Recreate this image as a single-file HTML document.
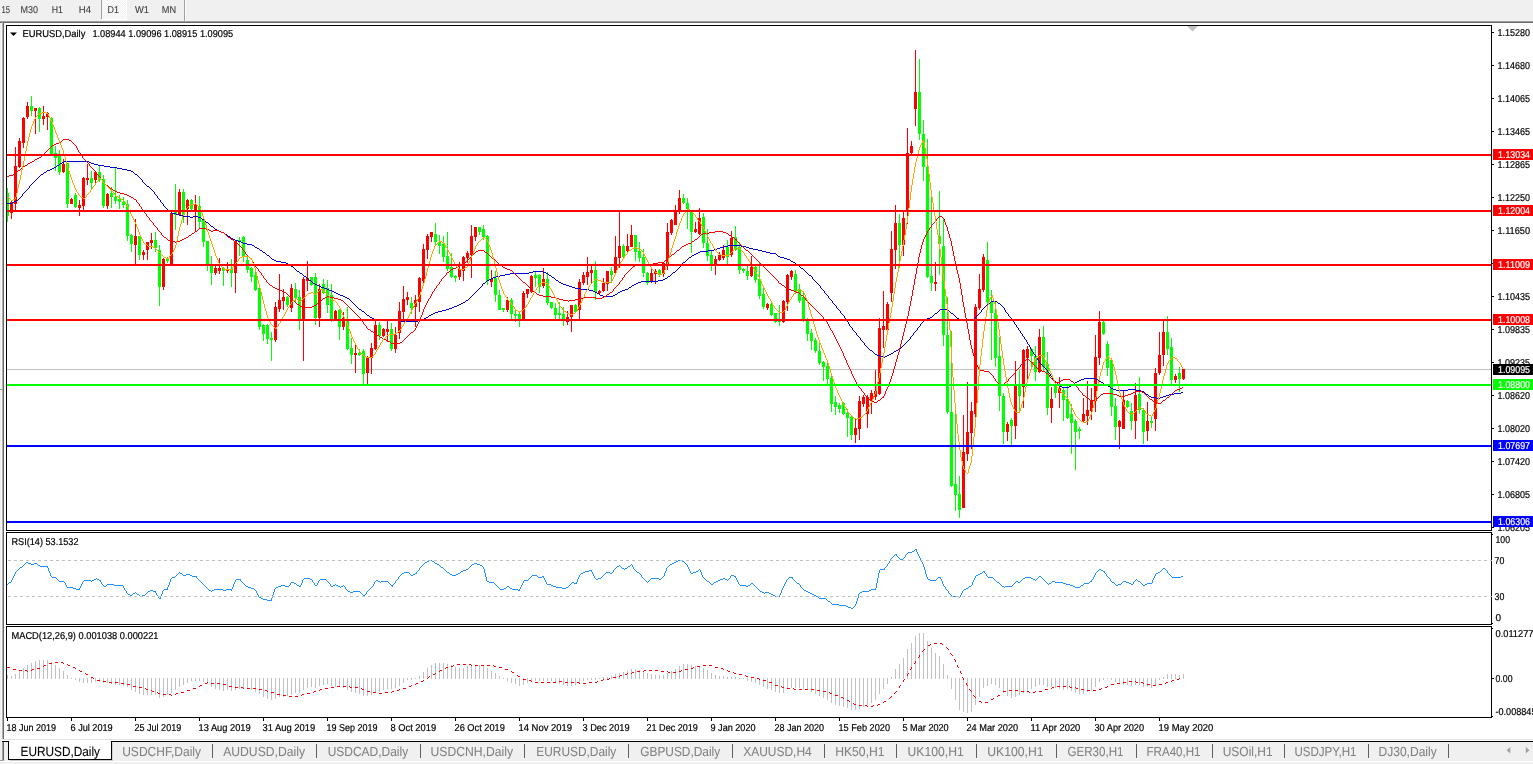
<!DOCTYPE html>
<html><head><meta charset="utf-8"><title>EURUSD,Daily</title>
<style>html,body{margin:0;padding:0;background:#fff;overflow:hidden}svg text{white-space:pre}</style></head>
<body>
<svg width="1533" height="764" viewBox="0 0 1533 764" font-family="Liberation Sans, sans-serif" text-rendering="geometricPrecision" style="display:block">
<defs><pattern id="chk" width="2" height="2" patternUnits="userSpaceOnUse"><rect width="2" height="2" fill="#f0f0f0"/><rect width="1" height="1" fill="#fff"/><rect x="1" y="1" width="1" height="1" fill="#fff"/></pattern></defs>
<g shape-rendering="crispEdges">
<rect x="0" y="0" width="1533" height="764" fill="#fff"/>
<rect x="0" y="0" width="1533" height="21" fill="#f0f0f0"/>
<rect x="0" y="21" width="1533" height="1" fill="#a0a0a0"/>
<rect x="0" y="22" width="1533" height="1" fill="#696969"/>
<rect x="0" y="23" width="1" height="716" fill="#f0f0f0"/>
<rect x="1" y="23" width="1" height="716" fill="#f8f8f8"/>
<rect x="2" y="22" width="1" height="717" fill="#b0b0b0"/>
<rect x="3" y="22" width="1" height="717" fill="#696969"/>
<rect x="0" y="389" width="2" height="1" fill="#a0a0a0"/>
<rect x="0" y="390" width="2" height="1" fill="#fff"/>
<rect x="101" y="0" width="1" height="19" fill="#a0a0a0"/>
<rect x="102" y="0" width="24" height="19" fill="url(#chk)"/>
<rect x="126" y="0" width="1" height="20" fill="#fff"/>
<rect x="102" y="19" width="25" height="1" fill="#fff"/>
<rect x="184" y="0" width="1" height="21" fill="#a0a0a0"/>
<rect x="185" y="0" width="1" height="21" fill="#fff"/>
<rect x="0" y="739" width="1533" height="25" fill="#f0f0f0"/>
<rect x="2" y="739" width="1533" height="1" fill="#e3e3e3"/>
<rect x="2" y="740" width="1533" height="1" fill="#fff"/>
<rect x="0" y="761" width="1533" height="1" fill="#fff"/>
<rect x="2" y="741" width="1533" height="1" fill="#000"/>
<rect x="9" y="740" width="102" height="19" fill="#fff"/>
<rect x="8" y="741" width="1" height="19" fill="#000"/>
<rect x="111" y="741" width="1" height="19" fill="#000"/>
<rect x="8" y="759" width="104" height="1" fill="#000"/>
<rect x="112" y="743" width="1" height="18" fill="#d0d0d0"/>
<rect x="10" y="760" width="103" height="1" fill="#c8c8c8"/>
<rect x="2" y="742" width="1" height="19" fill="#a0a0a0"/>
<rect x="3" y="742" width="1" height="19" fill="#696969"/>
<rect x="0" y="760" width="4" height="1" fill="#a0a0a0"/>
<rect x="7" y="369" width="1484" height="1" fill="#c0c0c0"/>
<rect x="7" y="188" width="1" height="34" fill="#00ff00"/>
<rect x="6" y="193" width="3" height="23" fill="#00ff00"/>
<rect x="11" y="200" width="1" height="19" fill="#ff0000"/>
<rect x="10" y="202" width="3" height="11" fill="#ff0000"/>
<rect x="15" y="147" width="1" height="64" fill="#ff0000"/>
<rect x="14" y="166" width="3" height="38" fill="#ff0000"/>
<rect x="19" y="138" width="1" height="30" fill="#ff0000"/>
<rect x="18" y="141" width="3" height="26" fill="#ff0000"/>
<rect x="23" y="117" width="1" height="31" fill="#ff0000"/>
<rect x="22" y="118" width="3" height="25" fill="#ff0000"/>
<rect x="27" y="102" width="1" height="17" fill="#ff0000"/>
<rect x="26" y="106" width="3" height="11" fill="#ff0000"/>
<rect x="31" y="96" width="1" height="20" fill="#00ff00"/>
<rect x="30" y="106" width="3" height="5" fill="#00ff00"/>
<rect x="35" y="108" width="1" height="26" fill="#ff0000"/>
<rect x="34" y="108" width="3" height="3" fill="#ff0000"/>
<rect x="39" y="107" width="1" height="25" fill="#00ff00"/>
<rect x="38" y="108" width="3" height="11" fill="#00ff00"/>
<rect x="43" y="106" width="1" height="19" fill="#ff0000"/>
<rect x="42" y="116" width="3" height="3" fill="#ff0000"/>
<rect x="47" y="112" width="1" height="18" fill="#ff0000"/>
<rect x="46" y="113" width="3" height="4" fill="#ff0000"/>
<rect x="51" y="117" width="1" height="38" fill="#00ff00"/>
<rect x="50" y="118" width="3" height="36" fill="#00ff00"/>
<rect x="55" y="146" width="1" height="25" fill="#00ff00"/>
<rect x="54" y="153" width="3" height="5" fill="#00ff00"/>
<rect x="59" y="150" width="1" height="25" fill="#00ff00"/>
<rect x="58" y="155" width="3" height="17" fill="#00ff00"/>
<rect x="63" y="159" width="1" height="14" fill="#ff0000"/>
<rect x="62" y="164" width="3" height="8" fill="#ff0000"/>
<rect x="67" y="163" width="1" height="45" fill="#00ff00"/>
<rect x="66" y="163" width="3" height="41" fill="#00ff00"/>
<rect x="71" y="198" width="1" height="6" fill="#ff0000"/>
<rect x="70" y="199" width="3" height="5" fill="#ff0000"/>
<rect x="75" y="193" width="1" height="15" fill="#00ff00"/>
<rect x="74" y="195" width="3" height="12" fill="#00ff00"/>
<rect x="79" y="200" width="1" height="16" fill="#ff0000"/>
<rect x="78" y="205" width="3" height="3" fill="#ff0000"/>
<rect x="83" y="177" width="1" height="33" fill="#ff0000"/>
<rect x="82" y="178" width="3" height="28" fill="#ff0000"/>
<rect x="87" y="164" width="1" height="21" fill="#ff0000"/>
<rect x="86" y="178" width="3" height="2" fill="#ff0000"/>
<rect x="91" y="171" width="1" height="19" fill="#00ff00"/>
<rect x="90" y="178" width="3" height="5" fill="#00ff00"/>
<rect x="95" y="171" width="1" height="12" fill="#ff0000"/>
<rect x="94" y="172" width="3" height="8" fill="#ff0000"/>
<rect x="99" y="166" width="1" height="16" fill="#00ff00"/>
<rect x="98" y="172" width="3" height="8" fill="#00ff00"/>
<rect x="103" y="175" width="1" height="33" fill="#00ff00"/>
<rect x="102" y="179" width="3" height="27" fill="#00ff00"/>
<rect x="107" y="193" width="1" height="16" fill="#ff0000"/>
<rect x="106" y="194" width="3" height="12" fill="#ff0000"/>
<rect x="111" y="187" width="1" height="21" fill="#00ff00"/>
<rect x="110" y="193" width="3" height="4" fill="#00ff00"/>
<rect x="115" y="167" width="1" height="37" fill="#00ff00"/>
<rect x="114" y="197" width="3" height="4" fill="#00ff00"/>
<rect x="119" y="195" width="1" height="14" fill="#00ff00"/>
<rect x="118" y="199" width="3" height="3" fill="#00ff00"/>
<rect x="123" y="197" width="1" height="11" fill="#00ff00"/>
<rect x="122" y="202" width="3" height="3" fill="#00ff00"/>
<rect x="127" y="200" width="1" height="41" fill="#00ff00"/>
<rect x="126" y="204" width="3" height="32" fill="#00ff00"/>
<rect x="131" y="234" width="1" height="18" fill="#00ff00"/>
<rect x="130" y="235" width="3" height="9" fill="#00ff00"/>
<rect x="135" y="219" width="1" height="45" fill="#ff0000"/>
<rect x="134" y="236" width="3" height="9" fill="#ff0000"/>
<rect x="139" y="236" width="1" height="24" fill="#00ff00"/>
<rect x="138" y="236" width="3" height="19" fill="#00ff00"/>
<rect x="143" y="250" width="1" height="10" fill="#ff0000"/>
<rect x="142" y="252" width="3" height="3" fill="#ff0000"/>
<rect x="147" y="242" width="1" height="18" fill="#ff0000"/>
<rect x="146" y="242" width="3" height="8" fill="#ff0000"/>
<rect x="151" y="233" width="1" height="16" fill="#ff0000"/>
<rect x="150" y="240" width="3" height="3" fill="#ff0000"/>
<rect x="155" y="232" width="1" height="20" fill="#00ff00"/>
<rect x="154" y="240" width="3" height="8" fill="#00ff00"/>
<rect x="159" y="245" width="1" height="61" fill="#00ff00"/>
<rect x="158" y="250" width="3" height="37" fill="#00ff00"/>
<rect x="163" y="258" width="1" height="32" fill="#ff0000"/>
<rect x="162" y="259" width="3" height="28" fill="#ff0000"/>
<rect x="167" y="257" width="1" height="6" fill="#00ff00"/>
<rect x="166" y="258" width="3" height="3" fill="#00ff00"/>
<rect x="171" y="212" width="1" height="53" fill="#ff0000"/>
<rect x="170" y="213" width="3" height="51" fill="#ff0000"/>
<rect x="175" y="184" width="1" height="46" fill="#00ff00"/>
<rect x="174" y="212" width="3" height="3" fill="#00ff00"/>
<rect x="179" y="189" width="1" height="27" fill="#ff0000"/>
<rect x="178" y="192" width="3" height="23" fill="#ff0000"/>
<rect x="183" y="189" width="1" height="34" fill="#00ff00"/>
<rect x="182" y="192" width="3" height="23" fill="#00ff00"/>
<rect x="187" y="199" width="1" height="26" fill="#ff0000"/>
<rect x="186" y="200" width="3" height="9" fill="#ff0000"/>
<rect x="191" y="199" width="1" height="11" fill="#00ff00"/>
<rect x="190" y="200" width="3" height="9" fill="#00ff00"/>
<rect x="195" y="195" width="1" height="37" fill="#ff0000"/>
<rect x="194" y="205" width="3" height="6" fill="#ff0000"/>
<rect x="199" y="196" width="1" height="32" fill="#00ff00"/>
<rect x="198" y="206" width="3" height="16" fill="#00ff00"/>
<rect x="203" y="219" width="1" height="28" fill="#00ff00"/>
<rect x="202" y="220" width="3" height="22" fill="#00ff00"/>
<rect x="207" y="241" width="1" height="30" fill="#00ff00"/>
<rect x="206" y="241" width="3" height="23" fill="#00ff00"/>
<rect x="211" y="256" width="1" height="29" fill="#00ff00"/>
<rect x="210" y="265" width="3" height="8" fill="#00ff00"/>
<rect x="215" y="264" width="1" height="11" fill="#ff0000"/>
<rect x="214" y="268" width="3" height="5" fill="#ff0000"/>
<rect x="219" y="258" width="1" height="16" fill="#ff0000"/>
<rect x="218" y="268" width="3" height="3" fill="#ff0000"/>
<rect x="223" y="267" width="1" height="19" fill="#00ff00"/>
<rect x="222" y="268" width="3" height="3" fill="#00ff00"/>
<rect x="227" y="262" width="1" height="11" fill="#ff0000"/>
<rect x="226" y="269" width="3" height="2" fill="#ff0000"/>
<rect x="231" y="259" width="1" height="28" fill="#00ff00"/>
<rect x="230" y="269" width="3" height="4" fill="#00ff00"/>
<rect x="235" y="240" width="1" height="53" fill="#ff0000"/>
<rect x="234" y="241" width="3" height="32" fill="#ff0000"/>
<rect x="239" y="237" width="1" height="19" fill="#00ff00"/>
<rect x="238" y="240" width="3" height="2" fill="#00ff00"/>
<rect x="243" y="236" width="1" height="26" fill="#00ff00"/>
<rect x="242" y="237" width="3" height="20" fill="#00ff00"/>
<rect x="247" y="256" width="1" height="17" fill="#00ff00"/>
<rect x="246" y="260" width="3" height="10" fill="#00ff00"/>
<rect x="251" y="267" width="1" height="15" fill="#00ff00"/>
<rect x="250" y="268" width="3" height="9" fill="#00ff00"/>
<rect x="255" y="269" width="1" height="22" fill="#00ff00"/>
<rect x="254" y="275" width="3" height="15" fill="#00ff00"/>
<rect x="259" y="288" width="1" height="42" fill="#00ff00"/>
<rect x="258" y="288" width="3" height="39" fill="#00ff00"/>
<rect x="263" y="324" width="1" height="17" fill="#00ff00"/>
<rect x="262" y="325" width="3" height="9" fill="#00ff00"/>
<rect x="267" y="324" width="1" height="20" fill="#00ff00"/>
<rect x="266" y="325" width="3" height="14" fill="#00ff00"/>
<rect x="271" y="332" width="1" height="29" fill="#00ff00"/>
<rect x="270" y="338" width="3" height="2" fill="#00ff00"/>
<rect x="275" y="302" width="1" height="40" fill="#ff0000"/>
<rect x="274" y="307" width="3" height="33" fill="#ff0000"/>
<rect x="279" y="274" width="1" height="38" fill="#ff0000"/>
<rect x="278" y="300" width="3" height="9" fill="#ff0000"/>
<rect x="283" y="289" width="1" height="21" fill="#ff0000"/>
<rect x="282" y="297" width="3" height="4" fill="#ff0000"/>
<rect x="287" y="296" width="1" height="11" fill="#00ff00"/>
<rect x="286" y="297" width="3" height="8" fill="#00ff00"/>
<rect x="291" y="284" width="1" height="28" fill="#ff0000"/>
<rect x="290" y="288" width="3" height="20" fill="#ff0000"/>
<rect x="295" y="283" width="1" height="19" fill="#00ff00"/>
<rect x="294" y="289" width="3" height="9" fill="#00ff00"/>
<rect x="299" y="290" width="1" height="40" fill="#00ff00"/>
<rect x="298" y="297" width="3" height="22" fill="#00ff00"/>
<rect x="303" y="277" width="1" height="84" fill="#ff0000"/>
<rect x="302" y="279" width="3" height="40" fill="#ff0000"/>
<rect x="307" y="261" width="1" height="30" fill="#ff0000"/>
<rect x="306" y="278" width="3" height="3" fill="#ff0000"/>
<rect x="311" y="277" width="1" height="9" fill="#00ff00"/>
<rect x="310" y="277" width="3" height="8" fill="#00ff00"/>
<rect x="315" y="273" width="1" height="52" fill="#00ff00"/>
<rect x="314" y="277" width="3" height="41" fill="#00ff00"/>
<rect x="319" y="284" width="1" height="43" fill="#ff0000"/>
<rect x="318" y="289" width="3" height="29" fill="#ff0000"/>
<rect x="323" y="279" width="1" height="15" fill="#00ff00"/>
<rect x="322" y="284" width="3" height="9" fill="#00ff00"/>
<rect x="327" y="280" width="1" height="33" fill="#00ff00"/>
<rect x="326" y="288" width="3" height="17" fill="#00ff00"/>
<rect x="331" y="284" width="1" height="38" fill="#00ff00"/>
<rect x="330" y="295" width="3" height="24" fill="#00ff00"/>
<rect x="335" y="310" width="1" height="10" fill="#ff0000"/>
<rect x="334" y="311" width="3" height="8" fill="#ff0000"/>
<rect x="339" y="309" width="1" height="31" fill="#00ff00"/>
<rect x="338" y="310" width="3" height="17" fill="#00ff00"/>
<rect x="343" y="312" width="1" height="18" fill="#ff0000"/>
<rect x="342" y="318" width="3" height="9" fill="#ff0000"/>
<rect x="347" y="307" width="1" height="43" fill="#00ff00"/>
<rect x="346" y="321" width="3" height="28" fill="#00ff00"/>
<rect x="351" y="338" width="1" height="26" fill="#00ff00"/>
<rect x="350" y="348" width="3" height="7" fill="#00ff00"/>
<rect x="355" y="343" width="1" height="30" fill="#ff0000"/>
<rect x="354" y="353" width="3" height="2" fill="#ff0000"/>
<rect x="359" y="349" width="1" height="7" fill="#00ff00"/>
<rect x="358" y="353" width="3" height="2" fill="#00ff00"/>
<rect x="363" y="349" width="1" height="36" fill="#00ff00"/>
<rect x="362" y="351" width="3" height="23" fill="#00ff00"/>
<rect x="367" y="356" width="1" height="30" fill="#ff0000"/>
<rect x="366" y="357" width="3" height="16" fill="#ff0000"/>
<rect x="371" y="343" width="1" height="31" fill="#ff0000"/>
<rect x="370" y="348" width="3" height="10" fill="#ff0000"/>
<rect x="375" y="321" width="1" height="29" fill="#ff0000"/>
<rect x="374" y="325" width="3" height="24" fill="#ff0000"/>
<rect x="379" y="322" width="1" height="18" fill="#00ff00"/>
<rect x="378" y="325" width="3" height="11" fill="#00ff00"/>
<rect x="383" y="328" width="1" height="9" fill="#ff0000"/>
<rect x="382" y="329" width="3" height="7" fill="#ff0000"/>
<rect x="387" y="321" width="1" height="21" fill="#ff0000"/>
<rect x="386" y="329" width="3" height="3" fill="#ff0000"/>
<rect x="391" y="323" width="1" height="28" fill="#00ff00"/>
<rect x="390" y="329" width="3" height="20" fill="#00ff00"/>
<rect x="395" y="327" width="1" height="26" fill="#ff0000"/>
<rect x="394" y="335" width="3" height="14" fill="#ff0000"/>
<rect x="399" y="302" width="1" height="37" fill="#ff0000"/>
<rect x="398" y="311" width="3" height="22" fill="#ff0000"/>
<rect x="403" y="286" width="1" height="33" fill="#ff0000"/>
<rect x="402" y="299" width="3" height="13" fill="#ff0000"/>
<rect x="407" y="292" width="1" height="13" fill="#ff0000"/>
<rect x="406" y="297" width="3" height="3" fill="#ff0000"/>
<rect x="411" y="297" width="1" height="17" fill="#00ff00"/>
<rect x="410" y="303" width="3" height="5" fill="#00ff00"/>
<rect x="415" y="295" width="1" height="32" fill="#ff0000"/>
<rect x="414" y="300" width="3" height="7" fill="#ff0000"/>
<rect x="419" y="277" width="1" height="35" fill="#ff0000"/>
<rect x="418" y="278" width="3" height="24" fill="#ff0000"/>
<rect x="423" y="244" width="1" height="42" fill="#ff0000"/>
<rect x="422" y="249" width="3" height="32" fill="#ff0000"/>
<rect x="427" y="234" width="1" height="25" fill="#ff0000"/>
<rect x="426" y="236" width="3" height="14" fill="#ff0000"/>
<rect x="431" y="232" width="1" height="10" fill="#ff0000"/>
<rect x="430" y="232" width="3" height="5" fill="#ff0000"/>
<rect x="435" y="223" width="1" height="23" fill="#00ff00"/>
<rect x="434" y="234" width="3" height="8" fill="#00ff00"/>
<rect x="439" y="235" width="1" height="19" fill="#00ff00"/>
<rect x="438" y="242" width="3" height="4" fill="#00ff00"/>
<rect x="443" y="236" width="1" height="26" fill="#00ff00"/>
<rect x="442" y="244" width="3" height="13" fill="#00ff00"/>
<rect x="447" y="232" width="1" height="39" fill="#00ff00"/>
<rect x="446" y="256" width="3" height="13" fill="#00ff00"/>
<rect x="451" y="253" width="1" height="25" fill="#00ff00"/>
<rect x="450" y="267" width="3" height="10" fill="#00ff00"/>
<rect x="455" y="275" width="1" height="7" fill="#00ff00"/>
<rect x="454" y="276" width="3" height="2" fill="#00ff00"/>
<rect x="459" y="262" width="1" height="18" fill="#ff0000"/>
<rect x="458" y="269" width="3" height="8" fill="#ff0000"/>
<rect x="463" y="256" width="1" height="25" fill="#ff0000"/>
<rect x="462" y="257" width="3" height="14" fill="#ff0000"/>
<rect x="467" y="251" width="1" height="12" fill="#ff0000"/>
<rect x="466" y="253" width="3" height="5" fill="#ff0000"/>
<rect x="471" y="225" width="1" height="53" fill="#ff0000"/>
<rect x="470" y="236" width="3" height="19" fill="#ff0000"/>
<rect x="475" y="227" width="1" height="14" fill="#ff0000"/>
<rect x="474" y="227" width="3" height="10" fill="#ff0000"/>
<rect x="479" y="227" width="1" height="8" fill="#00ff00"/>
<rect x="478" y="227" width="3" height="5" fill="#00ff00"/>
<rect x="483" y="225" width="1" height="15" fill="#00ff00"/>
<rect x="482" y="229" width="3" height="8" fill="#00ff00"/>
<rect x="487" y="235" width="1" height="50" fill="#00ff00"/>
<rect x="486" y="236" width="3" height="45" fill="#00ff00"/>
<rect x="491" y="270" width="1" height="17" fill="#ff0000"/>
<rect x="490" y="279" width="3" height="3" fill="#ff0000"/>
<rect x="495" y="271" width="1" height="31" fill="#00ff00"/>
<rect x="494" y="278" width="3" height="17" fill="#00ff00"/>
<rect x="499" y="290" width="1" height="20" fill="#00ff00"/>
<rect x="498" y="295" width="3" height="15" fill="#00ff00"/>
<rect x="503" y="308" width="1" height="4" fill="#00ff00"/>
<rect x="502" y="308" width="3" height="2" fill="#00ff00"/>
<rect x="507" y="297" width="1" height="15" fill="#ff0000"/>
<rect x="506" y="300" width="3" height="10" fill="#ff0000"/>
<rect x="511" y="298" width="1" height="21" fill="#00ff00"/>
<rect x="510" y="300" width="3" height="14" fill="#00ff00"/>
<rect x="515" y="310" width="1" height="12" fill="#00ff00"/>
<rect x="514" y="314" width="3" height="2" fill="#00ff00"/>
<rect x="519" y="312" width="1" height="15" fill="#00ff00"/>
<rect x="518" y="314" width="3" height="5" fill="#00ff00"/>
<rect x="523" y="291" width="1" height="28" fill="#ff0000"/>
<rect x="522" y="293" width="3" height="26" fill="#ff0000"/>
<rect x="527" y="289" width="1" height="9" fill="#ff0000"/>
<rect x="526" y="289" width="3" height="5" fill="#ff0000"/>
<rect x="531" y="275" width="1" height="18" fill="#ff0000"/>
<rect x="530" y="276" width="3" height="16" fill="#ff0000"/>
<rect x="535" y="272" width="1" height="15" fill="#00ff00"/>
<rect x="534" y="275" width="3" height="3" fill="#00ff00"/>
<rect x="539" y="274" width="1" height="19" fill="#00ff00"/>
<rect x="538" y="275" width="3" height="12" fill="#00ff00"/>
<rect x="543" y="268" width="1" height="20" fill="#ff0000"/>
<rect x="542" y="279" width="3" height="7" fill="#ff0000"/>
<rect x="547" y="272" width="1" height="33" fill="#00ff00"/>
<rect x="546" y="279" width="3" height="24" fill="#00ff00"/>
<rect x="551" y="302" width="1" height="7" fill="#00ff00"/>
<rect x="550" y="302" width="3" height="6" fill="#00ff00"/>
<rect x="555" y="303" width="1" height="16" fill="#00ff00"/>
<rect x="554" y="308" width="3" height="7" fill="#00ff00"/>
<rect x="559" y="302" width="1" height="17" fill="#00ff00"/>
<rect x="558" y="313" width="3" height="2" fill="#00ff00"/>
<rect x="563" y="307" width="1" height="19" fill="#00ff00"/>
<rect x="562" y="314" width="3" height="7" fill="#00ff00"/>
<rect x="567" y="311" width="1" height="14" fill="#ff0000"/>
<rect x="566" y="317" width="3" height="5" fill="#ff0000"/>
<rect x="571" y="305" width="1" height="27" fill="#ff0000"/>
<rect x="570" y="305" width="3" height="12" fill="#ff0000"/>
<rect x="575" y="304" width="1" height="9" fill="#00ff00"/>
<rect x="574" y="305" width="3" height="7" fill="#00ff00"/>
<rect x="579" y="279" width="1" height="41" fill="#ff0000"/>
<rect x="578" y="282" width="3" height="28" fill="#ff0000"/>
<rect x="583" y="272" width="1" height="13" fill="#ff0000"/>
<rect x="582" y="275" width="3" height="8" fill="#ff0000"/>
<rect x="587" y="257" width="1" height="28" fill="#ff0000"/>
<rect x="586" y="272" width="3" height="5" fill="#ff0000"/>
<rect x="591" y="264" width="1" height="20" fill="#ff0000"/>
<rect x="590" y="270" width="3" height="3" fill="#ff0000"/>
<rect x="595" y="261" width="1" height="39" fill="#00ff00"/>
<rect x="594" y="270" width="3" height="22" fill="#00ff00"/>
<rect x="599" y="290" width="1" height="5" fill="#ff0000"/>
<rect x="598" y="291" width="3" height="2" fill="#ff0000"/>
<rect x="603" y="278" width="1" height="14" fill="#ff0000"/>
<rect x="602" y="283" width="3" height="8" fill="#ff0000"/>
<rect x="607" y="271" width="1" height="20" fill="#ff0000"/>
<rect x="606" y="271" width="3" height="13" fill="#ff0000"/>
<rect x="611" y="267" width="1" height="16" fill="#00ff00"/>
<rect x="610" y="271" width="3" height="4" fill="#00ff00"/>
<rect x="615" y="236" width="1" height="38" fill="#ff0000"/>
<rect x="614" y="257" width="3" height="16" fill="#ff0000"/>
<rect x="619" y="212" width="1" height="56" fill="#ff0000"/>
<rect x="618" y="246" width="3" height="12" fill="#ff0000"/>
<rect x="623" y="244" width="1" height="15" fill="#00ff00"/>
<rect x="622" y="246" width="3" height="11" fill="#00ff00"/>
<rect x="627" y="234" width="1" height="18" fill="#ff0000"/>
<rect x="626" y="246" width="3" height="5" fill="#ff0000"/>
<rect x="631" y="225" width="1" height="22" fill="#ff0000"/>
<rect x="630" y="235" width="3" height="12" fill="#ff0000"/>
<rect x="635" y="235" width="1" height="26" fill="#00ff00"/>
<rect x="634" y="235" width="3" height="17" fill="#00ff00"/>
<rect x="639" y="242" width="1" height="20" fill="#00ff00"/>
<rect x="638" y="251" width="3" height="7" fill="#00ff00"/>
<rect x="643" y="249" width="1" height="28" fill="#00ff00"/>
<rect x="642" y="257" width="3" height="16" fill="#00ff00"/>
<rect x="647" y="272" width="1" height="13" fill="#00ff00"/>
<rect x="646" y="273" width="3" height="10" fill="#00ff00"/>
<rect x="651" y="268" width="1" height="15" fill="#ff0000"/>
<rect x="650" y="273" width="3" height="9" fill="#ff0000"/>
<rect x="655" y="269" width="1" height="15" fill="#ff0000"/>
<rect x="654" y="271" width="3" height="3" fill="#ff0000"/>
<rect x="659" y="269" width="1" height="8" fill="#00ff00"/>
<rect x="658" y="270" width="3" height="5" fill="#00ff00"/>
<rect x="663" y="262" width="1" height="15" fill="#ff0000"/>
<rect x="662" y="263" width="3" height="11" fill="#ff0000"/>
<rect x="667" y="223" width="1" height="47" fill="#ff0000"/>
<rect x="666" y="232" width="3" height="34" fill="#ff0000"/>
<rect x="671" y="219" width="1" height="16" fill="#ff0000"/>
<rect x="670" y="220" width="3" height="13" fill="#ff0000"/>
<rect x="675" y="205" width="1" height="20" fill="#ff0000"/>
<rect x="674" y="211" width="3" height="14" fill="#ff0000"/>
<rect x="679" y="190" width="1" height="24" fill="#ff0000"/>
<rect x="678" y="198" width="3" height="14" fill="#ff0000"/>
<rect x="683" y="194" width="1" height="10" fill="#00ff00"/>
<rect x="682" y="198" width="3" height="5" fill="#00ff00"/>
<rect x="687" y="198" width="1" height="31" fill="#00ff00"/>
<rect x="686" y="203" width="3" height="6" fill="#00ff00"/>
<rect x="691" y="211" width="1" height="42" fill="#00ff00"/>
<rect x="690" y="212" width="3" height="20" fill="#00ff00"/>
<rect x="695" y="222" width="1" height="11" fill="#ff0000"/>
<rect x="694" y="229" width="3" height="3" fill="#ff0000"/>
<rect x="699" y="208" width="1" height="27" fill="#ff0000"/>
<rect x="698" y="218" width="3" height="16" fill="#ff0000"/>
<rect x="703" y="213" width="1" height="35" fill="#00ff00"/>
<rect x="702" y="217" width="3" height="26" fill="#00ff00"/>
<rect x="707" y="229" width="1" height="32" fill="#00ff00"/>
<rect x="706" y="243" width="3" height="13" fill="#00ff00"/>
<rect x="711" y="251" width="1" height="20" fill="#00ff00"/>
<rect x="710" y="255" width="3" height="9" fill="#00ff00"/>
<rect x="715" y="256" width="1" height="19" fill="#ff0000"/>
<rect x="714" y="259" width="3" height="5" fill="#ff0000"/>
<rect x="719" y="252" width="1" height="9" fill="#ff0000"/>
<rect x="718" y="255" width="3" height="5" fill="#ff0000"/>
<rect x="723" y="245" width="1" height="15" fill="#ff0000"/>
<rect x="722" y="250" width="3" height="8" fill="#ff0000"/>
<rect x="727" y="240" width="1" height="24" fill="#00ff00"/>
<rect x="726" y="247" width="3" height="10" fill="#00ff00"/>
<rect x="731" y="231" width="1" height="26" fill="#ff0000"/>
<rect x="730" y="238" width="3" height="17" fill="#ff0000"/>
<rect x="735" y="226" width="1" height="25" fill="#00ff00"/>
<rect x="734" y="237" width="3" height="13" fill="#00ff00"/>
<rect x="739" y="242" width="1" height="32" fill="#00ff00"/>
<rect x="738" y="247" width="3" height="23" fill="#00ff00"/>
<rect x="743" y="268" width="1" height="5" fill="#00ff00"/>
<rect x="742" y="269" width="3" height="2" fill="#00ff00"/>
<rect x="747" y="266" width="1" height="14" fill="#00ff00"/>
<rect x="746" y="271" width="3" height="5" fill="#00ff00"/>
<rect x="751" y="256" width="1" height="21" fill="#ff0000"/>
<rect x="750" y="267" width="3" height="9" fill="#ff0000"/>
<rect x="755" y="266" width="1" height="17" fill="#00ff00"/>
<rect x="754" y="267" width="3" height="13" fill="#00ff00"/>
<rect x="759" y="262" width="1" height="37" fill="#00ff00"/>
<rect x="758" y="279" width="3" height="17" fill="#00ff00"/>
<rect x="763" y="287" width="1" height="22" fill="#00ff00"/>
<rect x="762" y="294" width="3" height="13" fill="#00ff00"/>
<rect x="767" y="303" width="1" height="7" fill="#ff0000"/>
<rect x="766" y="304" width="3" height="4" fill="#ff0000"/>
<rect x="771" y="302" width="1" height="14" fill="#00ff00"/>
<rect x="770" y="304" width="3" height="11" fill="#00ff00"/>
<rect x="775" y="313" width="1" height="10" fill="#00ff00"/>
<rect x="774" y="313" width="3" height="9" fill="#00ff00"/>
<rect x="779" y="305" width="1" height="21" fill="#00ff00"/>
<rect x="778" y="320" width="3" height="2" fill="#00ff00"/>
<rect x="783" y="300" width="1" height="23" fill="#ff0000"/>
<rect x="782" y="301" width="3" height="21" fill="#ff0000"/>
<rect x="787" y="274" width="1" height="37" fill="#ff0000"/>
<rect x="786" y="275" width="3" height="27" fill="#ff0000"/>
<rect x="791" y="270" width="1" height="10" fill="#ff0000"/>
<rect x="790" y="271" width="3" height="6" fill="#ff0000"/>
<rect x="795" y="270" width="1" height="24" fill="#00ff00"/>
<rect x="794" y="274" width="3" height="18" fill="#00ff00"/>
<rect x="799" y="284" width="1" height="19" fill="#00ff00"/>
<rect x="798" y="289" width="3" height="12" fill="#00ff00"/>
<rect x="803" y="292" width="1" height="30" fill="#00ff00"/>
<rect x="802" y="297" width="3" height="23" fill="#00ff00"/>
<rect x="807" y="318" width="1" height="23" fill="#00ff00"/>
<rect x="806" y="320" width="3" height="14" fill="#00ff00"/>
<rect x="811" y="329" width="1" height="21" fill="#00ff00"/>
<rect x="810" y="333" width="3" height="8" fill="#00ff00"/>
<rect x="815" y="338" width="1" height="15" fill="#00ff00"/>
<rect x="814" y="340" width="3" height="11" fill="#00ff00"/>
<rect x="819" y="343" width="1" height="22" fill="#00ff00"/>
<rect x="818" y="351" width="3" height="12" fill="#00ff00"/>
<rect x="823" y="361" width="1" height="20" fill="#00ff00"/>
<rect x="822" y="362" width="3" height="5" fill="#00ff00"/>
<rect x="827" y="361" width="1" height="23" fill="#00ff00"/>
<rect x="826" y="366" width="3" height="13" fill="#00ff00"/>
<rect x="831" y="376" width="1" height="36" fill="#00ff00"/>
<rect x="830" y="378" width="3" height="26" fill="#00ff00"/>
<rect x="835" y="396" width="1" height="19" fill="#00ff00"/>
<rect x="834" y="402" width="3" height="5" fill="#00ff00"/>
<rect x="839" y="403" width="1" height="10" fill="#00ff00"/>
<rect x="838" y="405" width="3" height="4" fill="#00ff00"/>
<rect x="843" y="402" width="1" height="13" fill="#00ff00"/>
<rect x="842" y="403" width="3" height="11" fill="#00ff00"/>
<rect x="847" y="409" width="1" height="28" fill="#00ff00"/>
<rect x="846" y="413" width="3" height="5" fill="#00ff00"/>
<rect x="851" y="416" width="1" height="24" fill="#00ff00"/>
<rect x="850" y="417" width="3" height="18" fill="#00ff00"/>
<rect x="855" y="419" width="1" height="24" fill="#ff0000"/>
<rect x="854" y="428" width="3" height="7" fill="#ff0000"/>
<rect x="859" y="396" width="1" height="44" fill="#ff0000"/>
<rect x="858" y="401" width="3" height="28" fill="#ff0000"/>
<rect x="863" y="395" width="1" height="12" fill="#ff0000"/>
<rect x="862" y="397" width="3" height="7" fill="#ff0000"/>
<rect x="867" y="395" width="1" height="33" fill="#ff0000"/>
<rect x="866" y="397" width="3" height="17" fill="#ff0000"/>
<rect x="871" y="390" width="1" height="24" fill="#ff0000"/>
<rect x="870" y="393" width="3" height="7" fill="#ff0000"/>
<rect x="875" y="370" width="1" height="30" fill="#ff0000"/>
<rect x="874" y="391" width="3" height="6" fill="#ff0000"/>
<rect x="879" y="318" width="1" height="77" fill="#ff0000"/>
<rect x="878" y="328" width="3" height="66" fill="#ff0000"/>
<rect x="883" y="291" width="1" height="57" fill="#ff0000"/>
<rect x="882" y="326" width="3" height="4" fill="#ff0000"/>
<rect x="887" y="302" width="1" height="30" fill="#ff0000"/>
<rect x="886" y="304" width="3" height="26" fill="#ff0000"/>
<rect x="891" y="231" width="1" height="71" fill="#ff0000"/>
<rect x="890" y="249" width="3" height="44" fill="#ff0000"/>
<rect x="895" y="205" width="1" height="64" fill="#ff0000"/>
<rect x="894" y="223" width="3" height="27" fill="#ff0000"/>
<rect x="899" y="214" width="1" height="54" fill="#00ff00"/>
<rect x="898" y="223" width="3" height="22" fill="#00ff00"/>
<rect x="903" y="211" width="1" height="45" fill="#ff0000"/>
<rect x="902" y="218" width="3" height="27" fill="#ff0000"/>
<rect x="907" y="128" width="1" height="96" fill="#ff0000"/>
<rect x="906" y="153" width="3" height="57" fill="#ff0000"/>
<rect x="911" y="141" width="1" height="15" fill="#ff0000"/>
<rect x="910" y="146" width="3" height="7" fill="#ff0000"/>
<rect x="915" y="50" width="1" height="76" fill="#ff0000"/>
<rect x="914" y="92" width="3" height="17" fill="#ff0000"/>
<rect x="919" y="59" width="1" height="81" fill="#00ff00"/>
<rect x="918" y="92" width="3" height="42" fill="#00ff00"/>
<rect x="923" y="120" width="1" height="61" fill="#00ff00"/>
<rect x="922" y="134" width="3" height="33" fill="#00ff00"/>
<rect x="927" y="139" width="1" height="139" fill="#00ff00"/>
<rect x="926" y="167" width="3" height="110" fill="#00ff00"/>
<rect x="931" y="197" width="1" height="94" fill="#00ff00"/>
<rect x="930" y="276" width="3" height="7" fill="#00ff00"/>
<rect x="935" y="262" width="1" height="29" fill="#ff0000"/>
<rect x="934" y="282" width="3" height="2" fill="#ff0000"/>
<rect x="939" y="191" width="1" height="84" fill="#00ff00"/>
<rect x="938" y="236" width="3" height="8" fill="#00ff00"/>
<rect x="943" y="218" width="1" height="128" fill="#00ff00"/>
<rect x="942" y="246" width="3" height="89" fill="#00ff00"/>
<rect x="947" y="297" width="1" height="117" fill="#00ff00"/>
<rect x="946" y="335" width="3" height="77" fill="#00ff00"/>
<rect x="951" y="331" width="1" height="156" fill="#00ff00"/>
<rect x="950" y="412" width="3" height="74" fill="#00ff00"/>
<rect x="955" y="414" width="1" height="97" fill="#00ff00"/>
<rect x="954" y="484" width="3" height="11" fill="#00ff00"/>
<rect x="959" y="476" width="1" height="42" fill="#00ff00"/>
<rect x="958" y="494" width="3" height="16" fill="#00ff00"/>
<rect x="963" y="415" width="1" height="93" fill="#ff0000"/>
<rect x="962" y="452" width="3" height="56" fill="#ff0000"/>
<rect x="967" y="382" width="1" height="79" fill="#ff0000"/>
<rect x="966" y="432" width="3" height="22" fill="#ff0000"/>
<rect x="971" y="402" width="1" height="47" fill="#ff0000"/>
<rect x="970" y="411" width="3" height="22" fill="#ff0000"/>
<rect x="975" y="304" width="1" height="119" fill="#ff0000"/>
<rect x="974" y="307" width="3" height="107" fill="#ff0000"/>
<rect x="979" y="274" width="1" height="36" fill="#ff0000"/>
<rect x="978" y="289" width="3" height="19" fill="#ff0000"/>
<rect x="983" y="254" width="1" height="38" fill="#ff0000"/>
<rect x="982" y="257" width="3" height="33" fill="#ff0000"/>
<rect x="987" y="242" width="1" height="63" fill="#00ff00"/>
<rect x="986" y="260" width="3" height="42" fill="#00ff00"/>
<rect x="991" y="290" width="1" height="70" fill="#00ff00"/>
<rect x="990" y="302" width="3" height="11" fill="#00ff00"/>
<rect x="995" y="301" width="1" height="66" fill="#00ff00"/>
<rect x="994" y="313" width="3" height="45" fill="#00ff00"/>
<rect x="999" y="337" width="1" height="74" fill="#00ff00"/>
<rect x="998" y="356" width="3" height="40" fill="#00ff00"/>
<rect x="1003" y="393" width="1" height="51" fill="#00ff00"/>
<rect x="1002" y="396" width="3" height="36" fill="#00ff00"/>
<rect x="1007" y="422" width="1" height="19" fill="#ff0000"/>
<rect x="1006" y="424" width="3" height="8" fill="#ff0000"/>
<rect x="1011" y="418" width="1" height="29" fill="#00ff00"/>
<rect x="1010" y="420" width="3" height="6" fill="#00ff00"/>
<rect x="1015" y="361" width="1" height="78" fill="#ff0000"/>
<rect x="1014" y="384" width="3" height="42" fill="#ff0000"/>
<rect x="1019" y="370" width="1" height="41" fill="#00ff00"/>
<rect x="1018" y="384" width="3" height="12" fill="#00ff00"/>
<rect x="1023" y="349" width="1" height="59" fill="#ff0000"/>
<rect x="1022" y="350" width="3" height="37" fill="#ff0000"/>
<rect x="1027" y="346" width="1" height="33" fill="#ff0000"/>
<rect x="1026" y="349" width="3" height="9" fill="#ff0000"/>
<rect x="1031" y="348" width="1" height="19" fill="#00ff00"/>
<rect x="1030" y="349" width="3" height="7" fill="#00ff00"/>
<rect x="1035" y="346" width="1" height="35" fill="#00ff00"/>
<rect x="1034" y="356" width="3" height="16" fill="#00ff00"/>
<rect x="1039" y="329" width="1" height="44" fill="#ff0000"/>
<rect x="1038" y="337" width="3" height="35" fill="#ff0000"/>
<rect x="1043" y="326" width="1" height="46" fill="#00ff00"/>
<rect x="1042" y="337" width="3" height="30" fill="#00ff00"/>
<rect x="1047" y="352" width="1" height="63" fill="#00ff00"/>
<rect x="1046" y="364" width="3" height="44" fill="#00ff00"/>
<rect x="1051" y="387" width="1" height="36" fill="#ff0000"/>
<rect x="1050" y="399" width="3" height="9" fill="#ff0000"/>
<rect x="1055" y="383" width="1" height="15" fill="#00ff00"/>
<rect x="1054" y="384" width="3" height="9" fill="#00ff00"/>
<rect x="1059" y="377" width="1" height="31" fill="#ff0000"/>
<rect x="1058" y="388" width="3" height="5" fill="#ff0000"/>
<rect x="1063" y="388" width="1" height="33" fill="#00ff00"/>
<rect x="1062" y="390" width="3" height="10" fill="#00ff00"/>
<rect x="1067" y="384" width="1" height="35" fill="#00ff00"/>
<rect x="1066" y="399" width="3" height="19" fill="#00ff00"/>
<rect x="1071" y="404" width="1" height="50" fill="#00ff00"/>
<rect x="1070" y="414" width="3" height="9" fill="#00ff00"/>
<rect x="1075" y="419" width="1" height="51" fill="#00ff00"/>
<rect x="1074" y="421" width="3" height="11" fill="#00ff00"/>
<rect x="1079" y="427" width="1" height="12" fill="#00ff00"/>
<rect x="1078" y="429" width="3" height="2" fill="#00ff00"/>
<rect x="1083" y="398" width="1" height="25" fill="#ff0000"/>
<rect x="1082" y="414" width="3" height="7" fill="#ff0000"/>
<rect x="1087" y="381" width="1" height="44" fill="#ff0000"/>
<rect x="1086" y="410" width="3" height="6" fill="#ff0000"/>
<rect x="1091" y="388" width="1" height="32" fill="#ff0000"/>
<rect x="1090" y="400" width="3" height="11" fill="#ff0000"/>
<rect x="1095" y="335" width="1" height="77" fill="#ff0000"/>
<rect x="1094" y="357" width="3" height="44" fill="#ff0000"/>
<rect x="1099" y="311" width="1" height="54" fill="#ff0000"/>
<rect x="1098" y="322" width="3" height="36" fill="#ff0000"/>
<rect x="1103" y="321" width="1" height="14" fill="#00ff00"/>
<rect x="1102" y="322" width="3" height="12" fill="#00ff00"/>
<rect x="1107" y="341" width="1" height="35" fill="#00ff00"/>
<rect x="1106" y="344" width="3" height="24" fill="#00ff00"/>
<rect x="1111" y="359" width="1" height="57" fill="#00ff00"/>
<rect x="1110" y="360" width="3" height="47" fill="#00ff00"/>
<rect x="1115" y="398" width="1" height="42" fill="#00ff00"/>
<rect x="1114" y="406" width="3" height="21" fill="#00ff00"/>
<rect x="1119" y="420" width="1" height="29" fill="#ff0000"/>
<rect x="1118" y="421" width="3" height="6" fill="#ff0000"/>
<rect x="1123" y="390" width="1" height="39" fill="#ff0000"/>
<rect x="1122" y="400" width="3" height="29" fill="#ff0000"/>
<rect x="1127" y="400" width="1" height="8" fill="#00ff00"/>
<rect x="1126" y="401" width="3" height="6" fill="#00ff00"/>
<rect x="1131" y="403" width="1" height="27" fill="#00ff00"/>
<rect x="1130" y="411" width="3" height="10" fill="#00ff00"/>
<rect x="1135" y="383" width="1" height="56" fill="#ff0000"/>
<rect x="1134" y="395" width="3" height="26" fill="#ff0000"/>
<rect x="1139" y="377" width="1" height="37" fill="#00ff00"/>
<rect x="1138" y="394" width="3" height="16" fill="#00ff00"/>
<rect x="1143" y="408" width="1" height="36" fill="#00ff00"/>
<rect x="1142" y="410" width="3" height="22" fill="#00ff00"/>
<rect x="1147" y="402" width="1" height="39" fill="#ff0000"/>
<rect x="1146" y="421" width="3" height="10" fill="#ff0000"/>
<rect x="1151" y="417" width="1" height="11" fill="#00ff00"/>
<rect x="1150" y="421" width="3" height="2" fill="#00ff00"/>
<rect x="1155" y="368" width="1" height="63" fill="#ff0000"/>
<rect x="1154" y="373" width="3" height="46" fill="#ff0000"/>
<rect x="1159" y="332" width="1" height="43" fill="#ff0000"/>
<rect x="1158" y="355" width="3" height="18" fill="#ff0000"/>
<rect x="1163" y="320" width="1" height="46" fill="#ff0000"/>
<rect x="1162" y="332" width="3" height="23" fill="#ff0000"/>
<rect x="1167" y="316" width="1" height="39" fill="#00ff00"/>
<rect x="1166" y="332" width="3" height="17" fill="#00ff00"/>
<rect x="1171" y="338" width="1" height="46" fill="#00ff00"/>
<rect x="1170" y="347" width="3" height="33" fill="#00ff00"/>
<rect x="1175" y="374" width="1" height="9" fill="#ff0000"/>
<rect x="1174" y="376" width="3" height="4" fill="#ff0000"/>
<rect x="1179" y="367" width="1" height="25" fill="#00ff00"/>
<rect x="1178" y="373" width="3" height="6" fill="#00ff00"/>
<rect x="1183" y="369" width="1" height="11" fill="#ff0000"/>
<rect x="1182" y="369" width="3" height="10" fill="#ff0000"/>
<path d="M7 203h5v1h-5zM12 202h2v1h-2zM14 201h2v1h-2zM16 200h2v1h-2zM18 199h1v1h-1zM19 198h1v1h-1zM20 197h1v1h-1zM21 196h1v1h-1zM22 194h1v2h-1zM23 193h1v1h-1zM24 192h1v1h-1zM25 191h1v1h-1zM26 190h1v1h-1zM27 189h1v1h-1zM28 188h1v1h-1zM29 186h1v2h-1zM30 185h1v1h-1zM31 184h1v1h-1zM32 183h1v1h-1zM33 182h1v1h-1zM34 181h1v1h-1zM35 180h1v1h-1zM36 179h1v1h-1zM37 178h1v1h-1zM38 177h1v1h-1zM39 176h1v1h-1zM40 175h1v1h-1zM41 174h2v1h-2zM43 173h1v1h-1zM44 172h2v1h-2zM46 171h1v1h-1zM47 170h3v1h-3zM50 169h2v1h-2zM52 168h2v1h-2zM54 167h2v1h-2zM56 166h1v1h-1zM57 165h2v1h-2zM59 164h1v1h-1zM60 163h2v1h-2zM62 162h2v1h-2zM64 161h25v1h-25zM89 162h2v1h-2zM91 163h3v1h-3zM94 164h4v1h-4zM98 165h6v1h-6zM104 166h6v1h-6zM110 167h7v1h-7zM117 168h5v1h-5zM122 169h5v1h-5zM127 170h4v1h-4zM131 171h2v1h-2zM133 172h1v1h-1zM134 173h1v1h-1zM135 174h2v1h-2zM137 175h1v1h-1zM138 176h1v1h-1zM139 177h1v1h-1zM140 178h1v1h-1zM141 179h1v1h-1zM142 180h1v2h-1zM143 182h1v1h-1zM144 183h1v1h-1zM145 184h1v1h-1zM146 185h1v1h-1zM147 186h2v1h-2zM149 187h1v1h-1zM150 188h1v1h-1zM151 189h1v1h-1zM152 190h1v1h-1zM153 191h1v1h-1zM154 192h1v2h-1zM155 194h1v1h-1zM156 195h1v1h-1zM157 196h1v2h-1zM158 198h1v1h-1zM159 199h1v1h-1zM160 200h1v2h-1zM161 202h1v1h-1zM162 203h1v1h-1zM163 204h1v2h-1zM164 206h1v1h-1zM165 207h1v1h-1zM166 208h1v1h-1zM167 209h1v1h-1zM168 210h1v1h-1zM169 211h2v1h-2zM171 212h1v1h-1zM172 213h4v1h-4zM176 214h3v1h-3zM179 215h4v1h-4zM183 216h7v1h-7zM190 217h3v1h-3zM193 216h5v1h-5zM198 217h3v1h-3zM201 218h1v1h-1zM202 219h2v1h-2zM204 220h1v1h-1zM205 221h1v1h-1zM206 222h2v1h-2zM208 223h1v1h-1zM209 224h1v1h-1zM210 225h1v1h-1zM211 226h2v1h-2zM213 227h1v1h-1zM214 228h1v1h-1zM215 229h2v1h-2zM217 230h2v1h-2zM219 231h2v1h-2zM221 232h3v1h-3zM224 233h1v1h-1zM225 234h2v1h-2zM227 235h1v1h-1zM228 236h2v1h-2zM230 237h1v1h-1zM231 238h2v1h-2zM233 239h2v1h-2zM235 240h3v1h-3zM238 241h3v1h-3zM241 242h2v1h-2zM243 243h4v1h-4zM247 244h5v1h-5zM252 245h2v1h-2zM254 246h1v1h-1zM255 247h2v1h-2zM257 248h2v1h-2zM259 249h1v1h-1zM260 250h2v1h-2zM262 251h1v1h-1zM263 252h2v1h-2zM265 253h1v1h-1zM266 254h1v1h-1zM267 255h2v1h-2zM269 256h1v1h-1zM270 257h1v1h-1zM271 258h1v1h-1zM272 259h2v1h-2zM274 260h2v1h-2zM276 261h5v1h-5zM281 262h5v1h-5zM286 263h2v1h-2zM288 264h2v1h-2zM290 265h1v1h-1zM291 266h2v1h-2zM293 267h1v1h-1zM294 268h1v1h-1zM295 269h1v1h-1zM296 270h1v1h-1zM297 271h2v1h-2zM299 272h1v1h-1zM300 273h2v1h-2zM302 274h1v1h-1zM303 275h1v1h-1zM304 276h2v1h-2zM306 277h1v1h-1zM307 278h1v1h-1zM308 279h1v1h-1zM309 280h2v1h-2zM311 281h1v1h-1zM312 282h1v1h-1zM313 283h2v1h-2zM315 284h2v1h-2zM317 285h2v1h-2zM319 286h2v1h-2zM321 287h3v1h-3zM324 288h3v1h-3zM327 289h2v1h-2zM329 290h3v1h-3zM332 291h2v1h-2zM334 292h2v1h-2zM336 293h2v1h-2zM338 294h2v1h-2zM340 295h3v1h-3zM343 296h2v1h-2zM345 297h2v1h-2zM347 298h2v1h-2zM349 299h1v1h-1zM350 300h1v1h-1zM351 301h1v1h-1zM352 302h1v1h-1zM353 303h1v1h-1zM354 304h1v1h-1zM355 305h1v1h-1zM356 306h1v1h-1zM357 307h1v1h-1zM358 308h1v1h-1zM359 309h2v1h-2zM361 310h1v1h-1zM362 311h2v1h-2zM364 312h1v1h-1zM365 313h1v1h-1zM366 314h1v1h-1zM367 315h2v1h-2zM369 316h1v1h-1zM370 317h2v1h-2zM372 318h2v1h-2zM374 319h7v1h-7zM381 320h20v1h-20zM401 321h17v1h-17zM418 320h3v1h-3zM421 319h3v1h-3zM424 318h2v1h-2zM426 317h2v1h-2zM428 316h1v1h-1zM429 315h2v1h-2zM431 314h2v1h-2zM433 313h2v1h-2zM435 312h3v1h-3zM438 311h4v1h-4zM442 310h4v1h-4zM446 309h3v1h-3zM449 308h3v1h-3zM452 307h2v1h-2zM454 306h3v1h-3zM457 305h2v1h-2zM459 304h2v1h-2zM461 303h2v1h-2zM463 302h2v1h-2zM465 301h1v1h-1zM466 300h2v1h-2zM468 299h1v1h-1zM469 298h1v1h-1zM470 297h1v1h-1zM471 296h1v1h-1zM472 295h1v1h-1zM473 294h1v1h-1zM474 293h1v1h-1zM475 292h1v1h-1zM476 291h1v1h-1zM477 290h1v1h-1zM478 289h1v1h-1zM479 288h1v1h-1zM480 287h1v1h-1zM481 286h1v1h-1zM482 284h1v2h-1zM483 283h2v1h-2zM485 282h1v1h-1zM486 281h1v1h-1zM487 280h2v1h-2zM489 279h2v1h-2zM491 278h2v1h-2zM493 277h3v1h-3zM496 276h4v1h-4zM500 275h5v1h-5zM505 274h5v1h-5zM510 273h19v1h-19zM529 272h4v1h-4zM533 271h10v1h-10zM543 272h3v1h-3zM546 273h2v1h-2zM548 274h1v1h-1zM549 275h2v1h-2zM551 276h1v1h-1zM552 277h2v1h-2zM554 278h1v1h-1zM555 279h1v1h-1zM556 280h2v1h-2zM558 281h1v1h-1zM559 282h2v1h-2zM561 283h2v1h-2zM563 284h3v1h-3zM566 285h3v1h-3zM569 286h3v1h-3zM572 287h3v1h-3zM575 288h6v1h-6zM581 289h8v1h-8zM589 290h4v1h-4zM593 291h2v1h-2zM595 292h2v1h-2zM597 293h2v1h-2zM599 294h1v1h-1zM600 295h3v1h-3zM603 296h10v1h-10zM613 295h2v1h-2zM615 294h2v1h-2zM617 293h1v1h-1zM618 292h2v1h-2zM620 291h2v1h-2zM622 290h3v1h-3zM625 289h3v1h-3zM628 288h1v1h-1zM629 287h2v1h-2zM631 286h1v1h-1zM632 285h2v1h-2zM634 284h2v1h-2zM636 283h2v1h-2zM638 282h3v1h-3zM641 281h17v1h-17zM658 280h5v1h-5zM663 279h2v1h-2zM665 278h2v1h-2zM667 277h1v1h-1zM668 276h2v1h-2zM670 275h1v1h-1zM671 274h1v1h-1zM672 273h1v1h-1zM673 272h2v1h-2zM675 271h1v1h-1zM676 270h1v1h-1zM677 269h1v1h-1zM678 268h1v1h-1zM679 267h1v1h-1zM680 266h1v1h-1zM681 265h1v1h-1zM682 263h1v2h-1zM683 262h2v1h-2zM685 261h1v1h-1zM686 260h1v1h-1zM687 259h1v1h-1zM688 258h1v1h-1zM689 257h2v1h-2zM691 256h1v1h-1zM692 255h2v1h-2zM694 254h2v1h-2zM696 253h2v1h-2zM698 252h2v1h-2zM700 251h8v1h-8zM708 250h6v1h-6zM714 249h3v1h-3zM717 248h3v1h-3zM720 247h4v1h-4zM724 246h4v1h-4zM728 245h13v1h-13zM741 246h5v1h-5zM746 247h3v1h-3zM749 248h4v1h-4zM753 249h5v1h-5zM758 250h4v1h-4zM762 251h4v1h-4zM766 252h4v1h-4zM770 253h6v1h-6zM776 254h1v1h-1zM777 255h1v1h-1zM778 256h2v1h-2zM780 257h4v1h-4zM784 258h3v1h-3zM787 259h3v1h-3zM790 260h1v1h-1zM791 261h2v1h-2zM793 262h2v1h-2zM795 263h1v1h-1zM796 264h2v1h-2zM798 265h1v1h-1zM799 266h1v1h-1zM800 267h1v1h-1zM801 268h2v1h-2zM803 269h1v1h-1zM804 270h1v1h-1zM805 271h1v1h-1zM806 272h1v1h-1zM807 273h1v1h-1zM808 274h1v1h-1zM809 275h2v1h-2zM811 276h1v1h-1zM812 277h1v2h-1zM813 279h1v1h-1zM814 280h1v1h-1zM815 281h1v1h-1zM816 282h1v1h-1zM817 283h1v1h-1zM818 284h1v1h-1zM819 285h1v1h-1zM820 286h1v2h-1zM821 288h1v1h-1zM822 289h1v1h-1zM823 290h1v1h-1zM824 291h1v2h-1zM825 293h1v1h-1zM826 294h1v1h-1zM827 295h1v1h-1zM828 296h1v2h-1zM829 298h1v1h-1zM830 299h1v1h-1zM831 300h1v1h-1zM832 301h1v2h-1zM833 303h1v1h-1zM834 304h1v1h-1zM835 305h1v1h-1zM836 306h1v2h-1zM837 308h1v1h-1zM838 309h1v1h-1zM839 310h1v1h-1zM840 311h1v2h-1zM841 313h1v1h-1zM842 314h1v1h-1zM843 315h1v1h-1zM844 316h1v2h-1zM845 318h1v1h-1zM846 319h1v2h-1zM847 321h1v1h-1zM848 322h1v2h-1zM849 324h1v2h-1zM850 326h1v1h-1zM851 327h1v1h-1zM852 328h1v2h-1zM853 330h1v1h-1zM854 331h1v1h-1zM855 332h1v1h-1zM856 333h1v2h-1zM857 335h1v1h-1zM858 336h1v1h-1zM859 337h1v1h-1zM860 338h1v2h-1zM861 340h1v1h-1zM862 341h1v1h-1zM863 342h1v1h-1zM864 343h1v2h-1zM865 345h1v1h-1zM866 346h1v1h-1zM867 347h1v1h-1zM868 348h1v1h-1zM869 349h1v1h-1zM870 350h2v1h-2zM872 351h1v1h-1zM873 352h1v1h-1zM874 353h1v1h-1zM875 354h2v1h-2zM877 355h3v1h-3zM880 356h3v1h-3zM883 357h2v1h-2zM885 356h2v1h-2zM887 355h2v1h-2zM889 354h2v1h-2zM891 353h2v1h-2zM893 352h1v1h-1zM894 351h2v1h-2zM896 350h2v1h-2zM898 349h2v1h-2zM900 348h1v1h-1zM901 347h1v1h-1zM902 346h1v1h-1zM903 345h1v1h-1zM904 344h1v1h-1zM905 343h1v1h-1zM906 342h1v1h-1zM907 341h1v1h-1zM908 340h1v1h-1zM909 339h1v1h-1zM910 337h1v2h-1zM911 336h1v1h-1zM912 335h1v1h-1zM913 333h1v2h-1zM914 332h1v1h-1zM915 331h1v1h-1zM916 330h1v1h-1zM917 328h1v2h-1zM918 327h1v1h-1zM919 326h1v1h-1zM920 324h1v2h-1zM921 323h1v1h-1zM922 322h1v1h-1zM923 321h1v1h-1zM924 320h1v1h-1zM925 319h2v1h-2zM927 318h3v1h-3zM930 317h2v1h-2zM932 316h1v1h-1zM933 315h1v1h-1zM934 314h1v1h-1zM935 313h2v1h-2zM937 312h1v1h-1zM938 311h1v1h-1zM939 310h1v1h-1zM940 309h8v1h-8zM948 310h1v1h-1zM949 311h1v1h-1zM950 312h1v1h-1zM951 313h2v1h-2zM953 314h1v1h-1zM954 315h1v1h-1zM955 316h1v1h-1zM956 317h1v1h-1zM957 318h2v1h-2zM959 319h1v1h-1zM960 320h12v1h-12zM972 319h2v1h-2zM974 318h1v1h-1zM975 317h1v1h-1zM976 316h1v1h-1zM977 315h1v1h-1zM978 314h1v1h-1zM979 313h1v1h-1zM980 312h1v1h-1zM981 310h1v2h-1zM982 309h1v1h-1zM983 308h1v1h-1zM984 307h1v1h-1zM985 306h1v1h-1zM986 305h1v1h-1zM987 304h1v1h-1zM988 303h2v1h-2zM990 302h1v1h-1zM991 301h6v1h-6zM997 302h1v1h-1zM998 303h2v1h-2zM1000 304h1v1h-1zM1001 305h1v1h-1zM1002 306h1v1h-1zM1003 307h1v1h-1zM1004 308h1v2h-1zM1005 310h1v2h-1zM1006 312h1v1h-1zM1007 313h1v1h-1zM1008 314h1v2h-1zM1009 316h1v1h-1zM1010 317h1v1h-1zM1011 318h1v1h-1zM1012 319h1v2h-1zM1013 321h1v1h-1zM1014 322h1v2h-1zM1015 324h1v1h-1zM1016 325h1v2h-1zM1017 327h1v1h-1zM1018 328h1v2h-1zM1019 330h1v1h-1zM1020 331h1v2h-1zM1021 333h1v1h-1zM1022 334h1v2h-1zM1023 336h1v1h-1zM1024 337h1v2h-1zM1025 339h1v1h-1zM1026 340h1v2h-1zM1027 342h1v2h-1zM1028 344h1v1h-1zM1029 345h1v2h-1zM1030 347h1v2h-1zM1031 349h1v2h-1zM1032 351h1v1h-1zM1033 352h1v2h-1zM1034 354h1v1h-1zM1035 355h1v2h-1zM1036 357h1v1h-1zM1037 358h1v2h-1zM1038 360h1v1h-1zM1039 361h1v2h-1zM1040 363h1v1h-1zM1041 364h1v1h-1zM1042 365h1v1h-1zM1043 366h1v1h-1zM1044 367h1v1h-1zM1045 368h1v1h-1zM1046 369h1v1h-1zM1047 370h1v2h-1zM1048 372h1v1h-1zM1049 373h1v1h-1zM1050 374h1v2h-1zM1051 376h1v1h-1zM1052 377h1v2h-1zM1053 379h1v1h-1zM1054 380h1v1h-1zM1055 381h1v1h-1zM1056 382h1v1h-1zM1057 383h1v1h-1zM1058 384h1v1h-1zM1059 385h1v1h-1zM1060 386h2v1h-2zM1062 387h7v1h-7zM1069 386h2v1h-2zM1071 385h1v1h-1zM1072 384h2v1h-2zM1074 383h1v1h-1zM1075 382h2v1h-2zM1077 381h2v1h-2zM1079 380h2v1h-2zM1081 379h3v1h-3zM1084 378h12v1h-12zM1096 379h2v1h-2zM1098 380h1v1h-1zM1099 381h2v1h-2zM1101 382h2v1h-2zM1103 383h1v1h-1zM1104 384h2v1h-2zM1106 385h2v1h-2zM1108 386h2v1h-2zM1110 387h1v1h-1zM1111 388h2v1h-2zM1113 389h3v1h-3zM1116 390h12v1h-12zM1128 389h8v1h-8zM1136 390h5v1h-5zM1141 391h3v1h-3zM1144 392h1v1h-1zM1145 393h1v1h-1zM1146 394h2v1h-2zM1148 395h1v1h-1zM1149 396h2v1h-2zM1151 397h5v1h-5zM1156 398h4v1h-4zM1160 397h3v1h-3zM1163 396h3v1h-3zM1166 395h3v1h-3zM1169 394h5v1h-5zM1174 393h7v1h-7zM1181 392h2v1h-2z" fill="#0000cd"/>
<path d="M7 176h2v1h-2zM9 175h4v1h-4zM13 174h1v1h-1zM14 173h1v1h-1zM15 172h2v1h-2zM17 171h1v1h-1zM18 170h2v1h-2zM20 169h1v1h-1zM21 168h1v1h-1zM22 167h1v1h-1zM23 166h2v1h-2zM25 165h2v1h-2zM27 164h1v1h-1zM28 163h2v1h-2zM30 162h2v1h-2zM32 161h2v1h-2zM34 160h1v1h-1zM35 159h2v1h-2zM37 158h2v1h-2zM39 157h2v1h-2zM41 156h1v1h-1zM42 155h1v1h-1zM43 154h1v1h-1zM44 153h1v1h-1zM45 152h1v1h-1zM46 151h1v1h-1zM47 150h1v1h-1zM48 149h1v1h-1zM49 148h1v1h-1zM50 147h1v1h-1zM51 146h1v1h-1zM52 145h2v1h-2zM54 144h2v1h-2zM56 143h3v1h-3zM59 142h2v1h-2zM61 141h1v1h-1zM62 140h1v1h-1zM63 139h6v1h-6zM69 140h2v1h-2zM71 141h1v1h-1zM72 142h1v1h-1zM73 143h1v1h-1zM74 144h1v1h-1zM75 145h1v1h-1zM76 146h1v2h-1zM77 148h1v2h-1zM78 150h1v2h-1zM79 152h1v1h-1zM80 153h1v2h-1zM81 155h1v1h-1zM82 156h1v2h-1zM83 158h1v1h-1zM84 159h1v1h-1zM85 160h1v1h-1zM86 161h1v1h-1zM87 162h1v1h-1zM88 163h1v1h-1zM89 164h1v2h-1zM90 166h1v1h-1zM91 167h1v1h-1zM92 168h1v1h-1zM93 169h1v1h-1zM94 170h1v1h-1zM95 171h1v1h-1zM96 172h1v2h-1zM97 174h1v1h-1zM98 175h1v1h-1zM99 176h1v1h-1zM100 177h1v2h-1zM101 179h1v1h-1zM102 180h1v2h-1zM103 182h1v1h-1zM104 183h1v1h-1zM105 184h1v1h-1zM106 185h2v1h-2zM108 186h1v1h-1zM109 187h1v1h-1zM110 188h2v1h-2zM112 189h1v1h-1zM113 190h2v1h-2zM115 191h2v1h-2zM117 192h3v1h-3zM120 193h4v1h-4zM124 194h3v1h-3zM127 195h2v1h-2zM129 196h2v1h-2zM131 197h2v1h-2zM133 198h1v1h-1zM134 199h2v1h-2zM136 200h1v2h-1zM137 202h1v1h-1zM138 203h1v1h-1zM139 204h1v2h-1zM140 206h1v1h-1zM141 207h1v2h-1zM142 209h1v1h-1zM143 210h1v1h-1zM144 211h1v2h-1zM145 213h1v1h-1zM146 214h1v2h-1zM147 216h1v1h-1zM148 217h1v1h-1zM149 218h1v2h-1zM150 220h1v1h-1zM151 221h1v1h-1zM152 222h1v1h-1zM153 223h1v2h-1zM154 225h1v1h-1zM155 226h1v1h-1zM156 227h1v1h-1zM157 228h1v2h-1zM158 230h1v1h-1zM159 231h1v1h-1zM160 232h1v1h-1zM161 233h1v2h-1zM162 235h1v1h-1zM163 236h1v1h-1zM164 237h2v1h-2zM166 238h1v1h-1zM167 239h1v1h-1zM168 240h5v1h-5zM173 241h2v1h-2zM175 242h2v1h-2zM177 241h3v1h-3zM180 240h2v1h-2zM182 239h2v1h-2zM184 238h2v1h-2zM186 237h2v1h-2zM188 236h1v1h-1zM189 235h2v1h-2zM191 234h1v1h-1zM192 233h2v1h-2zM194 232h1v1h-1zM195 231h2v1h-2zM197 230h1v1h-1zM198 229h1v1h-1zM199 228h7v1h-7zM206 229h3v1h-3zM209 230h2v1h-2zM211 231h2v1h-2zM213 230h6v1h-6zM219 231h2v1h-2zM221 232h3v1h-3zM224 233h1v1h-1zM225 234h1v1h-1zM226 235h1v1h-1zM227 236h1v1h-1zM228 237h2v1h-2zM230 238h1v1h-1zM231 239h2v1h-2zM233 240h1v1h-1zM234 241h2v1h-2zM236 242h1v1h-1zM237 243h1v1h-1zM238 244h1v1h-1zM239 245h1v1h-1zM240 246h1v1h-1zM241 247h1v1h-1zM242 248h1v2h-1zM243 250h1v1h-1zM244 251h1v1h-1zM245 252h1v2h-1zM246 254h1v1h-1zM247 255h1v1h-1zM248 256h1v1h-1zM249 257h1v1h-1zM250 258h1v1h-1zM251 259h1v1h-1zM252 260h1v2h-1zM253 262h1v2h-1zM254 264h1v1h-1zM255 265h1v2h-1zM256 267h1v1h-1zM257 268h1v1h-1zM258 269h1v2h-1zM259 271h1v1h-1zM260 272h1v1h-1zM261 273h1v2h-1zM262 275h1v1h-1zM263 276h1v2h-1zM264 278h1v1h-1zM265 279h1v1h-1zM266 280h1v2h-1zM267 282h1v1h-1zM268 283h1v1h-1zM269 284h1v1h-1zM270 285h2v1h-2zM272 286h1v1h-1zM273 287h2v1h-2zM275 288h2v1h-2zM277 289h3v1h-3zM280 290h2v1h-2zM282 291h2v1h-2zM284 292h2v1h-2zM286 293h1v1h-1zM287 294h1v1h-1zM288 295h1v1h-1zM289 296h1v1h-1zM290 297h1v1h-1zM291 298h1v1h-1zM292 299h1v1h-1zM293 300h1v1h-1zM294 301h1v1h-1zM295 302h1v1h-1zM296 303h1v1h-1zM297 304h2v1h-2zM299 305h1v1h-1zM300 306h4v1h-4zM304 307h8v1h-8zM312 306h2v1h-2zM314 305h2v1h-2zM316 304h1v1h-1zM317 303h2v1h-2zM319 302h1v1h-1zM320 301h1v1h-1zM321 300h1v1h-1zM322 299h1v1h-1zM323 298h2v1h-2zM325 297h2v1h-2zM327 296h2v1h-2zM329 297h5v1h-5zM334 298h4v1h-4zM338 299h3v1h-3zM341 300h2v1h-2zM343 301h1v1h-1zM344 302h1v1h-1zM345 303h1v1h-1zM346 304h1v1h-1zM347 305h1v1h-1zM348 306h1v1h-1zM349 307h1v1h-1zM350 308h1v1h-1zM351 309h1v1h-1zM352 310h1v1h-1zM353 311h1v1h-1zM354 312h1v1h-1zM355 313h1v1h-1zM356 314h1v1h-1zM357 315h1v1h-1zM358 316h1v1h-1zM359 317h1v1h-1zM360 318h1v1h-1zM361 319h1v2h-1zM362 321h1v1h-1zM363 322h1v2h-1zM364 324h1v1h-1zM365 325h1v1h-1zM366 326h1v2h-1zM367 328h1v1h-1zM368 329h2v1h-2zM370 330h1v1h-1zM371 331h2v1h-2zM373 332h1v1h-1zM374 333h2v1h-2zM376 334h1v1h-1zM377 335h2v1h-2zM379 336h1v1h-1zM380 337h2v1h-2zM382 338h1v1h-1zM383 339h3v1h-3zM386 340h2v1h-2zM388 341h2v1h-2zM390 342h1v1h-1zM391 343h9v1h-9zM400 342h2v1h-2zM402 341h1v1h-1zM403 340h1v1h-1zM404 339h1v1h-1zM405 338h1v1h-1zM406 337h1v1h-1zM407 336h1v1h-1zM408 335h1v1h-1zM409 334h1v1h-1zM410 333h1v1h-1zM411 332h2v1h-2zM413 331h1v1h-1zM414 330h1v1h-1zM415 328h1v2h-1zM416 326h1v2h-1zM417 324h1v2h-1zM418 322h1v2h-1zM419 320h1v2h-1zM420 317h1v3h-1zM421 315h1v2h-1zM422 312h1v3h-1zM423 309h1v3h-1zM424 307h1v2h-1zM425 305h1v2h-1zM426 303h1v2h-1zM427 301h1v2h-1zM428 299h1v2h-1zM429 298h1v1h-1zM430 296h1v2h-1zM431 294h1v2h-1zM432 292h1v2h-1zM433 291h1v1h-1zM434 289h1v2h-1zM435 288h1v1h-1zM436 286h1v2h-1zM437 285h1v1h-1zM438 284h1v1h-1zM439 282h1v2h-1zM440 281h1v1h-1zM441 279h1v2h-1zM442 278h1v1h-1zM443 277h1v1h-1zM444 276h1v1h-1zM445 275h1v1h-1zM446 273h1v2h-1zM447 272h2v1h-2zM449 271h1v1h-1zM450 270h1v1h-1zM451 269h2v1h-2zM453 268h3v1h-3zM456 267h2v1h-2zM458 266h2v1h-2zM460 265h1v1h-1zM461 264h2v1h-2zM463 263h1v1h-1zM464 262h2v1h-2zM466 261h1v1h-1zM467 260h1v1h-1zM468 259h1v1h-1zM469 258h1v1h-1zM470 257h1v1h-1zM471 256h1v1h-1zM472 255h1v1h-1zM473 254h1v1h-1zM474 253h1v1h-1zM475 252h1v1h-1zM476 251h2v1h-2zM478 250h6v1h-6zM484 251h1v1h-1zM485 252h2v1h-2zM487 253h1v1h-1zM488 254h1v1h-1zM489 255h1v1h-1zM490 256h1v1h-1zM491 257h1v1h-1zM492 258h1v1h-1zM493 259h2v1h-2zM495 260h1v1h-1zM496 261h1v1h-1zM497 262h1v1h-1zM498 263h1v1h-1zM499 264h1v1h-1zM500 265h2v1h-2zM502 266h1v1h-1zM503 267h2v1h-2zM505 268h2v1h-2zM507 269h3v1h-3zM510 270h2v1h-2zM512 271h1v1h-1zM513 272h1v1h-1zM514 273h1v1h-1zM515 274h1v1h-1zM516 275h1v1h-1zM517 276h1v1h-1zM518 277h1v1h-1zM519 278h1v1h-1zM520 279h1v1h-1zM521 280h1v1h-1zM522 281h1v1h-1zM523 282h2v1h-2zM525 283h1v1h-1zM526 284h1v1h-1zM527 285h1v1h-1zM528 286h1v1h-1zM529 287h1v1h-1zM530 288h1v1h-1zM531 289h1v1h-1zM532 290h1v1h-1zM533 291h1v1h-1zM534 292h2v1h-2zM536 293h1v1h-1zM537 294h2v1h-2zM539 295h4v1h-4zM543 296h8v1h-8zM551 297h5v1h-5zM556 298h3v1h-3zM559 299h4v1h-4zM563 300h5v1h-5zM568 301h1v1h-1zM569 300h6v1h-6zM575 299h5v1h-5zM580 298h4v1h-4zM584 297h12v1h-12zM596 298h6v1h-6zM602 297h2v1h-2zM604 296h2v1h-2zM606 295h1v1h-1zM607 294h2v1h-2zM609 293h1v1h-1zM610 292h2v1h-2zM612 291h1v1h-1zM613 289h1v2h-1zM614 288h1v1h-1zM615 287h1v1h-1zM616 286h1v1h-1zM617 285h1v1h-1zM618 284h1v1h-1zM619 282h1v2h-1zM620 281h1v1h-1zM621 280h1v1h-1zM622 278h1v2h-1zM623 277h1v1h-1zM624 275h1v2h-1zM625 274h1v1h-1zM626 273h1v1h-1zM627 272h1v1h-1zM628 271h1v1h-1zM629 270h1v1h-1zM630 269h1v1h-1zM631 268h1v1h-1zM632 267h1v1h-1zM633 266h2v1h-2zM635 265h14v1h-14zM649 264h4v1h-4zM653 263h5v1h-5zM658 262h6v1h-6zM664 261h1v1h-1zM665 260h2v1h-2zM667 259h1v1h-1zM668 258h1v1h-1zM669 257h1v1h-1zM670 256h1v1h-1zM671 255h1v1h-1zM672 254h2v1h-2zM674 253h1v1h-1zM675 252h1v1h-1zM676 251h1v1h-1zM677 250h2v1h-2zM679 249h1v1h-1zM680 248h1v1h-1zM681 247h1v1h-1zM682 246h2v1h-2zM684 245h2v1h-2zM686 244h2v1h-2zM688 243h3v1h-3zM691 242h1v1h-1zM692 241h2v1h-2zM694 240h1v1h-1zM695 239h2v1h-2zM697 238h1v1h-1zM698 237h1v1h-1zM699 236h1v1h-1zM700 235h1v1h-1zM701 234h2v1h-2zM703 233h6v1h-6zM709 232h6v1h-6zM715 231h8v1h-8zM723 232h3v1h-3zM726 233h2v1h-2zM728 234h1v1h-1zM729 235h2v1h-2zM731 236h1v1h-1zM732 237h2v1h-2zM734 238h1v1h-1zM735 239h1v1h-1zM736 239h1v2h-1zM737 241h1v1h-1zM738 242h1v1h-1zM739 243h1v1h-1zM740 244h1v1h-1zM741 245h1v1h-1zM742 246h1v1h-1zM743 247h1v1h-1zM744 248h1v1h-1zM745 249h1v1h-1zM746 250h2v1h-2zM748 251h1v1h-1zM749 252h1v1h-1zM750 253h1v1h-1zM751 254h1v1h-1zM752 255h1v1h-1zM753 256h1v1h-1zM754 257h1v1h-1zM755 258h1v1h-1zM756 259h1v1h-1zM757 260h1v1h-1zM758 261h1v1h-1zM759 262h1v1h-1zM760 263h1v1h-1zM761 264h1v1h-1zM762 265h1v1h-1zM763 266h1v1h-1zM764 267h1v1h-1zM765 268h1v1h-1zM766 269h1v1h-1zM767 270h1v1h-1zM768 271h1v1h-1zM769 272h1v1h-1zM770 273h1v1h-1zM771 274h1v1h-1zM772 275h1v1h-1zM773 276h1v1h-1zM774 277h1v1h-1zM775 278h1v1h-1zM776 279h1v1h-1zM777 280h1v1h-1zM778 281h1v2h-1zM779 283h2v1h-2zM781 284h1v1h-1zM782 285h2v1h-2zM784 286h1v1h-1zM785 287h2v1h-2zM787 288h2v1h-2zM789 289h2v1h-2zM791 290h3v1h-3zM794 291h2v1h-2zM796 292h3v1h-3zM799 293h1v1h-1zM800 294h1v1h-1zM801 295h2v1h-2zM803 296h1v1h-1zM804 297h1v1h-1zM805 298h1v2h-1zM806 300h1v1h-1zM807 301h1v1h-1zM808 302h1v1h-1zM809 303h1v1h-1zM810 304h1v1h-1zM811 305h1v1h-1zM812 306h1v1h-1zM813 307h1v1h-1zM814 308h1v1h-1zM815 309h1v1h-1zM816 310h1v1h-1zM817 311h1v1h-1zM818 312h1v1h-1zM819 313h1v1h-1zM820 314h1v1h-1zM821 315h1v1h-1zM822 316h1v1h-1zM823 317h1v2h-1zM824 319h1v1h-1zM825 320h1v1h-1zM826 321h1v1h-1zM827 322h1v2h-1zM828 324h1v2h-1zM829 326h1v2h-1zM830 328h1v2h-1zM831 330h1v1h-1zM832 331h1v2h-1zM833 333h1v2h-1zM834 335h1v2h-1zM835 337h1v2h-1zM836 339h1v2h-1zM837 341h1v2h-1zM838 343h1v2h-1zM839 345h1v2h-1zM840 347h1v2h-1zM841 349h1v2h-1zM842 351h1v2h-1zM843 353h1v3h-1zM844 356h1v2h-1zM845 358h1v2h-1zM846 360h1v3h-1zM847 363h1v2h-1zM848 365h1v2h-1zM849 367h1v2h-1zM850 369h1v2h-1zM851 371h1v3h-1zM852 374h1v2h-1zM853 376h1v2h-1zM854 378h1v2h-1zM855 380h1v2h-1zM856 382h1v2h-1zM857 384h1v1h-1zM858 385h1v2h-1zM859 387h1v1h-1zM860 388h1v1h-1zM861 389h1v2h-1zM862 391h1v1h-1zM863 392h1v1h-1zM864 393h1v2h-1zM865 395h1v1h-1zM866 396h1v2h-1zM867 398h1v1h-1zM868 399h2v1h-2zM870 400h2v1h-2zM872 401h2v1h-2zM874 402h3v1h-3zM877 401h1v1h-1zM878 400h2v1h-2zM880 399h1v1h-1zM881 398h1v1h-1zM882 397h1v1h-1zM883 396h1v2h-1zM884 394h1v2h-1zM885 391h1v3h-1zM886 389h1v2h-1zM887 387h1v2h-1zM888 384h1v3h-1zM889 382h1v2h-1zM890 379h1v3h-1zM891 376h1v3h-1zM892 373h1v3h-1zM893 369h1v4h-1zM894 366h1v3h-1zM895 362h1v4h-1zM896 359h1v3h-1zM897 355h1v4h-1zM898 352h1v3h-1zM899 348h1v4h-1zM900 344h1v4h-1zM901 340h1v4h-1zM902 336h1v4h-1zM903 332h1v4h-1zM904 328h1v4h-1zM905 324h1v4h-1zM906 320h1v4h-1zM907 316h1v4h-1zM908 311h1v5h-1zM909 306h1v5h-1zM910 301h1v5h-1zM911 296h1v5h-1zM912 290h1v6h-1zM913 285h1v5h-1zM914 279h1v6h-1zM915 274h1v5h-1zM916 268h1v6h-1zM917 263h1v5h-1zM918 257h1v6h-1zM919 253h1v4h-1zM920 249h1v4h-1zM921 245h1v4h-1zM922 242h1v3h-1zM923 239h1v3h-1zM924 237h1v2h-1zM925 235h1v2h-1zM926 233h1v2h-1zM927 231h1v2h-1zM928 230h1v1h-1zM929 228h1v2h-1zM930 227h1v1h-1zM931 225h1v2h-1zM932 224h1v1h-1zM933 223h1v1h-1zM934 222h1v1h-1zM935 221h1v1h-1zM936 219h1v2h-1zM937 218h1v1h-1zM938 217h1v1h-1zM939 216h3v1h-3zM942 217h1v1h-1zM943 218h1v1h-1zM944 219h1v3h-1zM945 222h1v3h-1zM946 225h1v2h-1zM947 227h1v4h-1zM948 231h1v3h-1zM949 234h1v4h-1zM950 238h1v3h-1zM951 241h1v5h-1zM952 246h1v5h-1zM953 251h1v5h-1zM954 256h1v5h-1zM955 261h1v4h-1zM956 265h1v5h-1zM957 270h1v4h-1zM958 274h1v4h-1zM959 278h1v5h-1zM960 283h1v6h-1zM961 289h1v6h-1zM962 295h1v7h-1zM963 302h1v5h-1zM964 307h1v6h-1zM965 313h1v5h-1zM966 318h1v5h-1zM967 323h1v6h-1zM968 329h1v5h-1zM969 334h1v6h-1zM970 340h1v5h-1zM971 345h1v4h-1zM972 349h1v4h-1zM973 353h1v3h-1zM974 356h1v4h-1zM975 360h1v3h-1zM976 363h1v2h-1zM977 365h1v2h-1zM978 367h1v2h-1zM979 369h1v1h-1zM980 370h4v1h-4zM984 371h5v1h-5zM989 372h1v1h-1zM990 373h1v1h-1zM991 374h1v1h-1zM992 375h1v1h-1zM993 376h1v2h-1zM994 378h1v1h-1zM995 379h1v2h-1zM996 381h1v1h-1zM997 382h1v1h-1zM998 383h1v1h-1zM999 384h5v1h-5zM1004 383h1v1h-1zM1005 382h1v1h-1zM1006 381h2v1h-2zM1008 379h1v2h-1zM1009 378h1v1h-1zM1010 377h1v1h-1zM1011 376h1v1h-1zM1012 375h1v1h-1zM1013 374h1v1h-1zM1014 373h1v1h-1zM1015 371h1v2h-1zM1016 370h1v1h-1zM1017 369h1v1h-1zM1018 368h1v1h-1zM1019 367h1v1h-1zM1020 365h1v2h-1zM1021 364h1v1h-1zM1022 362h1v2h-1zM1023 361h1v1h-1zM1024 360h2v1h-2zM1026 359h3v1h-3zM1029 360h1v1h-1zM1030 361h1v1h-1zM1031 362h1v1h-1zM1032 362h1v2h-1zM1033 364h1v1h-1zM1034 365h1v1h-1zM1035 366h1v1h-1zM1036 367h1v1h-1zM1037 368h2v1h-2zM1039 369h1v1h-1zM1040 370h2v1h-2zM1042 371h3v1h-3zM1045 372h1v1h-1zM1046 373h2v1h-2zM1048 374h1v1h-1zM1049 375h1v2h-1zM1050 377h1v1h-1zM1051 378h1v1h-1zM1052 379h1v1h-1zM1053 380h1v1h-1zM1054 381h1v1h-1zM1055 382h4v1h-4zM1059 381h2v1h-2zM1061 380h2v1h-2zM1063 379h7v1h-7zM1070 380h1v1h-1zM1071 381h2v1h-2zM1073 382h1v1h-1zM1074 383h1v1h-1zM1075 384h1v2h-1zM1076 386h1v1h-1zM1077 387h1v1h-1zM1078 388h1v2h-1zM1079 390h1v1h-1zM1080 391h1v1h-1zM1081 392h1v1h-1zM1082 393h1v2h-1zM1083 395h2v1h-2zM1085 396h1v1h-1zM1086 397h1v1h-1zM1087 398h2v1h-2zM1089 399h1v1h-1zM1090 400h6v1h-6zM1096 399h1v1h-1zM1097 398h1v1h-1zM1098 397h1v1h-1zM1099 396h1v1h-1zM1100 395h1v1h-1zM1101 394h2v1h-2zM1103 393h10v1h-10zM1113 394h4v1h-4zM1117 395h2v1h-2zM1119 396h6v1h-6zM1125 395h3v1h-3zM1128 394h3v1h-3zM1131 393h2v1h-2zM1133 392h2v1h-2zM1135 391h7v1h-7zM1142 392h2v1h-2zM1144 393h1v1h-1zM1145 394h1v1h-1zM1146 395h1v1h-1zM1147 396h1v1h-1zM1148 397h1v1h-1zM1149 398h1v1h-1zM1150 399h2v1h-2zM1152 400h1v1h-1zM1153 401h2v1h-2zM1155 402h2v1h-2zM1157 403h4v1h-4zM1161 402h1v1h-1zM1162 401h1v1h-1zM1163 400h2v1h-2zM1165 399h1v1h-1zM1166 398h1v1h-1zM1167 397h2v1h-2zM1169 396h1v1h-1zM1170 395h1v1h-1zM1171 394h1v1h-1zM1172 393h1v1h-1zM1173 392h1v1h-1zM1174 391h1v1h-1zM1175 390h2v1h-2zM1177 389h3v1h-3zM1180 388h2v1h-2zM1182 387h1v1h-1z" fill="#ff0000"/>
<path d="M7 197h2v1h-2zM9 198h1v1h-1zM10 199h1v1h-1zM11 200h2v1h-2zM13 199h2v1h-2zM15 197h1v2h-1zM16 193h1v4h-1zM17 188h1v5h-1zM18 184h1v4h-1zM19 180h1v4h-1zM20 175h1v5h-1zM21 170h1v5h-1zM22 166h1v4h-1zM23 161h1v5h-1zM24 156h1v5h-1zM25 151h1v5h-1zM26 146h1v5h-1zM27 141h1v5h-1zM28 137h1v4h-1zM29 133h1v4h-1zM30 129h1v4h-1zM31 126h1v3h-1zM32 124h1v2h-1zM33 121h1v3h-1zM34 119h1v2h-1zM35 117h1v2h-1zM36 116h1v1h-1zM37 115h1v1h-1zM38 114h1v1h-1zM39 113h3v1h-3zM42 112h4v1h-4zM46 113h2v1h-2zM48 114h1v2h-1zM49 116h1v2h-1zM50 118h1v2h-1zM51 120h1v2h-1zM52 122h1v3h-1zM53 125h1v2h-1zM54 127h1v3h-1zM55 130h1v3h-1zM56 133h1v2h-1zM57 135h1v3h-1zM58 138h1v2h-1zM59 140h1v3h-1zM60 143h1v2h-1zM61 145h1v3h-1zM62 148h1v2h-1zM63 150h1v4h-1zM64 154h1v3h-1zM65 157h1v4h-1zM66 161h1v3h-1zM67 164h1v4h-1zM68 168h1v3h-1zM69 171h1v3h-1zM70 174h1v3h-1zM71 177h1v3h-1zM72 180h1v3h-1zM73 183h1v2h-1zM74 185h1v3h-1zM75 188h1v2h-1zM76 190h1v2h-1zM77 192h1v1h-1zM78 193h1v2h-1zM79 195h1v1h-1zM80 196h1v1h-1zM81 197h2v1h-2zM83 198h2v1h-2zM85 197h1v1h-1zM86 195h1v2h-1zM87 194h1v1h-1zM88 193h1v1h-1zM89 192h1v1h-1zM90 190h1v2h-1zM91 189h1v1h-1zM92 187h1v2h-1zM93 186h1v1h-1zM94 185h1v1h-1zM95 183h1v2h-1zM96 182h1v1h-1zM97 181h1v1h-1zM98 179h1v2h-1zM99 178h2v1h-2zM101 179h1v1h-1zM102 180h1v2h-1zM103 182h1v1h-1zM104 183h1v1h-1zM105 184h1v1h-1zM106 185h1v1h-1zM107 186h1v1h-1zM108 187h1v1h-1zM109 188h1v1h-1zM110 189h1v1h-1zM111 190h1v1h-1zM112 191h1v1h-1zM113 192h1v1h-1zM114 193h1v2h-1zM115 195h1v1h-1zM116 196h2v1h-2zM118 197h1v1h-1zM119 198h2v1h-2zM121 199h2v1h-2zM123 200h1v1h-1zM124 201h1v1h-1zM125 202h1v2h-1zM126 204h1v1h-1zM127 205h1v2h-1zM128 207h1v3h-1zM129 210h1v2h-1zM130 212h1v2h-1zM131 214h1v2h-1zM132 216h1v2h-1zM133 218h1v2h-1zM134 220h1v2h-1zM135 222h1v2h-1zM136 224h1v3h-1zM137 227h1v2h-1zM138 229h1v3h-1zM139 232h1v3h-1zM140 235h1v2h-1zM141 237h1v2h-1zM142 239h1v2h-1zM143 241h1v2h-1zM144 243h1v1h-1zM145 244h2v1h-2zM147 245h1v1h-1zM148 246h5v1h-5zM153 247h2v1h-2zM155 248h1v1h-1zM156 249h1v1h-1zM157 250h1v1h-1zM158 251h1v1h-1zM159 252h1v1h-1zM160 253h1v1h-1zM161 254h1v1h-1zM162 255h1v1h-1zM163 256h1v1h-1zM164 257h2v1h-2zM166 258h3v1h-3zM169 256h1v2h-1zM170 255h1v1h-1zM171 254h1v1h-1zM172 252h1v2h-1zM173 250h1v2h-1zM174 248h1v2h-1zM175 245h1v3h-1zM176 241h1v4h-1zM177 236h1v5h-1zM178 231h1v5h-1zM179 227h1v4h-1zM180 224h1v3h-1zM181 220h1v4h-1zM182 216h1v4h-1zM183 214h1v2h-1zM184 212h1v2h-1zM185 210h1v2h-1zM186 208h1v2h-1zM187 207h1v1h-1zM188 206h1v1h-1zM189 205h2v1h-2zM191 204h4v1h-4zM195 203h1v1h-1zM196 204h1v1h-1zM197 205h1v1h-1zM198 206h1v1h-1zM199 207h1v1h-1zM200 208h1v3h-1zM201 211h1v2h-1zM202 213h1v3h-1zM203 216h1v3h-1zM204 219h1v3h-1zM205 222h1v3h-1zM206 225h1v4h-1zM207 229h1v3h-1zM208 232h1v3h-1zM209 235h1v3h-1zM210 238h1v3h-1zM211 241h1v3h-1zM212 244h1v3h-1zM213 247h1v3h-1zM214 250h1v3h-1zM215 253h1v3h-1zM216 256h1v2h-1zM217 258h1v2h-1zM218 260h1v3h-1zM219 263h1v1h-1zM220 264h1v2h-1zM221 266h1v1h-1zM222 267h1v1h-1zM223 268h1v1h-1zM224 269h8v1h-8zM232 267h1v2h-1zM233 266h1v1h-1zM234 265h1v1h-1zM235 263h1v2h-1zM236 262h1v1h-1zM237 261h1v1h-1zM238 259h1v2h-1zM239 258h1v1h-1zM240 257h2v1h-2zM242 256h7v1h-7zM249 257h1v1h-1zM250 258h1v1h-1zM251 258h1v2h-1zM252 260h1v3h-1zM253 263h1v3h-1zM254 266h1v2h-1zM255 268h1v4h-1zM256 272h1v4h-1zM257 276h1v4h-1zM258 280h1v4h-1zM259 284h1v4h-1zM260 288h1v4h-1zM261 292h1v4h-1zM262 296h1v4h-1zM263 300h1v4h-1zM264 304h1v4h-1zM265 308h1v3h-1zM266 311h1v4h-1zM267 315h1v3h-1zM268 318h1v2h-1zM269 320h1v2h-1zM270 322h1v2h-1zM271 324h1v1h-1zM272 325h1v1h-1zM273 326h1v1h-1zM274 327h1v1h-1zM275 328h1v1h-1zM276 327h1v2h-1zM277 326h1v1h-1zM278 324h1v2h-1zM279 323h1v1h-1zM280 321h1v2h-1zM281 319h1v2h-1zM282 317h1v2h-1zM283 316h1v1h-1zM284 314h1v2h-1zM285 312h1v2h-1zM286 310h1v2h-1zM287 308h1v2h-1zM288 307h1v1h-1zM289 305h1v2h-1zM290 304h1v1h-1zM291 302h1v2h-1zM292 301h1v1h-1zM293 300h2v1h-2zM295 299h1v1h-1zM296 298h1v1h-1zM297 299h1v1h-1zM298 300h1v1h-1zM299 301h2v1h-2zM301 300h1v1h-1zM302 299h1v1h-1zM303 298h1v1h-1zM304 297h1v1h-1zM305 296h1v1h-1zM306 295h1v1h-1zM307 294h1v1h-1zM308 293h3v1h-3zM311 292h2v1h-2zM313 293h2v1h-2zM315 294h1v1h-1zM316 293h1v2h-1zM317 292h1v1h-1zM318 291h1v1h-1zM319 290h1v1h-1zM320 289h3v1h-3zM323 290h1v1h-1zM324 290h1v2h-1zM325 292h1v1h-1zM326 293h1v1h-1zM327 294h1v1h-1zM328 295h1v1h-1zM329 296h1v2h-1zM330 298h1v1h-1zM331 299h1v1h-1zM332 300h3v1h-3zM335 301h1v1h-1zM336 302h1v1h-1zM337 303h1v2h-1zM338 305h1v1h-1zM339 306h1v2h-1zM340 308h1v2h-1zM341 310h1v3h-1zM342 313h1v2h-1zM343 315h1v2h-1zM344 317h1v2h-1zM345 319h1v2h-1zM346 321h1v2h-1zM347 323h1v3h-1zM348 326h1v3h-1zM349 329h1v2h-1zM350 331h1v3h-1zM351 334h1v3h-1zM352 337h1v2h-1zM353 339h1v2h-1zM354 341h1v2h-1zM355 343h1v2h-1zM356 345h1v2h-1zM357 347h1v2h-1zM358 349h1v1h-1zM359 350h1v2h-1zM360 352h1v1h-1zM361 353h1v1h-1zM362 354h1v1h-1zM363 355h1v1h-1zM364 356h2v1h-2zM366 357h6v1h-6zM372 356h1v1h-1zM373 355h1v1h-1zM374 354h1v1h-1zM375 352h1v2h-1zM376 350h1v2h-1zM377 349h1v1h-1zM378 347h1v2h-1zM379 345h1v2h-1zM380 343h1v2h-1zM381 342h1v1h-1zM382 340h1v2h-1zM383 339h1v1h-1zM384 338h1v1h-1zM385 337h1v1h-1zM386 336h1v1h-1zM387 335h2v1h-2zM389 334h6v1h-6zM395 333h2v1h-2zM397 332h1v1h-1zM398 331h1v1h-1zM399 330h1v2h-1zM400 329h1v1h-1zM401 327h1v2h-1zM402 326h1v1h-1zM403 324h1v2h-1zM404 322h1v2h-1zM405 321h1v1h-1zM406 319h1v2h-1zM407 318h1v1h-1zM408 316h1v2h-1zM409 314h1v2h-1zM410 312h1v2h-1zM411 310h1v2h-1zM412 308h1v2h-1zM413 306h1v2h-1zM414 304h1v2h-1zM415 303h1v1h-1zM416 301h1v2h-1zM417 299h1v2h-1zM418 297h1v2h-1zM419 295h1v2h-1zM420 292h1v3h-1zM421 289h1v3h-1zM422 286h1v3h-1zM423 283h1v3h-1zM424 279h1v4h-1zM425 276h1v3h-1zM426 272h1v4h-1zM427 268h1v4h-1zM428 265h1v3h-1zM429 261h1v4h-1zM430 257h1v4h-1zM431 254h1v3h-1zM432 251h1v3h-1zM433 249h1v2h-1zM434 246h1v3h-1zM435 245h1v1h-1zM436 244h1v1h-1zM437 243h1v1h-1zM438 242h1v1h-1zM439 241h3v1h-3zM442 242h2v1h-2zM444 243h1v2h-1zM445 245h1v2h-1zM446 247h1v1h-1zM447 248h1v2h-1zM448 250h1v2h-1zM449 252h1v2h-1zM450 254h1v2h-1zM451 256h1v2h-1zM452 258h1v2h-1zM453 260h1v2h-1zM454 262h1v2h-1zM455 264h1v2h-1zM456 266h1v1h-1zM457 267h1v1h-1zM458 268h1v1h-1zM459 269h5v1h-5zM464 268h1v1h-1zM465 267h2v1h-2zM467 265h1v2h-1zM468 263h1v2h-1zM469 261h1v2h-1zM470 258h1v3h-1zM471 256h1v2h-1zM472 254h1v2h-1zM473 251h1v3h-1zM474 249h1v2h-1zM475 246h1v3h-1zM476 245h1v1h-1zM477 243h1v2h-1zM478 242h1v1h-1zM479 241h1v1h-1zM480 240h1v1h-1zM481 239h1v1h-1zM482 238h1v1h-1zM483 237h2v1h-2zM485 238h1v1h-1zM486 239h1v1h-1zM487 240h1v2h-1zM488 242h1v3h-1zM489 245h1v2h-1zM490 247h1v3h-1zM491 250h1v3h-1zM492 253h1v4h-1zM493 257h1v3h-1zM494 260h1v4h-1zM495 264h1v4h-1zM496 268h1v4h-1zM497 272h1v4h-1zM498 276h1v4h-1zM499 280h1v3h-1zM500 283h1v3h-1zM501 286h1v3h-1zM502 289h1v2h-1zM503 291h1v3h-1zM504 294h1v1h-1zM505 295h1v2h-1zM506 297h1v1h-1zM507 298h1v2h-1zM508 300h1v1h-1zM509 301h1v1h-1zM510 302h1v1h-1zM511 303h1v2h-1zM512 305h1v1h-1zM513 306h1v1h-1zM514 307h1v2h-1zM515 309h1v1h-1zM516 310h2v1h-2zM518 311h3v1h-3zM521 310h2v1h-2zM523 309h1v1h-1zM524 308h1v1h-1zM525 307h1v1h-1zM526 305h1v2h-1zM527 304h1v1h-1zM528 302h1v2h-1zM529 300h1v2h-1zM530 298h1v2h-1zM531 297h1v1h-1zM532 295h1v2h-1zM533 293h1v2h-1zM534 291h1v2h-1zM535 290h1v1h-1zM536 288h1v2h-1zM537 287h1v1h-1zM538 285h1v2h-1zM539 284h1v1h-1zM540 283h2v1h-2zM542 282h4v1h-4zM546 283h2v1h-2zM548 284h1v2h-1zM549 286h1v2h-1zM550 288h1v1h-1zM551 289h1v2h-1zM552 291h1v2h-1zM553 293h1v2h-1zM554 295h1v2h-1zM555 297h1v1h-1zM556 298h1v2h-1zM557 300h1v2h-1zM558 302h1v2h-1zM559 304h1v2h-1zM560 306h1v1h-1zM561 307h1v1h-1zM562 308h1v2h-1zM563 310h1v1h-1zM564 311h2v1h-2zM566 312h1v1h-1zM567 313h2v1h-2zM569 314h4v1h-4zM573 313h2v1h-2zM575 312h1v1h-1zM576 311h1v1h-1zM577 309h1v2h-1zM578 307h1v2h-1zM579 305h1v2h-1zM580 303h1v2h-1zM581 301h1v2h-1zM582 299h1v2h-1zM583 297h1v2h-1zM584 294h1v3h-1zM585 292h1v2h-1zM586 290h1v2h-1zM587 289h1v1h-1zM588 287h1v2h-1zM589 285h1v2h-1zM590 284h1v1h-1zM591 283h1v1h-1zM592 282h1v1h-1zM593 281h1v1h-1zM594 280h1v1h-1zM595 279h3v1h-3zM598 280h3v1h-3zM601 281h2v1h-2zM603 282h8v1h-8zM611 281h1v1h-1zM612 279h1v2h-1zM613 277h1v2h-1zM614 275h1v2h-1zM615 273h1v2h-1zM616 270h1v3h-1zM617 268h1v2h-1zM618 266h1v2h-1zM619 264h1v2h-1zM620 262h1v2h-1zM621 261h1v1h-1zM622 259h1v2h-1zM623 258h1v1h-1zM624 256h1v2h-1zM625 255h1v1h-1zM626 254h1v1h-1zM627 252h1v2h-1zM628 251h1v1h-1zM629 250h2v1h-2zM631 249h1v1h-1zM632 248h3v1h-3zM635 247h2v1h-2zM637 248h3v1h-3zM640 249h1v1h-1zM641 250h1v1h-1zM642 251h1v1h-1zM643 252h1v2h-1zM644 254h1v2h-1zM645 256h1v2h-1zM646 258h1v2h-1zM647 260h1v2h-1zM648 262h1v2h-1zM649 264h1v2h-1zM650 266h1v1h-1zM651 267h1v2h-1zM652 269h1v1h-1zM653 270h1v1h-1zM654 271h1v1h-1zM655 272h2v1h-2zM657 273h2v1h-2zM659 274h3v1h-3zM662 273h2v1h-2zM664 270h1v3h-1zM665 267h1v3h-1zM666 265h1v2h-1zM667 262h1v3h-1zM668 258h1v4h-1zM669 255h1v3h-1zM670 252h1v3h-1zM671 248h1v4h-1zM672 245h1v3h-1zM673 242h1v3h-1zM674 239h1v3h-1zM675 236h1v3h-1zM676 232h1v4h-1zM677 229h1v3h-1zM678 226h1v3h-1zM679 223h1v3h-1zM680 221h1v2h-1zM681 218h1v3h-1zM682 216h1v2h-1zM683 214h1v2h-1zM684 213h1v1h-1zM685 212h1v1h-1zM686 210h1v2h-1zM687 209h3v1h-3zM690 210h2v1h-2zM692 211h1v2h-1zM693 213h1v1h-1zM694 214h1v1h-1zM695 215h1v2h-1zM696 217h1v1h-1zM697 218h1v2h-1zM698 220h1v1h-1zM699 221h1v1h-1zM700 222h1v2h-1zM701 224h1v2h-1zM702 226h1v1h-1zM703 227h1v2h-1zM704 229h1v2h-1zM705 231h1v2h-1zM706 233h1v2h-1zM707 235h1v2h-1zM708 237h1v2h-1zM709 239h1v2h-1zM710 241h1v2h-1zM711 243h1v1h-1zM712 244h1v2h-1zM713 246h1v2h-1zM714 248h1v1h-1zM715 249h1v2h-1zM716 251h1v1h-1zM717 252h1v1h-1zM718 253h1v1h-1zM719 254h2v1h-2zM721 255h8v1h-8zM729 254h1v1h-1zM730 253h1v1h-1zM731 252h1v1h-1zM732 251h1v1h-1zM733 250h1v1h-1zM734 249h1v1h-1zM735 248h1v1h-1zM736 247h1v1h-1zM737 248h3v1h-3zM740 249h1v1h-1zM741 250h1v1h-1zM742 251h1v1h-1zM743 252h1v1h-1zM744 253h1v2h-1zM745 255h1v1h-1zM746 256h1v2h-1zM747 258h1v1h-1zM748 259h1v2h-1zM749 261h1v1h-1zM750 262h1v2h-1zM751 264h1v1h-1zM752 265h1v2h-1zM753 267h1v2h-1zM754 269h1v1h-1zM755 270h1v2h-1zM756 272h1v2h-1zM757 274h1v1h-1zM758 275h1v2h-1zM759 277h1v2h-1zM760 279h1v2h-1zM761 281h1v3h-1zM762 284h1v2h-1zM763 286h1v2h-1zM764 288h1v2h-1zM765 290h1v2h-1zM766 292h1v2h-1zM767 294h1v2h-1zM768 296h1v2h-1zM769 298h1v1h-1zM770 299h1v2h-1zM771 301h1v2h-1zM772 303h1v2h-1zM773 305h1v1h-1zM774 306h1v2h-1zM775 308h1v1h-1zM776 309h1v1h-1zM777 310h1v1h-1zM778 311h1v1h-1zM779 312h4v1h-4zM783 311h1v1h-1zM784 310h1v1h-1zM785 308h1v2h-1zM786 306h1v2h-1zM787 304h1v2h-1zM788 302h1v2h-1zM789 300h1v2h-1zM790 299h1v1h-1zM791 297h1v2h-1zM792 296h1v1h-1zM793 294h1v2h-1zM794 293h1v1h-1zM795 292h1v1h-1zM796 291h1v1h-1zM797 290h2v1h-2zM799 289h2v1h-2zM801 290h1v1h-1zM802 291h1v1h-1zM803 291h1v2h-1zM804 293h1v2h-1zM805 295h1v3h-1zM806 298h1v2h-1zM807 300h1v3h-1zM808 303h1v4h-1zM809 307h1v3h-1zM810 310h1v4h-1zM811 314h1v3h-1zM812 317h1v4h-1zM813 321h1v3h-1zM814 324h1v3h-1zM815 327h1v4h-1zM816 331h1v3h-1zM817 334h1v3h-1zM818 337h1v3h-1zM819 340h1v3h-1zM820 343h1v2h-1zM821 345h1v3h-1zM822 348h1v2h-1zM823 350h1v3h-1zM824 353h1v2h-1zM825 355h1v3h-1zM826 358h1v2h-1zM827 360h1v3h-1zM828 363h1v3h-1zM829 366h1v3h-1zM830 369h1v4h-1zM831 373h1v3h-1zM832 376h1v3h-1zM833 379h1v3h-1zM834 382h1v3h-1zM835 385h1v3h-1zM836 388h1v2h-1zM837 390h1v3h-1zM838 393h1v2h-1zM839 395h1v2h-1zM840 397h1v2h-1zM841 399h1v2h-1zM842 401h1v2h-1zM843 403h1v2h-1zM844 405h1v2h-1zM845 407h1v1h-1zM846 408h1v2h-1zM847 410h1v2h-1zM848 412h1v1h-1zM849 413h1v1h-1zM850 414h1v1h-1zM851 415h1v1h-1zM852 416h1v1h-1zM853 417h1v1h-1zM854 418h2v1h-2zM856 419h1v1h-1zM857 418h3v1h-3zM860 417h2v1h-2zM862 416h1v1h-1zM863 415h1v1h-1zM864 414h1v1h-1zM865 413h1v1h-1zM866 411h1v2h-1zM867 409h1v2h-1zM868 407h1v2h-1zM869 405h1v2h-1zM870 403h1v2h-1zM871 401h1v2h-1zM872 399h1v2h-1zM873 396h1v3h-1zM874 394h1v2h-1zM875 391h1v3h-1zM876 386h1v5h-1zM877 382h1v4h-1zM878 378h1v4h-1zM879 373h1v5h-1zM880 368h1v5h-1zM881 363h1v5h-1zM882 358h1v5h-1zM883 353h1v5h-1zM884 347h1v6h-1zM885 341h1v6h-1zM886 335h1v6h-1zM887 329h1v6h-1zM888 323h1v6h-1zM889 318h1v5h-1zM890 313h1v5h-1zM891 307h1v6h-1zM892 301h1v6h-1zM893 294h1v7h-1zM894 288h1v6h-1zM895 282h1v6h-1zM896 277h1v5h-1zM897 272h1v5h-1zM898 266h1v6h-1zM899 261h1v5h-1zM900 256h1v5h-1zM901 251h1v5h-1zM902 246h1v5h-1zM903 240h1v6h-1zM904 235h1v5h-1zM905 229h1v6h-1zM906 223h1v6h-1zM907 216h1v7h-1zM908 208h1v8h-1zM909 200h1v8h-1zM910 192h1v8h-1zM911 185h1v7h-1zM912 179h1v6h-1zM913 173h1v6h-1zM914 167h1v6h-1zM915 162h1v5h-1zM916 158h1v4h-1zM917 154h1v4h-1zM918 150h1v4h-1zM919 147h1v3h-1zM920 145h1v2h-1zM921 143h1v2h-1zM922 141h1v2h-1zM923 140h1v2h-1zM924 142h1v6h-1zM925 148h1v6h-1zM926 154h1v5h-1zM927 159h1v7h-1zM928 166h1v8h-1zM929 174h1v8h-1zM930 182h1v8h-1zM931 190h1v7h-1zM932 197h1v6h-1zM933 203h1v7h-1zM934 210h1v6h-1zM935 216h1v6h-1zM936 222h1v7h-1zM937 229h1v6h-1zM938 235h1v6h-1zM939 241h1v8h-1zM940 249h1v8h-1zM941 257h1v8h-1zM942 265h1v8h-1zM943 273h1v8h-1zM944 281h1v8h-1zM945 289h1v7h-1zM946 296h1v8h-1zM947 304h1v8h-1zM948 312h1v9h-1zM949 321h1v9h-1zM950 330h1v17h-1zM951 347h1v16h-1zM952 363h1v14h-1zM953 377h1v13h-1zM954 390h1v13h-1zM955 403h1v11h-1zM956 414h1v10h-1zM957 424h1v10h-1zM958 434h1v8h-1zM959 442h1v8h-1zM960 450h1v7h-1zM961 457h1v4h-1zM962 461h1v5h-1zM963 466h1v3h-1zM964 469h1v1h-1zM965 470h1v2h-1zM966 472h1v1h-1zM967 473h1v1h-1zM968 469h1v4h-1zM969 466h1v3h-1zM970 463h1v3h-1zM971 456h1v7h-1zM972 446h1v10h-1zM973 437h1v9h-1zM974 428h1v9h-1zM975 417h1v11h-1zM976 403h1v14h-1zM977 390h1v13h-1zM978 376h1v14h-1zM979 365h1v11h-1zM980 356h1v9h-1zM981 348h1v8h-1zM982 339h1v9h-1zM983 331h1v8h-1zM984 324h1v7h-1zM985 317h1v7h-1zM986 310h1v7h-1zM987 305h1v5h-1zM988 302h1v3h-1zM989 299h1v3h-1zM990 297h1v2h-1zM991 296h1v1h-1zM992 295h1v3h-1zM993 298h1v3h-1zM994 301h1v3h-1zM995 304h1v5h-1zM996 309h1v6h-1zM997 315h1v7h-1zM998 322h1v7h-1zM999 329h1v7h-1zM1000 336h1v8h-1zM1001 344h1v7h-1zM1002 351h1v7h-1zM1003 358h1v7h-1zM1004 365h1v6h-1zM1005 371h1v6h-1zM1006 377h1v6h-1zM1007 383h1v5h-1zM1008 388h1v5h-1zM1009 393h1v5h-1zM1010 398h1v4h-1zM1011 402h1v3h-1zM1012 405h1v2h-1zM1013 407h1v2h-1zM1014 409h1v2h-1zM1015 411h1v1h-1zM1016 412h3v1h-3zM1019 411h1v2h-1zM1020 408h1v3h-1zM1021 404h1v4h-1zM1022 401h1v3h-1zM1023 397h1v4h-1zM1024 392h1v5h-1zM1025 387h1v5h-1zM1026 383h1v4h-1zM1027 379h1v4h-1zM1028 376h1v3h-1zM1029 373h1v3h-1zM1030 369h1v4h-1zM1031 367h1v2h-1zM1032 364h1v3h-1zM1033 362h1v2h-1zM1034 360h1v2h-1zM1035 358h1v2h-1zM1036 357h1v1h-1zM1037 356h2v1h-2zM1039 355h4v1h-4zM1043 356h1v1h-1zM1044 357h1v3h-1zM1045 360h1v2h-1zM1046 362h1v2h-1zM1047 364h1v2h-1zM1048 366h1v2h-1zM1049 368h1v3h-1zM1050 371h1v2h-1zM1051 373h1v2h-1zM1052 375h1v3h-1zM1053 378h1v2h-1zM1054 380h1v3h-1zM1055 383h1v2h-1zM1056 385h1v2h-1zM1057 387h1v1h-1zM1058 388h1v1h-1zM1059 389h1v2h-1zM1060 391h1v1h-1zM1061 392h2v1h-2zM1063 393h1v1h-1zM1064 394h1v2h-1zM1065 396h1v1h-1zM1066 397h1v1h-1zM1067 398h1v1h-1zM1068 399h1v2h-1zM1069 401h1v3h-1zM1070 404h1v2h-1zM1071 406h1v2h-1zM1072 408h1v2h-1zM1073 410h1v2h-1zM1074 412h1v2h-1zM1075 414h1v2h-1zM1076 416h1v1h-1zM1077 417h1v1h-1zM1078 418h1v1h-1zM1079 419h1v1h-1zM1080 420h1v1h-1zM1081 421h2v1h-2zM1083 422h3v1h-3zM1086 421h2v1h-2zM1088 419h1v2h-1zM1089 417h1v2h-1zM1090 415h1v2h-1zM1091 412h1v3h-1zM1092 408h1v4h-1zM1093 405h1v3h-1zM1094 401h1v4h-1zM1095 397h1v4h-1zM1096 391h1v6h-1zM1097 386h1v5h-1zM1098 381h1v5h-1zM1099 376h1v5h-1zM1100 372h1v4h-1zM1101 369h1v3h-1zM1102 365h1v4h-1zM1103 362h1v3h-1zM1104 361h1v1h-1zM1105 359h1v2h-1zM1106 358h1v1h-1zM1107 357h1v1h-1zM1108 356h1v1h-1zM1109 357h1v1h-1zM1110 358h1v1h-1zM1111 358h1v2h-1zM1112 360h1v4h-1zM1113 364h1v3h-1zM1114 367h1v4h-1zM1115 371h1v4h-1zM1116 375h1v5h-1zM1117 380h1v5h-1zM1118 385h1v4h-1zM1119 389h1v4h-1zM1120 393h1v3h-1zM1121 396h1v3h-1zM1122 399h1v3h-1zM1123 402h1v3h-1zM1124 405h1v2h-1zM1125 407h1v2h-1zM1126 409h1v2h-1zM1127 411h1v1h-1zM1128 412h1v1h-1zM1129 413h2v1h-2zM1131 414h1v1h-1zM1132 413h2v1h-2zM1134 412h1v1h-1zM1135 411h1v1h-1zM1136 410h1v1h-1zM1137 409h1v1h-1zM1138 408h1v1h-1zM1139 407h2v1h-2zM1141 408h2v1h-2zM1143 409h1v1h-1zM1144 410h1v1h-1zM1145 411h1v2h-1zM1146 413h1v1h-1zM1147 414h2v1h-2zM1149 415h2v1h-2zM1151 416h1v1h-1zM1152 414h1v2h-1zM1153 412h1v2h-1zM1154 410h1v2h-1zM1155 408h1v2h-1zM1156 404h1v4h-1zM1157 400h1v4h-1zM1158 397h1v3h-1zM1159 393h1v4h-1zM1160 389h1v4h-1zM1161 385h1v4h-1zM1162 380h1v5h-1zM1163 376h1v4h-1zM1164 373h1v3h-1zM1165 369h1v4h-1zM1166 365h1v4h-1zM1167 363h1v2h-1zM1168 361h1v2h-1zM1169 360h1v1h-1zM1170 359h1v1h-1zM1171 358h1v1h-1zM1172 357h3v1h-3zM1175 358h2v1h-2zM1177 359h1v2h-1zM1178 361h1v1h-1zM1179 362h1v1h-1zM1180 363h1v2h-1zM1181 365h1v2h-1zM1182 367h1v2h-1z" fill="#ffa500"/>
<rect x="7" y="154" width="1484" height="2" fill="#ff0000"/>
<rect x="7" y="210" width="1484" height="2" fill="#ff0000"/>
<rect x="7" y="264" width="1484" height="2" fill="#ff0000"/>
<rect x="7" y="319" width="1484" height="2" fill="#ff0000"/>
<rect x="7" y="384" width="1484" height="2" fill="#00ff00"/>
<rect x="7" y="445" width="1484" height="2" fill="#0000ff"/>
<rect x="7" y="521" width="1484" height="2" fill="#0000ff"/>
<path d="M7 584h1v1h-1zM8 583h1v1h-1zM9 582h2v1h-2zM11 580h1v2h-1zM12 578h1v2h-1zM13 576h1v2h-1zM14 574h1v2h-1zM15 572h1v2h-1zM16 571h1v1h-1zM17 570h1v1h-1zM18 569h1v1h-1zM19 568h1v1h-1zM20 567h2v1h-2zM22 566h1v1h-1zM23 565h1v1h-1zM24 564h1v1h-1zM25 563h1v1h-1zM26 562h2v1h-2zM28 563h3v1h-3zM31 564h3v1h-3zM34 563h3v1h-3zM37 564h1v1h-1zM38 565h2v1h-2zM40 566h7v1h-7zM47 566h1v2h-1zM48 568h1v3h-1zM49 571h1v2h-1zM50 573h1v3h-1zM51 576h1v1h-1zM52 577h4v1h-4zM56 578h1v1h-1zM57 579h1v1h-1zM58 580h1v1h-1zM59 581h5v1h-5zM64 582h1v1h-1zM65 583h1v2h-1zM66 585h1v2h-1zM67 587h6v1h-6zM73 588h3v1h-3zM76 589h3v1h-3zM79 588h1v2h-1zM80 586h1v2h-1zM81 584h1v2h-1zM82 582h1v2h-1zM83 581h1v1h-1zM84 580h7v1h-7zM91 581h1v1h-1zM92 580h2v1h-2zM94 579h2v1h-2zM96 578h1v1h-1zM97 579h2v1h-2zM99 580h1v1h-1zM100 580h1v2h-1zM101 582h1v2h-1zM102 584h1v1h-1zM103 585h1v1h-1zM104 586h2v1h-2zM106 585h1v1h-1zM107 584h7v1h-7zM114 585h9v1h-9zM123 586h1v2h-1zM124 588h1v2h-1zM125 590h1v1h-1zM126 591h1v2h-1zM127 593h1v1h-1zM128 594h2v1h-2zM130 595h2v1h-2zM132 594h1v1h-1zM133 593h2v1h-2zM135 592h1v1h-1zM136 593h1v1h-1zM137 594h2v1h-2zM139 595h1v1h-1zM140 596h2v1h-2zM142 595h3v1h-3zM145 594h1v1h-1zM146 593h1v1h-1zM147 592h1v1h-1zM148 591h2v1h-2zM150 590h3v1h-3zM153 591h2v1h-2zM155 591h1v2h-1zM156 593h1v2h-1zM157 595h1v1h-1zM158 596h1v2h-1zM159 598h1v1h-1zM160 596h1v3h-1zM161 594h1v2h-1zM162 591h1v3h-1zM163 590h1v1h-1zM164 589h3v1h-3zM167 587h1v3h-1zM168 585h1v2h-1zM169 582h1v3h-1zM170 579h1v3h-1zM171 578h1v1h-1zM172 577h3v1h-3zM175 576h1v1h-1zM176 575h1v1h-1zM177 574h1v1h-1zM178 573h1v1h-1zM179 572h1v1h-1zM180 573h2v1h-2zM182 574h1v1h-1zM183 575h3v1h-3zM186 574h4v1h-4zM190 575h2v1h-2zM192 576h4v1h-4zM196 576h1v2h-1zM197 578h1v1h-1zM198 579h1v1h-1zM199 580h1v1h-1zM200 581h1v1h-1zM201 582h1v1h-1zM202 583h1v1h-1zM203 584h1v1h-1zM204 585h1v1h-1zM205 586h1v1h-1zM206 587h1v1h-1zM207 588h1v1h-1zM208 589h1v1h-1zM209 590h2v1h-2zM211 591h1v1h-1zM212 590h2v1h-2zM214 589h9v1h-9zM223 590h3v1h-3zM226 589h5v1h-5zM231 589h1v2h-1zM232 587h1v2h-1zM233 584h1v3h-1zM234 582h1v2h-1zM235 580h1v2h-1zM236 579h4v1h-4zM240 579h1v2h-1zM241 581h1v1h-1zM242 582h1v1h-1zM243 583h1v1h-1zM244 584h1v1h-1zM245 585h1v1h-1zM246 586h2v1h-2zM248 587h3v1h-3zM251 588h3v1h-3zM254 589h1v1h-1zM255 590h1v1h-1zM256 591h1v2h-1zM257 593h1v2h-1zM258 595h1v2h-1zM259 597h2v1h-2zM261 598h2v1h-2zM263 599h4v1h-4zM267 600h4v1h-4zM271 598h1v3h-1zM272 595h1v3h-1zM273 592h1v3h-1zM274 589h1v3h-1zM275 588h1v1h-1zM276 587h2v1h-2zM278 586h3v1h-3zM281 585h4v1h-4zM285 586h4v1h-4zM289 585h1v1h-1zM290 583h1v2h-1zM291 582h3v1h-3zM294 583h2v1h-2zM296 584h1v1h-1zM297 585h2v1h-2zM299 586h1v1h-1zM300 585h1v2h-1zM301 583h1v2h-1zM302 580h1v3h-1zM303 579h1v1h-1zM304 578h6v1h-6zM310 579h2v1h-2zM312 580h1v2h-1zM313 582h1v1h-1zM314 583h1v2h-1zM315 585h2v1h-2zM317 583h1v2h-1zM318 581h1v2h-1zM319 580h1v1h-1zM320 579h6v1h-6zM326 580h1v1h-1zM327 581h1v1h-1zM328 582h1v1h-1zM329 583h1v1h-1zM330 584h1v2h-1zM331 586h2v1h-2zM333 585h2v1h-2zM335 584h1v1h-1zM336 585h2v1h-2zM338 586h2v1h-2zM340 587h1v1h-1zM341 586h2v1h-2zM343 585h1v1h-1zM344 586h1v1h-1zM345 587h1v2h-1zM346 589h1v1h-1zM347 590h1v1h-1zM348 591h2v1h-2zM350 592h3v1h-3zM353 591h7v1h-7zM360 592h1v1h-1zM361 593h1v1h-1zM362 594h1v1h-1zM363 595h2v1h-2zM365 594h1v1h-1zM366 592h1v2h-1zM367 591h1v1h-1zM368 590h1v1h-1zM369 589h1v1h-1zM370 588h1v1h-1zM371 587h1v1h-1zM372 586h1v1h-1zM373 584h1v2h-1zM374 582h1v2h-1zM375 581h1v1h-1zM376 580h2v1h-2zM378 581h2v1h-2zM380 582h1v1h-1zM381 581h7v1h-7zM388 582h1v1h-1zM389 583h1v1h-1zM390 584h1v1h-1zM391 585h1v1h-1zM392 585h1v2h-1zM393 584h1v1h-1zM394 583h1v1h-1zM395 581h1v2h-1zM396 580h1v1h-1zM397 579h1v1h-1zM398 577h1v2h-1zM399 576h1v1h-1zM400 575h1v1h-1zM401 574h1v1h-1zM402 573h2v1h-2zM404 572h5v1h-5zM409 573h1v1h-1zM410 574h1v1h-1zM411 575h2v1h-2zM413 574h2v1h-2zM415 573h1v1h-1zM416 572h1v2h-1zM417 571h1v1h-1zM418 570h1v1h-1zM419 568h1v2h-1zM420 567h1v1h-1zM421 566h1v1h-1zM422 565h1v1h-1zM423 564h1v1h-1zM424 563h1v1h-1zM425 562h2v1h-2zM427 561h2v1h-2zM429 560h3v1h-3zM432 561h2v1h-2zM434 562h1v1h-1zM435 563h2v1h-2zM437 564h2v1h-2zM439 565h1v1h-1zM440 566h1v1h-1zM441 567h2v1h-2zM443 568h1v1h-1zM444 569h1v1h-1zM445 570h1v1h-1zM446 571h1v1h-1zM447 572h2v1h-2zM449 573h1v1h-1zM450 574h2v1h-2zM452 575h4v1h-4zM456 574h2v1h-2zM458 573h2v1h-2zM460 572h1v1h-1zM461 571h2v1h-2zM463 570h3v1h-3zM466 569h2v1h-2zM468 568h1v1h-1zM469 567h1v1h-1zM470 566h1v1h-1zM471 565h1v1h-1zM472 564h2v1h-2zM474 563h3v1h-3zM477 564h3v1h-3zM480 565h2v1h-2zM482 566h1v1h-1zM483 567h1v2h-1zM484 569h1v4h-1zM485 573h1v4h-1zM486 577h1v4h-1zM487 581h2v1h-2zM489 582h5v1h-5zM494 583h1v1h-1zM495 584h1v1h-1zM496 585h1v1h-1zM497 586h1v1h-1zM498 587h1v1h-1zM499 588h1v1h-1zM500 589h4v1h-4zM504 588h2v1h-2zM506 587h1v1h-1zM507 586h2v1h-2zM509 587h1v1h-1zM510 588h2v1h-2zM512 589h6v1h-6zM518 590h1v1h-1zM519 589h1v2h-1zM520 587h1v2h-1zM521 585h1v2h-1zM522 583h1v2h-1zM523 581h1v2h-1zM524 580h4v1h-4zM528 579h1v1h-1zM529 578h1v1h-1zM530 577h1v1h-1zM531 576h1v1h-1zM532 575h5v1h-5zM537 576h1v1h-1zM538 577h4v1h-4zM542 576h1v1h-1zM543 576h1v2h-1zM544 578h1v2h-1zM545 580h1v2h-1zM546 582h1v2h-1zM547 584h4v1h-4zM551 585h2v1h-2zM553 586h3v1h-3zM556 587h6v1h-6zM562 588h4v1h-4zM566 587h2v1h-2zM568 586h1v1h-1zM569 585h1v1h-1zM570 584h1v1h-1zM571 583h1v1h-1zM572 582h2v1h-2zM574 583h2v1h-2zM576 582h1v2h-1zM577 579h1v3h-1zM578 577h1v2h-1zM579 575h1v2h-1zM580 574h1v1h-1zM581 573h2v1h-2zM583 572h2v1h-2zM585 571h4v1h-4zM589 570h2v1h-2zM591 570h1v2h-1zM592 572h1v2h-1zM593 574h1v2h-1zM594 576h1v2h-1zM595 578h1v1h-1zM596 579h2v1h-2zM598 578h3v1h-3zM601 577h1v1h-1zM602 576h1v1h-1zM603 575h1v1h-1zM604 574h1v1h-1zM605 573h1v1h-1zM606 572h4v1h-4zM610 573h2v1h-2zM612 572h1v1h-1zM613 570h1v2h-1zM614 569h1v1h-1zM615 568h1v1h-1zM616 567h1v1h-1zM617 566h2v1h-2zM619 565h1v1h-1zM620 566h1v1h-1zM621 567h1v1h-1zM622 568h2v1h-2zM624 569h1v1h-1zM625 568h2v1h-2zM627 567h1v1h-1zM628 566h2v1h-2zM630 565h1v1h-1zM631 564h1v1h-1zM632 565h1v2h-1zM633 567h1v2h-1zM634 569h1v1h-1zM635 570h1v1h-1zM636 571h1v1h-1zM637 572h2v1h-2zM639 573h1v1h-1zM640 574h1v1h-1zM641 575h1v2h-1zM642 577h1v1h-1zM643 578h1v1h-1zM644 579h1v1h-1zM645 580h1v1h-1zM646 581h1v1h-1zM647 582h1v1h-1zM648 581h1v1h-1zM649 580h1v1h-1zM650 579h1v1h-1zM651 578h8v1h-8zM659 579h2v1h-2zM661 578h1v1h-1zM662 577h1v1h-1zM663 576h1v1h-1zM664 573h1v3h-1zM665 571h1v2h-1zM666 568h1v3h-1zM667 567h1v1h-1zM668 566h1v1h-1zM669 565h1v1h-1zM670 564h2v1h-2zM672 563h2v1h-2zM674 562h2v1h-2zM676 561h2v1h-2zM678 560h4v1h-4zM682 561h2v1h-2zM684 562h1v1h-1zM685 563h1v1h-1zM686 564h1v1h-1zM687 565h1v2h-1zM688 567h1v2h-1zM689 569h1v2h-1zM690 571h1v2h-1zM691 573h2v1h-2zM693 572h3v1h-3zM696 571h2v1h-2zM698 570h1v1h-1zM699 569h1v1h-1zM700 570h1v2h-1zM701 572h1v3h-1zM702 575h1v2h-1zM703 577h1v1h-1zM704 578h1v1h-1zM705 579h1v1h-1zM706 580h1v1h-1zM707 581h2v1h-2zM709 582h1v1h-1zM710 583h1v1h-1zM711 584h2v1h-2zM713 583h1v1h-1zM714 582h2v1h-2zM716 581h2v1h-2zM718 580h2v1h-2zM720 579h3v1h-3zM723 578h2v1h-2zM725 579h2v1h-2zM727 580h1v1h-1zM728 579h1v1h-1zM729 578h1v1h-1zM730 576h1v2h-1zM731 575h3v1h-3zM734 576h1v1h-1zM735 576h1v2h-1zM736 578h1v2h-1zM737 580h1v2h-1zM738 582h1v2h-1zM739 584h1v1h-1zM740 585h6v1h-6zM746 586h2v1h-2zM748 585h2v1h-2zM750 584h1v1h-1zM751 583h2v1h-2zM753 584h1v1h-1zM754 585h1v1h-1zM755 586h1v1h-1zM756 587h1v1h-1zM757 588h1v1h-1zM758 589h1v1h-1zM759 590h1v1h-1zM760 591h2v1h-2zM762 592h2v1h-2zM764 593h1v1h-1zM765 592h4v1h-4zM769 593h2v1h-2zM771 594h2v1h-2zM773 595h2v1h-2zM775 596h4v1h-4zM779 595h1v2h-1zM780 593h1v2h-1zM781 590h1v3h-1zM782 588h1v2h-1zM783 586h1v2h-1zM784 584h1v2h-1zM785 582h1v2h-1zM786 580h1v2h-1zM787 579h1v1h-1zM788 578h1v1h-1zM789 577h3v1h-3zM792 577h1v2h-1zM793 579h1v1h-1zM794 580h1v1h-1zM795 581h1v1h-1zM796 582h1v1h-1zM797 583h2v1h-2zM799 584h1v1h-1zM800 585h1v2h-1zM801 587h1v1h-1zM802 588h1v1h-1zM803 589h1v1h-1zM804 590h2v1h-2zM806 591h2v1h-2zM808 592h2v1h-2zM810 593h2v1h-2zM812 594h2v1h-2zM814 595h2v1h-2zM816 596h2v1h-2zM818 597h1v1h-1zM819 598h7v1h-7zM826 599h1v1h-1zM827 600h1v1h-1zM828 601h2v1h-2zM830 602h1v1h-1zM831 603h1v1h-1zM832 604h7v1h-7zM839 605h7v1h-7zM846 606h2v1h-2zM848 607h3v1h-3zM851 608h2v1h-2zM853 607h1v1h-1zM854 606h1v1h-1zM855 604h1v2h-1zM856 601h1v3h-1zM857 598h1v3h-1zM858 594h1v4h-1zM859 593h1v1h-1zM860 592h2v1h-2zM862 591h7v1h-7zM869 590h2v1h-2zM871 589h4v1h-4zM875 588h1v2h-1zM876 583h1v5h-1zM877 578h1v5h-1zM878 573h1v5h-1zM879 570h1v3h-1zM880 569h4v1h-4zM884 568h1v2h-1zM885 567h1v1h-1zM886 566h1v1h-1zM887 564h1v2h-1zM888 563h1v1h-1zM889 561h1v2h-1zM890 559h1v2h-1zM891 558h1v1h-1zM892 557h1v1h-1zM893 556h1v1h-1zM894 555h1v1h-1zM895 554h1v1h-1zM896 554h1v2h-1zM897 556h1v1h-1zM898 557h1v1h-1zM899 558h1v1h-1zM900 559h3v1h-3zM903 558h1v1h-1zM904 557h1v1h-1zM905 555h1v2h-1zM906 554h1v1h-1zM907 553h1v1h-1zM908 552h4v1h-4zM912 551h2v1h-2zM914 550h1v1h-1zM915 549h1v1h-1zM916 549h1v3h-1zM917 552h1v2h-1zM918 554h1v2h-1zM919 556h1v2h-1zM920 558h1v2h-1zM921 560h1v2h-1zM922 562h1v2h-1zM923 564h1v3h-1zM924 567h1v3h-1zM925 570h1v4h-1zM926 574h1v3h-1zM927 577h1v2h-1zM928 579h2v1h-2zM930 580h6v1h-6zM936 579h1v1h-1zM937 578h1v1h-1zM938 577h2v1h-2zM940 577h1v2h-1zM941 579h1v2h-1zM942 581h1v3h-1zM943 584h1v2h-1zM944 586h1v1h-1zM945 587h1v2h-1zM946 589h1v1h-1zM947 590h1v1h-1zM948 591h1v2h-1zM949 593h1v1h-1zM950 594h1v1h-1zM951 595h1v1h-1zM952 596h7v1h-7zM959 597h1v1h-1zM960 595h1v2h-1zM961 593h1v2h-1zM962 591h1v2h-1zM963 590h1v1h-1zM964 589h2v1h-2zM966 588h2v1h-2zM968 587h1v1h-1zM969 586h2v1h-2zM971 585h1v1h-1zM972 582h1v3h-1zM973 580h1v2h-1zM974 578h1v2h-1zM975 576h1v2h-1zM976 575h2v1h-2zM978 574h2v1h-2zM980 573h2v1h-2zM982 572h1v1h-1zM983 571h1v1h-1zM984 571h1v2h-1zM985 573h1v1h-1zM986 574h1v2h-1zM987 576h1v1h-1zM988 577h5v1h-5zM993 578h1v1h-1zM994 579h1v1h-1zM995 580h1v1h-1zM996 581h1v1h-1zM997 582h2v1h-2zM999 583h1v1h-1zM1000 584h1v1h-1zM1001 585h1v1h-1zM1002 586h2v1h-2zM1004 587h1v1h-1zM1005 586h7v1h-7zM1012 585h1v1h-1zM1013 584h1v1h-1zM1014 583h1v1h-1zM1015 582h1v1h-1zM1016 581h2v1h-2zM1018 582h2v1h-2zM1020 581h1v1h-1zM1021 580h1v1h-1zM1022 579h1v1h-1zM1023 578h2v1h-2zM1025 577h6v1h-6zM1031 578h2v1h-2zM1033 579h2v1h-2zM1035 580h1v1h-1zM1036 579h1v1h-1zM1037 578h1v1h-1zM1038 577h1v1h-1zM1039 576h2v1h-2zM1041 577h1v1h-1zM1042 578h1v1h-1zM1043 579h1v1h-1zM1044 580h1v1h-1zM1045 581h1v1h-1zM1046 582h1v1h-1zM1047 583h1v1h-1zM1048 584h1v1h-1zM1049 583h2v1h-2zM1051 582h1v1h-1zM1052 581h3v1h-3zM1055 582h8v1h-8zM1063 583h3v1h-3zM1066 584h4v1h-4zM1070 585h3v1h-3zM1073 586h2v1h-2zM1075 587h5v1h-5zM1080 586h1v1h-1zM1081 585h2v1h-2zM1083 584h1v1h-1zM1084 583h5v1h-5zM1089 582h1v1h-1zM1090 581h1v1h-1zM1091 580h1v2h-1zM1092 579h1v1h-1zM1093 577h1v2h-1zM1094 575h1v2h-1zM1095 573h1v2h-1zM1096 572h1v1h-1zM1097 571h1v1h-1zM1098 570h1v1h-1zM1099 569h2v1h-2zM1101 570h2v1h-2zM1103 571h1v1h-1zM1104 571h1v2h-1zM1105 573h1v1h-1zM1106 574h1v2h-1zM1107 576h1v1h-1zM1108 577h1v1h-1zM1109 578h1v1h-1zM1110 579h1v2h-1zM1111 581h1v1h-1zM1112 582h2v1h-2zM1114 583h1v1h-1zM1115 584h1v1h-1zM1116 585h2v1h-2zM1118 584h3v1h-3zM1121 583h1v1h-1zM1122 582h1v1h-1zM1123 581h3v1h-3zM1126 582h3v1h-3zM1129 583h2v1h-2zM1131 584h2v1h-2zM1133 582h1v2h-1zM1134 581h1v1h-1zM1135 580h1v1h-1zM1136 579h1v1h-1zM1137 580h1v1h-1zM1138 581h2v1h-2zM1140 582h1v1h-1zM1141 583h1v1h-1zM1142 584h1v1h-1zM1143 585h2v1h-2zM1145 584h2v1h-2zM1147 583h5v1h-5zM1152 580h1v3h-1zM1153 578h1v2h-1zM1154 576h1v2h-1zM1155 574h1v2h-1zM1156 573h2v1h-2zM1158 572h2v1h-2zM1160 571h1v1h-1zM1161 570h1v1h-1zM1162 569h1v1h-1zM1163 568h2v1h-2zM1165 569h1v1h-1zM1166 570h1v1h-1zM1167 571h1v2h-1zM1168 573h1v1h-1zM1169 574h1v1h-1zM1170 575h1v1h-1zM1171 576h1v1h-1zM1172 577h9v1h-9zM1181 576h2v1h-2z" fill="#1e90ff"/>
<rect x="7" y="675" width="1" height="4" fill="#c0c0c0"/>
<rect x="11" y="676" width="1" height="3" fill="#c0c0c0"/>
<rect x="15" y="674" width="1" height="5" fill="#c0c0c0"/>
<rect x="19" y="670" width="1" height="9" fill="#c0c0c0"/>
<rect x="23" y="668" width="1" height="11" fill="#c0c0c0"/>
<rect x="27" y="665" width="1" height="14" fill="#c0c0c0"/>
<rect x="31" y="663" width="1" height="16" fill="#c0c0c0"/>
<rect x="35" y="661" width="1" height="18" fill="#c0c0c0"/>
<rect x="39" y="660" width="1" height="19" fill="#c0c0c0"/>
<rect x="43" y="660" width="1" height="19" fill="#c0c0c0"/>
<rect x="47" y="660" width="1" height="19" fill="#c0c0c0"/>
<rect x="51" y="662" width="1" height="17" fill="#c0c0c0"/>
<rect x="55" y="665" width="1" height="14" fill="#c0c0c0"/>
<rect x="59" y="668" width="1" height="11" fill="#c0c0c0"/>
<rect x="63" y="671" width="1" height="8" fill="#c0c0c0"/>
<rect x="67" y="675" width="1" height="4" fill="#c0c0c0"/>
<rect x="71" y="678" width="1" height="1" fill="#c0c0c0"/>
<rect x="75" y="678" width="1" height="2" fill="#c0c0c0"/>
<rect x="79" y="678" width="1" height="4" fill="#c0c0c0"/>
<rect x="83" y="678" width="1" height="5" fill="#c0c0c0"/>
<rect x="87" y="678" width="1" height="5" fill="#c0c0c0"/>
<rect x="91" y="678" width="1" height="5" fill="#c0c0c0"/>
<rect x="95" y="678" width="1" height="4" fill="#c0c0c0"/>
<rect x="99" y="678" width="1" height="4" fill="#c0c0c0"/>
<rect x="103" y="678" width="1" height="5" fill="#c0c0c0"/>
<rect x="107" y="678" width="1" height="5" fill="#c0c0c0"/>
<rect x="111" y="678" width="1" height="6" fill="#c0c0c0"/>
<rect x="115" y="678" width="1" height="7" fill="#c0c0c0"/>
<rect x="119" y="678" width="1" height="7" fill="#c0c0c0"/>
<rect x="123" y="678" width="1" height="8" fill="#c0c0c0"/>
<rect x="127" y="678" width="1" height="9" fill="#c0c0c0"/>
<rect x="131" y="678" width="1" height="12" fill="#c0c0c0"/>
<rect x="135" y="678" width="1" height="14" fill="#c0c0c0"/>
<rect x="139" y="678" width="1" height="16" fill="#c0c0c0"/>
<rect x="143" y="678" width="1" height="17" fill="#c0c0c0"/>
<rect x="147" y="678" width="1" height="17" fill="#c0c0c0"/>
<rect x="151" y="678" width="1" height="17" fill="#c0c0c0"/>
<rect x="155" y="678" width="1" height="17" fill="#c0c0c0"/>
<rect x="159" y="678" width="1" height="20" fill="#c0c0c0"/>
<rect x="163" y="678" width="1" height="19" fill="#c0c0c0"/>
<rect x="167" y="678" width="1" height="17" fill="#c0c0c0"/>
<rect x="171" y="678" width="1" height="15" fill="#c0c0c0"/>
<rect x="175" y="678" width="1" height="12" fill="#c0c0c0"/>
<rect x="179" y="678" width="1" height="9" fill="#c0c0c0"/>
<rect x="183" y="678" width="1" height="7" fill="#c0c0c0"/>
<rect x="187" y="678" width="1" height="5" fill="#c0c0c0"/>
<rect x="191" y="678" width="1" height="3" fill="#c0c0c0"/>
<rect x="195" y="678" width="1" height="3" fill="#c0c0c0"/>
<rect x="199" y="678" width="1" height="3" fill="#c0c0c0"/>
<rect x="203" y="678" width="1" height="4" fill="#c0c0c0"/>
<rect x="207" y="678" width="1" height="6" fill="#c0c0c0"/>
<rect x="211" y="678" width="1" height="9" fill="#c0c0c0"/>
<rect x="215" y="678" width="1" height="11" fill="#c0c0c0"/>
<rect x="219" y="678" width="1" height="12" fill="#c0c0c0"/>
<rect x="223" y="678" width="1" height="13" fill="#c0c0c0"/>
<rect x="227" y="678" width="1" height="12" fill="#c0c0c0"/>
<rect x="231" y="678" width="1" height="13" fill="#c0c0c0"/>
<rect x="235" y="678" width="1" height="12" fill="#c0c0c0"/>
<rect x="239" y="678" width="1" height="11" fill="#c0c0c0"/>
<rect x="243" y="678" width="1" height="11" fill="#c0c0c0"/>
<rect x="247" y="678" width="1" height="11" fill="#c0c0c0"/>
<rect x="251" y="678" width="1" height="12" fill="#c0c0c0"/>
<rect x="255" y="678" width="1" height="14" fill="#c0c0c0"/>
<rect x="259" y="678" width="1" height="16" fill="#c0c0c0"/>
<rect x="263" y="678" width="1" height="19" fill="#c0c0c0"/>
<rect x="267" y="678" width="1" height="21" fill="#c0c0c0"/>
<rect x="271" y="678" width="1" height="22" fill="#c0c0c0"/>
<rect x="275" y="678" width="1" height="21" fill="#c0c0c0"/>
<rect x="279" y="678" width="1" height="19" fill="#c0c0c0"/>
<rect x="283" y="678" width="1" height="19" fill="#c0c0c0"/>
<rect x="287" y="678" width="1" height="18" fill="#c0c0c0"/>
<rect x="291" y="678" width="1" height="17" fill="#c0c0c0"/>
<rect x="295" y="678" width="1" height="15" fill="#c0c0c0"/>
<rect x="299" y="678" width="1" height="15" fill="#c0c0c0"/>
<rect x="303" y="678" width="1" height="12" fill="#c0c0c0"/>
<rect x="307" y="678" width="1" height="10" fill="#c0c0c0"/>
<rect x="311" y="678" width="1" height="9" fill="#c0c0c0"/>
<rect x="315" y="678" width="1" height="10" fill="#c0c0c0"/>
<rect x="319" y="678" width="1" height="8" fill="#c0c0c0"/>
<rect x="323" y="678" width="1" height="7" fill="#c0c0c0"/>
<rect x="327" y="678" width="1" height="6" fill="#c0c0c0"/>
<rect x="331" y="678" width="1" height="8" fill="#c0c0c0"/>
<rect x="335" y="678" width="1" height="9" fill="#c0c0c0"/>
<rect x="339" y="678" width="1" height="9" fill="#c0c0c0"/>
<rect x="343" y="678" width="1" height="10" fill="#c0c0c0"/>
<rect x="347" y="678" width="1" height="12" fill="#c0c0c0"/>
<rect x="351" y="678" width="1" height="14" fill="#c0c0c0"/>
<rect x="355" y="678" width="1" height="15" fill="#c0c0c0"/>
<rect x="359" y="678" width="1" height="16" fill="#c0c0c0"/>
<rect x="363" y="678" width="1" height="18" fill="#c0c0c0"/>
<rect x="367" y="678" width="1" height="18" fill="#c0c0c0"/>
<rect x="371" y="678" width="1" height="17" fill="#c0c0c0"/>
<rect x="375" y="678" width="1" height="15" fill="#c0c0c0"/>
<rect x="379" y="678" width="1" height="14" fill="#c0c0c0"/>
<rect x="383" y="678" width="1" height="12" fill="#c0c0c0"/>
<rect x="387" y="678" width="1" height="11" fill="#c0c0c0"/>
<rect x="391" y="678" width="1" height="11" fill="#c0c0c0"/>
<rect x="395" y="678" width="1" height="10" fill="#c0c0c0"/>
<rect x="399" y="678" width="1" height="8" fill="#c0c0c0"/>
<rect x="403" y="678" width="1" height="5" fill="#c0c0c0"/>
<rect x="407" y="678" width="1" height="2" fill="#c0c0c0"/>
<rect x="411" y="678" width="1" height="2" fill="#c0c0c0"/>
<rect x="415" y="678" width="1" height="1" fill="#c0c0c0"/>
<rect x="419" y="676" width="1" height="3" fill="#c0c0c0"/>
<rect x="423" y="672" width="1" height="7" fill="#c0c0c0"/>
<rect x="427" y="668" width="1" height="11" fill="#c0c0c0"/>
<rect x="431" y="665" width="1" height="14" fill="#c0c0c0"/>
<rect x="435" y="663" width="1" height="16" fill="#c0c0c0"/>
<rect x="439" y="663" width="1" height="16" fill="#c0c0c0"/>
<rect x="443" y="663" width="1" height="16" fill="#c0c0c0"/>
<rect x="447" y="664" width="1" height="15" fill="#c0c0c0"/>
<rect x="451" y="665" width="1" height="14" fill="#c0c0c0"/>
<rect x="455" y="667" width="1" height="12" fill="#c0c0c0"/>
<rect x="459" y="668" width="1" height="11" fill="#c0c0c0"/>
<rect x="463" y="668" width="1" height="11" fill="#c0c0c0"/>
<rect x="467" y="666" width="1" height="13" fill="#c0c0c0"/>
<rect x="471" y="665" width="1" height="14" fill="#c0c0c0"/>
<rect x="475" y="665" width="1" height="14" fill="#c0c0c0"/>
<rect x="479" y="665" width="1" height="14" fill="#c0c0c0"/>
<rect x="483" y="665" width="1" height="14" fill="#c0c0c0"/>
<rect x="487" y="668" width="1" height="11" fill="#c0c0c0"/>
<rect x="491" y="671" width="1" height="8" fill="#c0c0c0"/>
<rect x="495" y="673" width="1" height="6" fill="#c0c0c0"/>
<rect x="499" y="676" width="1" height="3" fill="#c0c0c0"/>
<rect x="503" y="678" width="1" height="1" fill="#c0c0c0"/>
<rect x="507" y="678" width="1" height="3" fill="#c0c0c0"/>
<rect x="511" y="678" width="1" height="5" fill="#c0c0c0"/>
<rect x="515" y="678" width="1" height="6" fill="#c0c0c0"/>
<rect x="519" y="678" width="1" height="8" fill="#c0c0c0"/>
<rect x="523" y="678" width="1" height="7" fill="#c0c0c0"/>
<rect x="527" y="678" width="1" height="5" fill="#c0c0c0"/>
<rect x="531" y="678" width="1" height="4" fill="#c0c0c0"/>
<rect x="535" y="678" width="1" height="3" fill="#c0c0c0"/>
<rect x="539" y="678" width="1" height="3" fill="#c0c0c0"/>
<rect x="543" y="678" width="1" height="3" fill="#c0c0c0"/>
<rect x="547" y="678" width="1" height="3" fill="#c0c0c0"/>
<rect x="551" y="678" width="1" height="3" fill="#c0c0c0"/>
<rect x="555" y="678" width="1" height="4" fill="#c0c0c0"/>
<rect x="559" y="678" width="1" height="6" fill="#c0c0c0"/>
<rect x="563" y="678" width="1" height="7" fill="#c0c0c0"/>
<rect x="567" y="678" width="1" height="8" fill="#c0c0c0"/>
<rect x="571" y="678" width="1" height="8" fill="#c0c0c0"/>
<rect x="575" y="678" width="1" height="7" fill="#c0c0c0"/>
<rect x="579" y="678" width="1" height="5" fill="#c0c0c0"/>
<rect x="583" y="678" width="1" height="3" fill="#c0c0c0"/>
<rect x="587" y="678" width="1" height="2" fill="#c0c0c0"/>
<rect x="591" y="678" width="1" height="2" fill="#c0c0c0"/>
<rect x="595" y="678" width="1" height="2" fill="#c0c0c0"/>
<rect x="599" y="678" width="1" height="1" fill="#c0c0c0"/>
<rect x="603" y="677" width="1" height="2" fill="#c0c0c0"/>
<rect x="607" y="677" width="1" height="2" fill="#c0c0c0"/>
<rect x="611" y="676" width="1" height="3" fill="#c0c0c0"/>
<rect x="615" y="674" width="1" height="5" fill="#c0c0c0"/>
<rect x="619" y="673" width="1" height="6" fill="#c0c0c0"/>
<rect x="623" y="672" width="1" height="7" fill="#c0c0c0"/>
<rect x="627" y="671" width="1" height="8" fill="#c0c0c0"/>
<rect x="631" y="669" width="1" height="10" fill="#c0c0c0"/>
<rect x="635" y="669" width="1" height="10" fill="#c0c0c0"/>
<rect x="639" y="670" width="1" height="9" fill="#c0c0c0"/>
<rect x="643" y="671" width="1" height="8" fill="#c0c0c0"/>
<rect x="647" y="673" width="1" height="6" fill="#c0c0c0"/>
<rect x="651" y="674" width="1" height="5" fill="#c0c0c0"/>
<rect x="655" y="675" width="1" height="4" fill="#c0c0c0"/>
<rect x="659" y="675" width="1" height="4" fill="#c0c0c0"/>
<rect x="663" y="675" width="1" height="4" fill="#c0c0c0"/>
<rect x="667" y="673" width="1" height="6" fill="#c0c0c0"/>
<rect x="671" y="671" width="1" height="8" fill="#c0c0c0"/>
<rect x="675" y="669" width="1" height="10" fill="#c0c0c0"/>
<rect x="679" y="666" width="1" height="13" fill="#c0c0c0"/>
<rect x="683" y="664" width="1" height="15" fill="#c0c0c0"/>
<rect x="687" y="664" width="1" height="15" fill="#c0c0c0"/>
<rect x="691" y="665" width="1" height="14" fill="#c0c0c0"/>
<rect x="695" y="666" width="1" height="13" fill="#c0c0c0"/>
<rect x="699" y="667" width="1" height="12" fill="#c0c0c0"/>
<rect x="703" y="668" width="1" height="11" fill="#c0c0c0"/>
<rect x="707" y="670" width="1" height="9" fill="#c0c0c0"/>
<rect x="711" y="673" width="1" height="6" fill="#c0c0c0"/>
<rect x="715" y="675" width="1" height="4" fill="#c0c0c0"/>
<rect x="719" y="676" width="1" height="3" fill="#c0c0c0"/>
<rect x="723" y="676" width="1" height="3" fill="#c0c0c0"/>
<rect x="727" y="677" width="1" height="2" fill="#c0c0c0"/>
<rect x="731" y="677" width="1" height="2" fill="#c0c0c0"/>
<rect x="735" y="677" width="1" height="2" fill="#c0c0c0"/>
<rect x="739" y="678" width="1" height="1" fill="#c0c0c0"/>
<rect x="743" y="678" width="1" height="1" fill="#c0c0c0"/>
<rect x="747" y="678" width="1" height="3" fill="#c0c0c0"/>
<rect x="751" y="678" width="1" height="4" fill="#c0c0c0"/>
<rect x="755" y="678" width="1" height="5" fill="#c0c0c0"/>
<rect x="759" y="678" width="1" height="7" fill="#c0c0c0"/>
<rect x="763" y="678" width="1" height="9" fill="#c0c0c0"/>
<rect x="767" y="678" width="1" height="11" fill="#c0c0c0"/>
<rect x="771" y="678" width="1" height="12" fill="#c0c0c0"/>
<rect x="775" y="678" width="1" height="14" fill="#c0c0c0"/>
<rect x="779" y="678" width="1" height="15" fill="#c0c0c0"/>
<rect x="783" y="678" width="1" height="15" fill="#c0c0c0"/>
<rect x="787" y="678" width="1" height="11" fill="#c0c0c0"/>
<rect x="791" y="678" width="1" height="10" fill="#c0c0c0"/>
<rect x="795" y="678" width="1" height="10" fill="#c0c0c0"/>
<rect x="799" y="678" width="1" height="10" fill="#c0c0c0"/>
<rect x="803" y="678" width="1" height="11" fill="#c0c0c0"/>
<rect x="807" y="678" width="1" height="12" fill="#c0c0c0"/>
<rect x="811" y="678" width="1" height="14" fill="#c0c0c0"/>
<rect x="815" y="678" width="1" height="16" fill="#c0c0c0"/>
<rect x="819" y="678" width="1" height="18" fill="#c0c0c0"/>
<rect x="823" y="678" width="1" height="20" fill="#c0c0c0"/>
<rect x="827" y="678" width="1" height="22" fill="#c0c0c0"/>
<rect x="831" y="678" width="1" height="25" fill="#c0c0c0"/>
<rect x="835" y="678" width="1" height="27" fill="#c0c0c0"/>
<rect x="839" y="678" width="1" height="28" fill="#c0c0c0"/>
<rect x="843" y="678" width="1" height="29" fill="#c0c0c0"/>
<rect x="847" y="678" width="1" height="30" fill="#c0c0c0"/>
<rect x="851" y="678" width="1" height="32" fill="#c0c0c0"/>
<rect x="855" y="678" width="1" height="32" fill="#c0c0c0"/>
<rect x="859" y="678" width="1" height="31" fill="#c0c0c0"/>
<rect x="863" y="678" width="1" height="29" fill="#c0c0c0"/>
<rect x="867" y="678" width="1" height="27" fill="#c0c0c0"/>
<rect x="871" y="678" width="1" height="25" fill="#c0c0c0"/>
<rect x="875" y="678" width="1" height="22" fill="#c0c0c0"/>
<rect x="879" y="678" width="1" height="16" fill="#c0c0c0"/>
<rect x="883" y="678" width="1" height="11" fill="#c0c0c0"/>
<rect x="887" y="678" width="1" height="6" fill="#c0c0c0"/>
<rect x="891" y="677" width="1" height="2" fill="#c0c0c0"/>
<rect x="895" y="669" width="1" height="10" fill="#c0c0c0"/>
<rect x="899" y="664" width="1" height="15" fill="#c0c0c0"/>
<rect x="903" y="658" width="1" height="21" fill="#c0c0c0"/>
<rect x="907" y="649" width="1" height="30" fill="#c0c0c0"/>
<rect x="911" y="643" width="1" height="36" fill="#c0c0c0"/>
<rect x="915" y="636" width="1" height="43" fill="#c0c0c0"/>
<rect x="919" y="633" width="1" height="46" fill="#c0c0c0"/>
<rect x="923" y="633" width="1" height="46" fill="#c0c0c0"/>
<rect x="927" y="641" width="1" height="38" fill="#c0c0c0"/>
<rect x="931" y="648" width="1" height="31" fill="#c0c0c0"/>
<rect x="935" y="653" width="1" height="26" fill="#c0c0c0"/>
<rect x="939" y="656" width="1" height="23" fill="#c0c0c0"/>
<rect x="943" y="664" width="1" height="15" fill="#c0c0c0"/>
<rect x="947" y="675" width="1" height="4" fill="#c0c0c0"/>
<rect x="951" y="678" width="1" height="11" fill="#c0c0c0"/>
<rect x="955" y="678" width="1" height="22" fill="#c0c0c0"/>
<rect x="959" y="678" width="1" height="32" fill="#c0c0c0"/>
<rect x="963" y="678" width="1" height="34" fill="#c0c0c0"/>
<rect x="967" y="678" width="1" height="35" fill="#c0c0c0"/>
<rect x="971" y="678" width="1" height="34" fill="#c0c0c0"/>
<rect x="975" y="678" width="1" height="27" fill="#c0c0c0"/>
<rect x="979" y="678" width="1" height="19" fill="#c0c0c0"/>
<rect x="983" y="678" width="1" height="10" fill="#c0c0c0"/>
<rect x="987" y="678" width="1" height="8" fill="#c0c0c0"/>
<rect x="991" y="678" width="1" height="6" fill="#c0c0c0"/>
<rect x="995" y="678" width="1" height="7" fill="#c0c0c0"/>
<rect x="999" y="678" width="1" height="10" fill="#c0c0c0"/>
<rect x="1003" y="678" width="1" height="15" fill="#c0c0c0"/>
<rect x="1007" y="678" width="1" height="18" fill="#c0c0c0"/>
<rect x="1011" y="678" width="1" height="20" fill="#c0c0c0"/>
<rect x="1015" y="678" width="1" height="19" fill="#c0c0c0"/>
<rect x="1019" y="678" width="1" height="17" fill="#c0c0c0"/>
<rect x="1023" y="678" width="1" height="15" fill="#c0c0c0"/>
<rect x="1027" y="678" width="1" height="13" fill="#c0c0c0"/>
<rect x="1031" y="678" width="1" height="11" fill="#c0c0c0"/>
<rect x="1035" y="678" width="1" height="9" fill="#c0c0c0"/>
<rect x="1039" y="678" width="1" height="7" fill="#c0c0c0"/>
<rect x="1043" y="678" width="1" height="7" fill="#c0c0c0"/>
<rect x="1047" y="678" width="1" height="9" fill="#c0c0c0"/>
<rect x="1051" y="678" width="1" height="9" fill="#c0c0c0"/>
<rect x="1055" y="678" width="1" height="10" fill="#c0c0c0"/>
<rect x="1059" y="678" width="1" height="11" fill="#c0c0c0"/>
<rect x="1063" y="678" width="1" height="12" fill="#c0c0c0"/>
<rect x="1067" y="678" width="1" height="11" fill="#c0c0c0"/>
<rect x="1071" y="678" width="1" height="13" fill="#c0c0c0"/>
<rect x="1075" y="678" width="1" height="15" fill="#c0c0c0"/>
<rect x="1079" y="678" width="1" height="16" fill="#c0c0c0"/>
<rect x="1083" y="678" width="1" height="16" fill="#c0c0c0"/>
<rect x="1087" y="678" width="1" height="14" fill="#c0c0c0"/>
<rect x="1091" y="678" width="1" height="12" fill="#c0c0c0"/>
<rect x="1095" y="678" width="1" height="9" fill="#c0c0c0"/>
<rect x="1099" y="678" width="1" height="4" fill="#c0c0c0"/>
<rect x="1103" y="678" width="1" height="2" fill="#c0c0c0"/>
<rect x="1107" y="678" width="1" height="1" fill="#c0c0c0"/>
<rect x="1111" y="678" width="1" height="2" fill="#c0c0c0"/>
<rect x="1115" y="678" width="1" height="4" fill="#c0c0c0"/>
<rect x="1119" y="678" width="1" height="6" fill="#c0c0c0"/>
<rect x="1123" y="678" width="1" height="7" fill="#c0c0c0"/>
<rect x="1127" y="678" width="1" height="7" fill="#c0c0c0"/>
<rect x="1131" y="678" width="1" height="8" fill="#c0c0c0"/>
<rect x="1135" y="678" width="1" height="7" fill="#c0c0c0"/>
<rect x="1139" y="678" width="1" height="7" fill="#c0c0c0"/>
<rect x="1143" y="678" width="1" height="9" fill="#c0c0c0"/>
<rect x="1147" y="678" width="1" height="9" fill="#c0c0c0"/>
<rect x="1151" y="678" width="1" height="10" fill="#c0c0c0"/>
<rect x="1155" y="678" width="1" height="7" fill="#c0c0c0"/>
<rect x="1159" y="678" width="1" height="2" fill="#c0c0c0"/>
<rect x="1163" y="677" width="1" height="2" fill="#c0c0c0"/>
<rect x="1167" y="674" width="1" height="5" fill="#c0c0c0"/>
<rect x="1171" y="674" width="1" height="5" fill="#c0c0c0"/>
<rect x="1175" y="674" width="1" height="5" fill="#c0c0c0"/>
<rect x="1179" y="675" width="1" height="4" fill="#c0c0c0"/>
<rect x="1183" y="674" width="1" height="5" fill="#c0c0c0"/>
<path d="M7 667h1v1h-1zM8 667h1v1h-1zM9 667h1v1h-1zM13 669h1v1h-1zM14 669h1v1h-1zM15 669h1v1h-1zM19 670h1v1h-1zM20 670h1v1h-1zM21 670h1v1h-1zM25 670h1v1h-1zM26 670h1v1h-1zM27 671h1v1h-1zM31 670h1v1h-1zM32 669h1v1h-1zM33 669h1v1h-1zM37 668h1v1h-1zM38 668h1v1h-1zM39 668h1v1h-1zM43 666h1v1h-1zM44 665h1v1h-1zM45 665h1v1h-1zM49 663h1v1h-1zM50 663h1v1h-1zM51 663h1v1h-1zM55 662h1v1h-1zM56 662h1v1h-1zM57 662h1v1h-1zM61 662h1v1h-1zM62 662h1v1h-1zM63 663h1v1h-1zM67 664h1v1h-1zM68 665h1v1h-1zM69 665h1v1h-1zM73 667h1v1h-1zM74 667h1v1h-1zM75 668h1v1h-1zM79 670h1v1h-1zM80 671h1v1h-1zM81 671h1v1h-1zM85 673h1v1h-1zM86 674h1v1h-1zM87 674h1v1h-1zM91 677h1v1h-1zM92 677h1v1h-1zM93 678h1v1h-1zM97 680h1v1h-1zM98 680h1v1h-1zM99 680h1v1h-1zM103 681h1v1h-1zM104 681h1v1h-1zM105 681h1v1h-1zM109 682h1v1h-1zM110 682h1v1h-1zM111 682h1v1h-1zM115 682h1v1h-1zM116 682h1v1h-1zM117 682h1v1h-1zM121 683h1v1h-1zM122 683h1v1h-1zM123 683h1v1h-1zM127 684h1v1h-1zM128 684h1v1h-1zM129 684h1v1h-1zM133 686h1v1h-1zM134 686h1v1h-1zM135 686h1v1h-1zM139 687h1v1h-1zM140 687h1v1h-1zM141 687h1v1h-1zM145 688h1v1h-1zM146 689h1v1h-1zM147 689h1v1h-1zM151 690h1v1h-1zM152 691h1v1h-1zM153 691h1v1h-1zM157 692h1v1h-1zM158 693h1v1h-1zM159 693h1v1h-1zM163 694h1v1h-1zM164 694h1v1h-1zM165 694h1v1h-1zM169 694h1v1h-1zM170 694h1v1h-1zM171 695h1v1h-1zM175 694h1v1h-1zM176 693h1v1h-1zM177 693h1v1h-1zM181 692h1v1h-1zM182 692h1v1h-1zM183 692h1v1h-1zM187 690h1v1h-1zM188 690h1v1h-1zM189 690h1v1h-1zM193 688h1v1h-1zM194 688h1v1h-1zM195 688h1v1h-1zM199 686h1v1h-1zM200 685h1v1h-1zM201 685h1v1h-1zM205 683h1v1h-1zM206 683h1v1h-1zM207 682h1v1h-1zM211 683h1v1h-1zM212 683h1v1h-1zM213 683h1v1h-1zM217 683h1v1h-1zM218 683h1v1h-1zM219 683h1v1h-1zM223 684h1v1h-1zM224 684h1v1h-1zM225 684h1v1h-1zM229 686h1v1h-1zM230 686h1v1h-1zM231 686h1v1h-1zM235 687h1v1h-1zM236 687h1v1h-1zM237 687h1v1h-1zM241 687h1v1h-1zM242 687h1v1h-1zM243 688h1v1h-1zM247 688h1v1h-1zM248 688h1v1h-1zM249 688h1v1h-1zM253 688h1v1h-1zM254 688h1v1h-1zM255 688h1v1h-1zM259 689h1v1h-1zM260 689h1v1h-1zM261 689h1v1h-1zM265 690h1v1h-1zM266 690h1v1h-1zM267 691h1v1h-1zM271 692h1v1h-1zM272 692h1v1h-1zM273 692h1v1h-1zM277 694h1v1h-1zM278 694h1v1h-1zM279 694h1v1h-1zM283 695h1v1h-1zM284 695h1v1h-1zM285 695h1v1h-1zM289 696h1v1h-1zM290 696h1v1h-1zM291 696h1v1h-1zM295 696h1v1h-1zM296 696h1v1h-1zM297 696h1v1h-1zM301 695h1v1h-1zM302 694h1v1h-1zM303 694h1v1h-1zM307 693h1v1h-1zM308 693h1v1h-1zM309 693h1v1h-1zM313 692h1v1h-1zM314 691h1v1h-1zM315 691h1v1h-1zM319 690h1v1h-1zM320 689h1v1h-1zM321 689h1v1h-1zM325 688h1v1h-1zM326 688h1v1h-1zM327 688h1v1h-1zM331 687h1v1h-1zM332 687h1v1h-1zM333 687h1v1h-1zM337 686h1v1h-1zM338 686h1v1h-1zM339 686h1v1h-1zM343 686h1v1h-1zM344 686h1v1h-1zM345 686h1v1h-1zM349 686h1v1h-1zM350 687h1v1h-1zM351 687h1v1h-1zM355 687h1v1h-1zM356 687h1v1h-1zM357 687h1v1h-1zM361 688h1v1h-1zM362 689h1v1h-1zM363 689h1v1h-1zM367 691h1v1h-1zM368 691h1v1h-1zM369 691h1v1h-1zM373 692h1v1h-1zM374 692h1v1h-1zM375 692h1v1h-1zM379 693h1v1h-1zM380 693h1v1h-1zM381 693h1v1h-1zM385 692h1v1h-1zM386 692h1v1h-1zM387 692h1v1h-1zM391 692h1v1h-1zM392 691h1v1h-1zM393 691h1v1h-1zM397 690h1v1h-1zM398 690h1v1h-1zM399 689h1v1h-1zM403 688h1v1h-1zM404 688h1v1h-1zM405 688h1v1h-1zM409 686h1v1h-1zM410 686h1v1h-1zM411 685h1v1h-1zM415 684h1v1h-1zM416 683h1v1h-1zM417 683h1v1h-1zM421 681h1v1h-1zM422 681h1v1h-1zM423 680h1v1h-1zM427 678h1v1h-1zM428 677h1v1h-1zM429 676h1v1h-1zM433 674h1v1h-1zM434 674h1v1h-1zM435 673h1v1h-1zM439 671h1v1h-1zM440 670h1v1h-1zM441 670h1v1h-1zM445 668h1v1h-1zM446 667h1v1h-1zM447 667h1v1h-1zM451 666h1v1h-1zM452 666h1v1h-1zM453 665h1v1h-1zM457 664h1v1h-1zM458 664h1v1h-1zM459 664h1v1h-1zM463 664h1v1h-1zM464 664h1v1h-1zM465 664h1v1h-1zM469 664h1v1h-1zM470 664h1v1h-1zM471 665h1v1h-1zM475 665h1v1h-1zM476 665h1v1h-1zM477 665h1v1h-1zM481 665h1v1h-1zM482 665h1v1h-1zM483 665h1v1h-1zM487 665h1v1h-1zM488 665h1v1h-1zM489 665h1v1h-1zM493 665h1v1h-1zM494 666h1v1h-1zM495 666h1v1h-1zM499 667h1v1h-1zM500 667h1v1h-1zM501 667h1v1h-1zM505 669h1v1h-1zM506 669h1v1h-1zM507 669h1v1h-1zM511 671h1v1h-1zM512 672h1v1h-1zM513 672h1v1h-1zM517 675h1v1h-1zM518 676h1v1h-1zM519 676h1v1h-1zM523 679h1v1h-1zM524 679h1v1h-1zM525 679h1v1h-1zM529 680h1v1h-1zM530 680h1v1h-1zM531 681h1v1h-1zM535 682h1v1h-1zM536 682h1v1h-1zM537 682h1v1h-1zM541 682h1v1h-1zM542 682h1v1h-1zM543 682h1v1h-1zM547 682h1v1h-1zM548 682h1v1h-1zM549 682h1v1h-1zM553 682h1v1h-1zM554 682h1v1h-1zM555 682h1v1h-1zM559 681h1v1h-1zM560 681h1v1h-1zM561 681h1v1h-1zM565 682h1v1h-1zM566 682h1v1h-1zM567 682h1v1h-1zM571 682h1v1h-1zM572 682h1v1h-1zM573 682h1v1h-1zM577 682h1v1h-1zM578 682h1v1h-1zM579 683h1v1h-1zM583 683h1v1h-1zM584 683h1v1h-1zM585 683h1v1h-1zM589 682h1v1h-1zM590 682h1v1h-1zM591 682h1v1h-1zM595 682h1v1h-1zM596 682h1v1h-1zM597 681h1v1h-1zM601 680h1v1h-1zM602 680h1v1h-1zM603 679h1v1h-1zM607 679h1v1h-1zM608 679h1v1h-1zM609 678h1v1h-1zM613 677h1v1h-1zM614 677h1v1h-1zM615 677h1v1h-1zM619 676h1v1h-1zM620 675h1v1h-1zM621 675h1v1h-1zM625 674h1v1h-1zM626 674h1v1h-1zM627 673h1v1h-1zM631 673h1v1h-1zM632 672h1v1h-1zM633 672h1v1h-1zM637 671h1v1h-1zM638 671h1v1h-1zM639 671h1v1h-1zM643 671h1v1h-1zM644 670h1v1h-1zM645 670h1v1h-1zM649 670h1v1h-1zM650 670h1v1h-1zM651 670h1v1h-1zM655 670h1v1h-1zM656 670h1v1h-1zM657 670h1v1h-1zM661 671h1v1h-1zM662 671h1v1h-1zM663 671h1v1h-1zM667 671h1v1h-1zM668 672h1v1h-1zM669 672h1v1h-1zM673 672h1v1h-1zM674 672h1v1h-1zM675 672h1v1h-1zM679 671h1v1h-1zM680 671h1v1h-1zM681 670h1v1h-1zM685 669h1v1h-1zM686 669h1v1h-1zM687 669h1v1h-1zM691 668h1v1h-1zM692 668h1v1h-1zM693 667h1v1h-1zM697 666h1v1h-1zM698 666h1v1h-1zM699 666h1v1h-1zM703 665h1v1h-1zM704 665h1v1h-1zM705 665h1v1h-1zM709 665h1v1h-1zM710 665h1v1h-1zM711 665h1v1h-1zM715 667h1v1h-1zM716 667h1v1h-1zM717 667h1v1h-1zM721 668h1v1h-1zM722 668h1v1h-1zM723 669h1v1h-1zM727 670h1v1h-1zM728 671h1v1h-1zM729 671h1v1h-1zM733 672h1v1h-1zM734 673h1v1h-1zM735 673h1v1h-1zM739 674h1v1h-1zM740 674h1v1h-1zM741 674h1v1h-1zM745 675h1v1h-1zM746 676h1v1h-1zM747 676h1v1h-1zM751 677h1v1h-1zM752 677h1v1h-1zM753 677h1v1h-1zM757 678h1v1h-1zM758 678h1v1h-1zM759 679h1v1h-1zM763 680h1v1h-1zM764 680h1v1h-1zM765 680h1v1h-1zM769 682h1v1h-1zM770 682h1v1h-1zM771 682h1v1h-1zM775 685h1v1h-1zM776 685h1v1h-1zM777 685h1v1h-1zM781 686h1v1h-1zM782 687h1v1h-1zM783 687h1v1h-1zM787 688h1v1h-1zM788 688h1v1h-1zM789 688h1v1h-1zM793 688h1v1h-1zM794 689h1v1h-1zM795 689h1v1h-1zM799 689h1v1h-1zM800 689h1v1h-1zM801 689h1v1h-1zM805 689h1v1h-1zM806 689h1v1h-1zM807 689h1v1h-1zM811 689h1v1h-1zM812 689h1v1h-1zM813 689h1v1h-1zM817 690h1v1h-1zM818 690h1v1h-1zM819 690h1v1h-1zM823 691h1v1h-1zM824 691h1v1h-1zM825 691h1v1h-1zM829 692h1v1h-1zM830 693h1v1h-1zM831 693h1v1h-1zM835 695h1v1h-1zM836 695h1v1h-1zM837 695h1v1h-1zM841 697h1v1h-1zM842 697h1v1h-1zM843 698h1v1h-1zM847 700h1v1h-1zM848 700h1v1h-1zM849 701h1v1h-1zM853 703h1v1h-1zM854 704h1v1h-1zM855 704h1v1h-1zM859 705h1v1h-1zM860 705h1v1h-1zM861 705h1v1h-1zM865 705h1v1h-1zM866 705h1v1h-1zM867 706h1v1h-1zM871 706h1v1h-1zM872 706h1v1h-1zM873 705h1v1h-1zM877 705h1v1h-1zM878 704h1v1h-1zM879 704h1v1h-1zM883 702h1v1h-1zM884 701h1v1h-1zM885 701h1v1h-1zM889 698h1v1h-1zM890 697h1v1h-1zM891 696h1v1h-1zM894 693h1v1h-1zM895 692h1v1h-1zM896 691h1v1h-1zM899 687h1v1h-1zM899 686h1v1h-1zM900 685h1v1h-1zM903 681h1v1h-1zM903 680h1v1h-1zM904 679h1v1h-1zM907 675h1v1h-1zM907 674h1v1h-1zM908 673h1v1h-1zM910 669h1v1h-1zM911 668h1v1h-1zM911 667h1v1h-1zM914 663h1v1h-1zM915 662h1v1h-1zM915 661h1v1h-1zM918 657h1v1h-1zM919 656h1v1h-1zM919 655h1v1h-1zM922 651h1v1h-1zM923 650h1v1h-1zM924 649h1v1h-1zM928 645h1v1h-1zM929 645h1v1h-1zM930 644h1v1h-1zM934 643h1v1h-1zM935 643h1v1h-1zM936 643h1v1h-1zM940 643h1v1h-1zM941 643h1v1h-1zM942 644h1v1h-1zM946 647h1v1h-1zM947 648h1v1h-1zM948 649h1v1h-1zM950 653h1v1h-1zM951 654h1v1h-1zM952 655h1v1h-1zM954 659h1v1h-1zM955 660h1v1h-1zM955 661h1v1h-1zM957 665h1v1h-1zM957 666h1v1h-1zM958 667h1v1h-1zM960 671h1v1h-1zM960 672h1v1h-1zM961 673h1v1h-1zM962 677h1v1h-1zM963 678h1v1h-1zM963 679h1v1h-1zM966 683h1v1h-1zM966 684h1v1h-1zM967 685h1v1h-1zM969 689h1v1h-1zM970 690h1v1h-1zM971 691h1v1h-1zM973 695h1v1h-1zM974 696h1v1h-1zM975 697h1v1h-1zM979 701h1v1h-1zM980 701h1v1h-1zM981 702h1v1h-1zM985 702h1v1h-1zM986 702h1v1h-1zM987 702h1v1h-1zM991 699h1v1h-1zM992 699h1v1h-1zM993 698h1v1h-1zM997 696h1v1h-1zM998 695h1v1h-1zM999 695h1v1h-1zM1003 691h1v1h-1zM1004 691h1v1h-1zM1005 691h1v1h-1zM1009 690h1v1h-1zM1010 690h1v1h-1zM1011 690h1v1h-1zM1015 690h1v1h-1zM1016 690h1v1h-1zM1017 690h1v1h-1zM1021 691h1v1h-1zM1022 691h1v1h-1zM1023 691h1v1h-1zM1027 691h1v1h-1zM1028 691h1v1h-1zM1029 692h1v1h-1zM1033 692h1v1h-1zM1034 692h1v1h-1zM1035 691h1v1h-1zM1039 691h1v1h-1zM1040 691h1v1h-1zM1041 691h1v1h-1zM1045 689h1v1h-1zM1046 689h1v1h-1zM1047 689h1v1h-1zM1051 688h1v1h-1zM1052 687h1v1h-1zM1053 687h1v1h-1zM1057 686h1v1h-1zM1058 686h1v1h-1zM1059 686h1v1h-1zM1063 686h1v1h-1zM1064 686h1v1h-1zM1065 686h1v1h-1zM1069 686h1v1h-1zM1070 687h1v1h-1zM1071 687h1v1h-1zM1075 687h1v1h-1zM1076 688h1v1h-1zM1077 688h1v1h-1zM1081 689h1v1h-1zM1082 689h1v1h-1zM1083 689h1v1h-1zM1087 690h1v1h-1zM1088 690h1v1h-1zM1089 690h1v1h-1zM1093 690h1v1h-1zM1094 690h1v1h-1zM1095 690h1v1h-1zM1099 689h1v1h-1zM1100 689h1v1h-1zM1101 688h1v1h-1zM1105 687h1v1h-1zM1106 687h1v1h-1zM1107 686h1v1h-1zM1111 684h1v1h-1zM1112 684h1v1h-1zM1113 684h1v1h-1zM1117 683h1v1h-1zM1118 683h1v1h-1zM1119 683h1v1h-1zM1123 682h1v1h-1zM1124 682h1v1h-1zM1125 682h1v1h-1zM1129 681h1v1h-1zM1130 681h1v1h-1zM1131 681h1v1h-1zM1135 681h1v1h-1zM1136 682h1v1h-1zM1137 682h1v1h-1zM1141 682h1v1h-1zM1142 682h1v1h-1zM1143 683h1v1h-1zM1147 684h1v1h-1zM1148 684h1v1h-1zM1149 684h1v1h-1zM1153 685h1v1h-1zM1154 685h1v1h-1zM1155 685h1v1h-1zM1159 684h1v1h-1zM1160 684h1v1h-1zM1161 684h1v1h-1zM1165 683h1v1h-1zM1166 682h1v1h-1zM1167 682h1v1h-1zM1171 681h1v1h-1zM1172 680h1v1h-1zM1173 680h1v1h-1zM1177 679h1v1h-1zM1178 679h1v1h-1zM1179 678h1v1h-1z" fill="#ff0000"/>
<rect x="6" y="25" width="1486" height="1" fill="#000"/>
<rect x="6" y="530" width="1486" height="1" fill="#000"/>
<rect x="6" y="25" width="1" height="506" fill="#000"/>
<rect x="1491" y="25" width="1" height="506" fill="#000"/>
<rect x="6" y="532" width="1486" height="1" fill="#000"/>
<rect x="6" y="624" width="1486" height="1" fill="#000"/>
<rect x="6" y="532" width="1" height="93" fill="#000"/>
<rect x="1491" y="532" width="1" height="93" fill="#000"/>
<rect x="6" y="626" width="1486" height="1" fill="#000"/>
<rect x="6" y="717" width="1486" height="1" fill="#000"/>
<rect x="6" y="626" width="1" height="92" fill="#000"/>
<rect x="1491" y="626" width="1" height="92" fill="#000"/>
<path d="M8 560h3v1h-3zM14 560h3v1h-3zM20 560h3v1h-3zM26 560h3v1h-3zM32 560h3v1h-3zM38 560h3v1h-3zM44 560h3v1h-3zM50 560h3v1h-3zM56 560h3v1h-3zM62 560h3v1h-3zM68 560h3v1h-3zM74 560h3v1h-3zM80 560h3v1h-3zM86 560h3v1h-3zM92 560h3v1h-3zM98 560h3v1h-3zM104 560h3v1h-3zM110 560h3v1h-3zM116 560h3v1h-3zM122 560h3v1h-3zM128 560h3v1h-3zM134 560h3v1h-3zM140 560h3v1h-3zM146 560h3v1h-3zM152 560h3v1h-3zM158 560h3v1h-3zM164 560h3v1h-3zM170 560h3v1h-3zM176 560h3v1h-3zM182 560h3v1h-3zM188 560h3v1h-3zM194 560h3v1h-3zM200 560h3v1h-3zM206 560h3v1h-3zM212 560h3v1h-3zM218 560h3v1h-3zM224 560h3v1h-3zM230 560h3v1h-3zM236 560h3v1h-3zM242 560h3v1h-3zM248 560h3v1h-3zM254 560h3v1h-3zM260 560h3v1h-3zM266 560h3v1h-3zM272 560h3v1h-3zM278 560h3v1h-3zM284 560h3v1h-3zM290 560h3v1h-3zM296 560h3v1h-3zM302 560h3v1h-3zM308 560h3v1h-3zM314 560h3v1h-3zM320 560h3v1h-3zM326 560h3v1h-3zM332 560h3v1h-3zM338 560h3v1h-3zM344 560h3v1h-3zM350 560h3v1h-3zM356 560h3v1h-3zM362 560h3v1h-3zM368 560h3v1h-3zM374 560h3v1h-3zM380 560h3v1h-3zM386 560h3v1h-3zM392 560h3v1h-3zM398 560h3v1h-3zM404 560h3v1h-3zM410 560h3v1h-3zM416 560h3v1h-3zM422 560h3v1h-3zM428 560h3v1h-3zM434 560h3v1h-3zM440 560h3v1h-3zM446 560h3v1h-3zM452 560h3v1h-3zM458 560h3v1h-3zM464 560h3v1h-3zM470 560h3v1h-3zM476 560h3v1h-3zM482 560h3v1h-3zM488 560h3v1h-3zM494 560h3v1h-3zM500 560h3v1h-3zM506 560h3v1h-3zM512 560h3v1h-3zM518 560h3v1h-3zM524 560h3v1h-3zM530 560h3v1h-3zM536 560h3v1h-3zM542 560h3v1h-3zM548 560h3v1h-3zM554 560h3v1h-3zM560 560h3v1h-3zM566 560h3v1h-3zM572 560h3v1h-3zM578 560h3v1h-3zM584 560h3v1h-3zM590 560h3v1h-3zM596 560h3v1h-3zM602 560h3v1h-3zM608 560h3v1h-3zM614 560h3v1h-3zM620 560h3v1h-3zM626 560h3v1h-3zM632 560h3v1h-3zM638 560h3v1h-3zM644 560h3v1h-3zM650 560h3v1h-3zM656 560h3v1h-3zM662 560h3v1h-3zM668 560h3v1h-3zM674 560h3v1h-3zM680 560h3v1h-3zM686 560h3v1h-3zM692 560h3v1h-3zM698 560h3v1h-3zM704 560h3v1h-3zM710 560h3v1h-3zM716 560h3v1h-3zM722 560h3v1h-3zM728 560h3v1h-3zM734 560h3v1h-3zM740 560h3v1h-3zM746 560h3v1h-3zM752 560h3v1h-3zM758 560h3v1h-3zM764 560h3v1h-3zM770 560h3v1h-3zM776 560h3v1h-3zM782 560h3v1h-3zM788 560h3v1h-3zM794 560h3v1h-3zM800 560h3v1h-3zM806 560h3v1h-3zM812 560h3v1h-3zM818 560h3v1h-3zM824 560h3v1h-3zM830 560h3v1h-3zM836 560h3v1h-3zM842 560h3v1h-3zM848 560h3v1h-3zM854 560h3v1h-3zM860 560h3v1h-3zM866 560h3v1h-3zM872 560h3v1h-3zM878 560h3v1h-3zM884 560h3v1h-3zM890 560h3v1h-3zM896 560h3v1h-3zM902 560h3v1h-3zM908 560h3v1h-3zM914 560h3v1h-3zM920 560h3v1h-3zM926 560h3v1h-3zM932 560h3v1h-3zM938 560h3v1h-3zM944 560h3v1h-3zM950 560h3v1h-3zM956 560h3v1h-3zM962 560h3v1h-3zM968 560h3v1h-3zM974 560h3v1h-3zM980 560h3v1h-3zM986 560h3v1h-3zM992 560h3v1h-3zM998 560h3v1h-3zM1004 560h3v1h-3zM1010 560h3v1h-3zM1016 560h3v1h-3zM1022 560h3v1h-3zM1028 560h3v1h-3zM1034 560h3v1h-3zM1040 560h3v1h-3zM1046 560h3v1h-3zM1052 560h3v1h-3zM1058 560h3v1h-3zM1064 560h3v1h-3zM1070 560h3v1h-3zM1076 560h3v1h-3zM1082 560h3v1h-3zM1088 560h3v1h-3zM1094 560h3v1h-3zM1100 560h3v1h-3zM1106 560h3v1h-3zM1112 560h3v1h-3zM1118 560h3v1h-3zM1124 560h3v1h-3zM1130 560h3v1h-3zM1136 560h3v1h-3zM1142 560h3v1h-3zM1148 560h3v1h-3zM1154 560h3v1h-3zM1160 560h3v1h-3zM1166 560h3v1h-3zM1172 560h3v1h-3zM1178 560h3v1h-3zM1184 560h3v1h-3zM1190 560h3v1h-3zM1196 560h3v1h-3zM1202 560h3v1h-3zM1208 560h3v1h-3zM1214 560h3v1h-3zM1220 560h3v1h-3zM1226 560h3v1h-3zM1232 560h3v1h-3zM1238 560h3v1h-3zM1244 560h3v1h-3zM1250 560h3v1h-3zM1256 560h3v1h-3zM1262 560h3v1h-3zM1268 560h3v1h-3zM1274 560h3v1h-3zM1280 560h3v1h-3zM1286 560h3v1h-3zM1292 560h3v1h-3zM1298 560h3v1h-3zM1304 560h3v1h-3zM1310 560h3v1h-3zM1316 560h3v1h-3zM1322 560h3v1h-3zM1328 560h3v1h-3zM1334 560h3v1h-3zM1340 560h3v1h-3zM1346 560h3v1h-3zM1352 560h3v1h-3zM1358 560h3v1h-3zM1364 560h3v1h-3zM1370 560h3v1h-3zM1376 560h3v1h-3zM1382 560h3v1h-3zM1388 560h3v1h-3zM1394 560h3v1h-3zM1400 560h3v1h-3zM1406 560h3v1h-3zM1412 560h3v1h-3zM1418 560h3v1h-3zM1424 560h3v1h-3zM1430 560h3v1h-3zM1436 560h3v1h-3zM1442 560h3v1h-3zM1448 560h3v1h-3zM1454 560h3v1h-3zM1460 560h3v1h-3zM1466 560h3v1h-3zM1472 560h3v1h-3zM1478 560h3v1h-3zM1484 560h3v1h-3zM1490 560h2v1h-2z" fill="#c0c0c0"/>
<path d="M8 596h3v1h-3zM14 596h3v1h-3zM20 596h3v1h-3zM26 596h3v1h-3zM32 596h3v1h-3zM38 596h3v1h-3zM44 596h3v1h-3zM50 596h3v1h-3zM56 596h3v1h-3zM62 596h3v1h-3zM68 596h3v1h-3zM74 596h3v1h-3zM80 596h3v1h-3zM86 596h3v1h-3zM92 596h3v1h-3zM98 596h3v1h-3zM104 596h3v1h-3zM110 596h3v1h-3zM116 596h3v1h-3zM122 596h3v1h-3zM128 596h3v1h-3zM134 596h3v1h-3zM140 596h3v1h-3zM146 596h3v1h-3zM152 596h3v1h-3zM158 596h3v1h-3zM164 596h3v1h-3zM170 596h3v1h-3zM176 596h3v1h-3zM182 596h3v1h-3zM188 596h3v1h-3zM194 596h3v1h-3zM200 596h3v1h-3zM206 596h3v1h-3zM212 596h3v1h-3zM218 596h3v1h-3zM224 596h3v1h-3zM230 596h3v1h-3zM236 596h3v1h-3zM242 596h3v1h-3zM248 596h3v1h-3zM254 596h3v1h-3zM260 596h3v1h-3zM266 596h3v1h-3zM272 596h3v1h-3zM278 596h3v1h-3zM284 596h3v1h-3zM290 596h3v1h-3zM296 596h3v1h-3zM302 596h3v1h-3zM308 596h3v1h-3zM314 596h3v1h-3zM320 596h3v1h-3zM326 596h3v1h-3zM332 596h3v1h-3zM338 596h3v1h-3zM344 596h3v1h-3zM350 596h3v1h-3zM356 596h3v1h-3zM362 596h3v1h-3zM368 596h3v1h-3zM374 596h3v1h-3zM380 596h3v1h-3zM386 596h3v1h-3zM392 596h3v1h-3zM398 596h3v1h-3zM404 596h3v1h-3zM410 596h3v1h-3zM416 596h3v1h-3zM422 596h3v1h-3zM428 596h3v1h-3zM434 596h3v1h-3zM440 596h3v1h-3zM446 596h3v1h-3zM452 596h3v1h-3zM458 596h3v1h-3zM464 596h3v1h-3zM470 596h3v1h-3zM476 596h3v1h-3zM482 596h3v1h-3zM488 596h3v1h-3zM494 596h3v1h-3zM500 596h3v1h-3zM506 596h3v1h-3zM512 596h3v1h-3zM518 596h3v1h-3zM524 596h3v1h-3zM530 596h3v1h-3zM536 596h3v1h-3zM542 596h3v1h-3zM548 596h3v1h-3zM554 596h3v1h-3zM560 596h3v1h-3zM566 596h3v1h-3zM572 596h3v1h-3zM578 596h3v1h-3zM584 596h3v1h-3zM590 596h3v1h-3zM596 596h3v1h-3zM602 596h3v1h-3zM608 596h3v1h-3zM614 596h3v1h-3zM620 596h3v1h-3zM626 596h3v1h-3zM632 596h3v1h-3zM638 596h3v1h-3zM644 596h3v1h-3zM650 596h3v1h-3zM656 596h3v1h-3zM662 596h3v1h-3zM668 596h3v1h-3zM674 596h3v1h-3zM680 596h3v1h-3zM686 596h3v1h-3zM692 596h3v1h-3zM698 596h3v1h-3zM704 596h3v1h-3zM710 596h3v1h-3zM716 596h3v1h-3zM722 596h3v1h-3zM728 596h3v1h-3zM734 596h3v1h-3zM740 596h3v1h-3zM746 596h3v1h-3zM752 596h3v1h-3zM758 596h3v1h-3zM764 596h3v1h-3zM770 596h3v1h-3zM776 596h3v1h-3zM782 596h3v1h-3zM788 596h3v1h-3zM794 596h3v1h-3zM800 596h3v1h-3zM806 596h3v1h-3zM812 596h3v1h-3zM818 596h3v1h-3zM824 596h3v1h-3zM830 596h3v1h-3zM836 596h3v1h-3zM842 596h3v1h-3zM848 596h3v1h-3zM854 596h3v1h-3zM860 596h3v1h-3zM866 596h3v1h-3zM872 596h3v1h-3zM878 596h3v1h-3zM884 596h3v1h-3zM890 596h3v1h-3zM896 596h3v1h-3zM902 596h3v1h-3zM908 596h3v1h-3zM914 596h3v1h-3zM920 596h3v1h-3zM926 596h3v1h-3zM932 596h3v1h-3zM938 596h3v1h-3zM944 596h3v1h-3zM950 596h3v1h-3zM956 596h3v1h-3zM962 596h3v1h-3zM968 596h3v1h-3zM974 596h3v1h-3zM980 596h3v1h-3zM986 596h3v1h-3zM992 596h3v1h-3zM998 596h3v1h-3zM1004 596h3v1h-3zM1010 596h3v1h-3zM1016 596h3v1h-3zM1022 596h3v1h-3zM1028 596h3v1h-3zM1034 596h3v1h-3zM1040 596h3v1h-3zM1046 596h3v1h-3zM1052 596h3v1h-3zM1058 596h3v1h-3zM1064 596h3v1h-3zM1070 596h3v1h-3zM1076 596h3v1h-3zM1082 596h3v1h-3zM1088 596h3v1h-3zM1094 596h3v1h-3zM1100 596h3v1h-3zM1106 596h3v1h-3zM1112 596h3v1h-3zM1118 596h3v1h-3zM1124 596h3v1h-3zM1130 596h3v1h-3zM1136 596h3v1h-3zM1142 596h3v1h-3zM1148 596h3v1h-3zM1154 596h3v1h-3zM1160 596h3v1h-3zM1166 596h3v1h-3zM1172 596h3v1h-3zM1178 596h3v1h-3zM1184 596h3v1h-3zM1190 596h3v1h-3zM1196 596h3v1h-3zM1202 596h3v1h-3zM1208 596h3v1h-3zM1214 596h3v1h-3zM1220 596h3v1h-3zM1226 596h3v1h-3zM1232 596h3v1h-3zM1238 596h3v1h-3zM1244 596h3v1h-3zM1250 596h3v1h-3zM1256 596h3v1h-3zM1262 596h3v1h-3zM1268 596h3v1h-3zM1274 596h3v1h-3zM1280 596h3v1h-3zM1286 596h3v1h-3zM1292 596h3v1h-3zM1298 596h3v1h-3zM1304 596h3v1h-3zM1310 596h3v1h-3zM1316 596h3v1h-3zM1322 596h3v1h-3zM1328 596h3v1h-3zM1334 596h3v1h-3zM1340 596h3v1h-3zM1346 596h3v1h-3zM1352 596h3v1h-3zM1358 596h3v1h-3zM1364 596h3v1h-3zM1370 596h3v1h-3zM1376 596h3v1h-3zM1382 596h3v1h-3zM1388 596h3v1h-3zM1394 596h3v1h-3zM1400 596h3v1h-3zM1406 596h3v1h-3zM1412 596h3v1h-3zM1418 596h3v1h-3zM1424 596h3v1h-3zM1430 596h3v1h-3zM1436 596h3v1h-3zM1442 596h3v1h-3zM1448 596h3v1h-3zM1454 596h3v1h-3zM1460 596h3v1h-3zM1466 596h3v1h-3zM1472 596h3v1h-3zM1478 596h3v1h-3zM1484 596h3v1h-3zM1490 596h2v1h-2z" fill="#c0c0c0"/>
<rect x="1492" y="32" width="2" height="1" fill="#000"/>
<rect x="1492" y="65" width="2" height="1" fill="#000"/>
<rect x="1492" y="98" width="2" height="1" fill="#000"/>
<rect x="1492" y="131" width="2" height="1" fill="#000"/>
<rect x="1492" y="164" width="2" height="1" fill="#000"/>
<rect x="1492" y="197" width="2" height="1" fill="#000"/>
<rect x="1492" y="230" width="2" height="1" fill="#000"/>
<rect x="1492" y="263" width="2" height="1" fill="#000"/>
<rect x="1492" y="296" width="2" height="1" fill="#000"/>
<rect x="1492" y="329" width="2" height="1" fill="#000"/>
<rect x="1492" y="362" width="2" height="1" fill="#000"/>
<rect x="1492" y="395" width="2" height="1" fill="#000"/>
<rect x="1492" y="428" width="2" height="1" fill="#000"/>
<rect x="1492" y="461" width="2" height="1" fill="#000"/>
<rect x="1492" y="494" width="2" height="1" fill="#000"/>
<rect x="1492" y="527" width="2" height="1" fill="#000"/>
<rect x="1492" y="534" width="1" height="1" fill="#000"/>
<rect x="1492" y="623" width="1" height="1" fill="#000"/>
<rect x="1492" y="628" width="1" height="1" fill="#000"/>
<rect x="1492" y="678" width="2" height="1" fill="#000"/>
<rect x="1492" y="716" width="1" height="1" fill="#000"/>
<rect x="7" y="718" width="1" height="3" fill="#000"/>
<rect x="71" y="718" width="1" height="3" fill="#000"/>
<rect x="135" y="718" width="1" height="3" fill="#000"/>
<rect x="199" y="718" width="1" height="3" fill="#000"/>
<rect x="263" y="718" width="1" height="3" fill="#000"/>
<rect x="327" y="718" width="1" height="3" fill="#000"/>
<rect x="391" y="718" width="1" height="3" fill="#000"/>
<rect x="455" y="718" width="1" height="3" fill="#000"/>
<rect x="519" y="718" width="1" height="3" fill="#000"/>
<rect x="583" y="718" width="1" height="3" fill="#000"/>
<rect x="647" y="718" width="1" height="3" fill="#000"/>
<rect x="711" y="718" width="1" height="3" fill="#000"/>
<rect x="775" y="718" width="1" height="3" fill="#000"/>
<rect x="839" y="718" width="1" height="3" fill="#000"/>
<rect x="903" y="718" width="1" height="3" fill="#000"/>
<rect x="967" y="718" width="1" height="3" fill="#000"/>
<rect x="1031" y="718" width="1" height="3" fill="#000"/>
<rect x="1095" y="718" width="1" height="3" fill="#000"/>
<rect x="1159" y="718" width="1" height="3" fill="#000"/>
<polygon points="1187,26 1198,26 1192.5,31.5" fill="#c0c0c0" shape-rendering="auto"/>
<polygon points="10,32.5 17,32.5 13.5,36" fill="#000" shape-rendering="auto"/>
<rect x="212" y="744" width="1" height="14" fill="#606060"/>
<rect x="316" y="744" width="1" height="14" fill="#606060"/>
<rect x="420" y="744" width="1" height="14" fill="#606060"/>
<rect x="524" y="744" width="1" height="14" fill="#606060"/>
<rect x="628" y="744" width="1" height="14" fill="#606060"/>
<rect x="732" y="744" width="1" height="14" fill="#606060"/>
<rect x="824" y="744" width="1" height="14" fill="#606060"/>
<rect x="896" y="744" width="1" height="14" fill="#606060"/>
<rect x="976" y="744" width="1" height="14" fill="#606060"/>
<rect x="1056" y="744" width="1" height="14" fill="#606060"/>
<rect x="1136" y="744" width="1" height="14" fill="#606060"/>
<rect x="1212" y="744" width="1" height="14" fill="#606060"/>
<rect x="1284" y="744" width="1" height="14" fill="#606060"/>
<rect x="1368" y="744" width="1" height="14" fill="#606060"/>
<rect x="1448" y="744" width="1" height="14" fill="#606060"/>
<polygon points="1510.3,747 1510.3,753.6 1506.6,750.3" fill="#a0a0a0" shape-rendering="auto"/>
<polygon points="1525.8,747 1525.8,753.6 1529.5,750.3" fill="#a0a0a0" shape-rendering="auto"/>
</g>
<text x="1497.5" y="36" font-size="10" fill="#000" textLength="32.5" lengthAdjust="spacingAndGlyphs" stroke="#000" stroke-width="0.2" >1.15280</text>
<text x="1497.5" y="69" font-size="10" fill="#000" textLength="32.5" lengthAdjust="spacingAndGlyphs" stroke="#000" stroke-width="0.2" >1.14680</text>
<text x="1497.5" y="102" font-size="10" fill="#000" textLength="32.5" lengthAdjust="spacingAndGlyphs" stroke="#000" stroke-width="0.2" >1.14065</text>
<text x="1497.5" y="135" font-size="10" fill="#000" textLength="32.5" lengthAdjust="spacingAndGlyphs" stroke="#000" stroke-width="0.2" >1.13465</text>
<text x="1497.5" y="168" font-size="10" fill="#000" textLength="32.5" lengthAdjust="spacingAndGlyphs" stroke="#000" stroke-width="0.2" >1.12865</text>
<text x="1497.5" y="201" font-size="10" fill="#000" textLength="32.5" lengthAdjust="spacingAndGlyphs" stroke="#000" stroke-width="0.2" >1.12250</text>
<text x="1497.5" y="234" font-size="10" fill="#000" textLength="32.5" lengthAdjust="spacingAndGlyphs" stroke="#000" stroke-width="0.2" >1.11650</text>
<text x="1497.5" y="267" font-size="10" fill="#000" textLength="32.5" lengthAdjust="spacingAndGlyphs" stroke="#000" stroke-width="0.2" >1.11050</text>
<text x="1497.5" y="300" font-size="10" fill="#000" textLength="32.5" lengthAdjust="spacingAndGlyphs" stroke="#000" stroke-width="0.2" >1.10435</text>
<text x="1497.5" y="333" font-size="10" fill="#000" textLength="32.5" lengthAdjust="spacingAndGlyphs" stroke="#000" stroke-width="0.2" >1.09835</text>
<text x="1497.5" y="366" font-size="10" fill="#000" textLength="32.5" lengthAdjust="spacingAndGlyphs" stroke="#000" stroke-width="0.2" >1.09235</text>
<text x="1497.5" y="399" font-size="10" fill="#000" textLength="32.5" lengthAdjust="spacingAndGlyphs" stroke="#000" stroke-width="0.2" >1.08620</text>
<text x="1497.5" y="432" font-size="10" fill="#000" textLength="32.5" lengthAdjust="spacingAndGlyphs" stroke="#000" stroke-width="0.2" >1.08020</text>
<text x="1497.5" y="465" font-size="10" fill="#000" textLength="32.5" lengthAdjust="spacingAndGlyphs" stroke="#000" stroke-width="0.2" >1.07420</text>
<text x="1497.5" y="498" font-size="10" fill="#000" textLength="32.5" lengthAdjust="spacingAndGlyphs" stroke="#000" stroke-width="0.2" >1.06805</text>
<text x="1497.5" y="531" font-size="10" fill="#000" textLength="32.5" lengthAdjust="spacingAndGlyphs" stroke="#000" stroke-width="0.2" >1.06205</text>
<g shape-rendering="crispEdges">
<rect x="1493" y="149" width="40" height="11" fill="#ff0000"/>
<rect x="1493" y="205" width="40" height="11" fill="#ff0000"/>
<rect x="1493" y="259" width="40" height="11" fill="#ff0000"/>
<rect x="1493" y="314" width="40" height="11" fill="#ff0000"/>
<rect x="1493" y="379" width="40" height="11" fill="#00ff00"/>
<rect x="1493" y="440" width="40" height="11" fill="#0000ff"/>
<rect x="1493" y="516" width="40" height="11" fill="#0000ff"/>
<rect x="1493" y="364" width="40" height="11" fill="#000"/>
</g>
<text x="1498" y="158" font-size="10" fill="#fff" textLength="32" lengthAdjust="spacingAndGlyphs" stroke="#fff" stroke-width="0.2" >1.13034</text>
<text x="1498" y="214" font-size="10" fill="#fff" textLength="32" lengthAdjust="spacingAndGlyphs" stroke="#fff" stroke-width="0.2" >1.12004</text>
<text x="1498" y="268" font-size="10" fill="#fff" textLength="32" lengthAdjust="spacingAndGlyphs" stroke="#fff" stroke-width="0.2" >1.11009</text>
<text x="1498" y="323" font-size="10" fill="#fff" textLength="32" lengthAdjust="spacingAndGlyphs" stroke="#fff" stroke-width="0.2" >1.10008</text>
<text x="1498" y="388" font-size="10" fill="#fff" textLength="32" lengthAdjust="spacingAndGlyphs" stroke="#fff" stroke-width="0.2" >1.08800</text>
<text x="1498" y="449" font-size="10" fill="#fff" textLength="32" lengthAdjust="spacingAndGlyphs" stroke="#fff" stroke-width="0.2" >1.07697</text>
<text x="1498" y="525" font-size="10" fill="#fff" textLength="32" lengthAdjust="spacingAndGlyphs" stroke="#fff" stroke-width="0.2" >1.06306</text>
<text x="1498" y="373" font-size="10" fill="#fff" textLength="32" lengthAdjust="spacingAndGlyphs" stroke="#fff" stroke-width="0.2" >1.09095</text>
<text x="1495.5" y="543" font-size="10" fill="#000" textLength="14.5" lengthAdjust="spacingAndGlyphs" stroke="#000" stroke-width="0.2" >100</text>
<text x="1494.5" y="564" font-size="10" fill="#000" textLength="9.8" lengthAdjust="spacingAndGlyphs" stroke="#000" stroke-width="0.2" >70</text>
<text x="1494.5" y="600" font-size="10" fill="#000" textLength="9.8" lengthAdjust="spacingAndGlyphs" stroke="#000" stroke-width="0.2" >30</text>
<text x="1495.5" y="621" font-size="10" fill="#000" stroke="#000" stroke-width="0.2" >0</text>
<text x="1495.5" y="637" font-size="10" fill="#000" textLength="38" lengthAdjust="spacingAndGlyphs" stroke="#000" stroke-width="0.2" >0.011277</text>
<text x="1495.5" y="682" font-size="10" fill="#000" textLength="17" lengthAdjust="spacingAndGlyphs" stroke="#000" stroke-width="0.2" >0.00</text>
<text x="1495.5" y="715" font-size="10" fill="#000" textLength="41" lengthAdjust="spacingAndGlyphs" stroke="#000" stroke-width="0.2" >-0.008845</text>
<text x="22.4" y="37" font-size="10" fill="#000" textLength="63" lengthAdjust="spacingAndGlyphs" stroke="#000" stroke-width="0.2" >EURUSD,Daily</text>
<text x="92.4" y="37" font-size="10" fill="#000" textLength="140.8" lengthAdjust="spacingAndGlyphs" stroke="#000" stroke-width="0.2" >1.08944 1.09096 1.08915 1.09095</text>
<text x="11.5" y="545" font-size="10" fill="#000" textLength="67" lengthAdjust="spacingAndGlyphs" stroke="#000" stroke-width="0.2" >RSI(14) 53.1532</text>
<text x="11.5" y="639" font-size="10" fill="#000" textLength="147" lengthAdjust="spacingAndGlyphs" stroke="#000" stroke-width="0.2" >MACD(12,26,9) 0.001038 0.000221</text>
<text x="6.5" y="731" font-size="10" fill="#000" textLength="49.5" lengthAdjust="spacingAndGlyphs" stroke="#000" stroke-width="0.2" >18 Jun 2019</text>
<text x="70.5" y="731" font-size="10" fill="#000" textLength="42.2" lengthAdjust="spacingAndGlyphs" stroke="#000" stroke-width="0.2" >6 Jul 2019</text>
<text x="134.5" y="731" font-size="10" fill="#000" textLength="46.7" lengthAdjust="spacingAndGlyphs" stroke="#000" stroke-width="0.2" >25 Jul 2019</text>
<text x="198.5" y="731" font-size="10" fill="#000" textLength="52.2" lengthAdjust="spacingAndGlyphs" stroke="#000" stroke-width="0.2" >13 Aug 2019</text>
<text x="262.5" y="731" font-size="10" fill="#000" textLength="52.7" lengthAdjust="spacingAndGlyphs" stroke="#000" stroke-width="0.2" >31 Aug 2019</text>
<text x="326.5" y="731" font-size="10" fill="#000" textLength="50.9" lengthAdjust="spacingAndGlyphs" stroke="#000" stroke-width="0.2" >19 Sep 2019</text>
<text x="390.5" y="731" font-size="10" fill="#000" textLength="45.6" lengthAdjust="spacingAndGlyphs" stroke="#000" stroke-width="0.2" >8 Oct 2019</text>
<text x="454.5" y="731" font-size="10" fill="#000" textLength="50.4" lengthAdjust="spacingAndGlyphs" stroke="#000" stroke-width="0.2" >26 Oct 2019</text>
<text x="518.5" y="731" font-size="10" fill="#000" textLength="53.5" lengthAdjust="spacingAndGlyphs" stroke="#000" stroke-width="0.2" >14 Nov 2019</text>
<text x="582.5" y="731" font-size="10" fill="#000" textLength="47" lengthAdjust="spacingAndGlyphs" stroke="#000" stroke-width="0.2" >3 Dec 2019</text>
<text x="646.5" y="731" font-size="10" fill="#000" textLength="51.4" lengthAdjust="spacingAndGlyphs" stroke="#000" stroke-width="0.2" >21 Dec 2019</text>
<text x="710.5" y="731" font-size="10" fill="#000" textLength="45" lengthAdjust="spacingAndGlyphs" stroke="#000" stroke-width="0.2" >9 Jan 2020</text>
<text x="774.5" y="731" font-size="10" fill="#000" textLength="49.6" lengthAdjust="spacingAndGlyphs" stroke="#000" stroke-width="0.2" >28 Jan 2020</text>
<text x="838.5" y="731" font-size="10" fill="#000" textLength="51.5" lengthAdjust="spacingAndGlyphs" stroke="#000" stroke-width="0.2" >15 Feb 2020</text>
<text x="902.5" y="731" font-size="10" fill="#000" textLength="46.2" lengthAdjust="spacingAndGlyphs" stroke="#000" stroke-width="0.2" >5 Mar 2020</text>
<text x="966.5" y="731" font-size="10" fill="#000" textLength="51.7" lengthAdjust="spacingAndGlyphs" stroke="#000" stroke-width="0.2" >24 Mar 2020</text>
<text x="1030.5" y="731" font-size="10" fill="#000" textLength="49.8" lengthAdjust="spacingAndGlyphs" stroke="#000" stroke-width="0.2" >11 Apr 2020</text>
<text x="1094.5" y="731" font-size="10" fill="#000" textLength="49.6" lengthAdjust="spacingAndGlyphs" stroke="#000" stroke-width="0.2" >30 Apr 2020</text>
<text x="1158.5" y="731" font-size="10" fill="#000" textLength="54.7" lengthAdjust="spacingAndGlyphs" stroke="#000" stroke-width="0.2" >19 May 2020</text>
<text x="1.5" y="13" font-size="10" fill="#404040" textLength="8.5" lengthAdjust="spacingAndGlyphs" stroke="#404040" stroke-width="0.1" >15</text>
<text x="20.5" y="13" font-size="10" fill="#404040" textLength="17.5" lengthAdjust="spacingAndGlyphs" stroke="#404040" stroke-width="0.1" >M30</text>
<text x="51.8" y="13" font-size="10" fill="#404040" textLength="11.2" lengthAdjust="spacingAndGlyphs" stroke="#404040" stroke-width="0.1" >H1</text>
<text x="78.7" y="13" font-size="10" fill="#404040" textLength="12.3" lengthAdjust="spacingAndGlyphs" stroke="#404040" stroke-width="0.1" >H4</text>
<text x="107.6" y="13" font-size="10" fill="#404040" textLength="11.4" lengthAdjust="spacingAndGlyphs" stroke="#404040" stroke-width="0.1" >D1</text>
<text x="135" y="13" font-size="10" fill="#404040" textLength="14" lengthAdjust="spacingAndGlyphs" stroke="#404040" stroke-width="0.1" >W1</text>
<text x="161.8" y="13" font-size="10" fill="#404040" textLength="14.3" lengthAdjust="spacingAndGlyphs" stroke="#404040" stroke-width="0.1" >MN</text>
<text x="20.5" y="755.7" font-size="13.2" fill="#000" textLength="79.5" lengthAdjust="spacingAndGlyphs" stroke="#000" stroke-width="0.1" >EURUSD,Daily</text>
<text x="122.2" y="755.7" font-size="13.2" fill="#808080" textLength="78.8" lengthAdjust="spacingAndGlyphs" stroke="#808080" stroke-width="0.05" >USDCHF,Daily</text>
<text x="223.2" y="755.7" font-size="13.2" fill="#808080" textLength="81.8" lengthAdjust="spacingAndGlyphs" stroke="#808080" stroke-width="0.05" >AUDUSD,Daily</text>
<text x="327.7" y="755.7" font-size="13.2" fill="#808080" textLength="80.5" lengthAdjust="spacingAndGlyphs" stroke="#808080" stroke-width="0.05" >USDCAD,Daily</text>
<text x="430.5" y="755.7" font-size="13.2" fill="#808080" textLength="82.5" lengthAdjust="spacingAndGlyphs" stroke="#808080" stroke-width="0.05" >USDCNH,Daily</text>
<text x="536.3" y="755.7" font-size="13.2" fill="#808080" textLength="80" lengthAdjust="spacingAndGlyphs" stroke="#808080" stroke-width="0.05" >EURUSD,Daily</text>
<text x="640.2" y="755.7" font-size="13.2" fill="#808080" textLength="80" lengthAdjust="spacingAndGlyphs" stroke="#808080" stroke-width="0.05" >GBPUSD,Daily</text>
<text x="743.2" y="755.7" font-size="13.2" fill="#808080" textLength="68.5" lengthAdjust="spacingAndGlyphs" stroke="#808080" stroke-width="0.05" >XAUUSD,H4</text>
<text x="835.2" y="755.7" font-size="13.2" fill="#808080" textLength="49.4" lengthAdjust="spacingAndGlyphs" stroke="#808080" stroke-width="0.05" >HK50,H1</text>
<text x="907.6" y="755.7" font-size="13.2" fill="#808080" textLength="56.1" lengthAdjust="spacingAndGlyphs" stroke="#808080" stroke-width="0.05" >UK100,H1</text>
<text x="987.2" y="755.7" font-size="13.2" fill="#808080" textLength="56.4" lengthAdjust="spacingAndGlyphs" stroke="#808080" stroke-width="0.05" >UK100,H1</text>
<text x="1067.4" y="755.7" font-size="13.2" fill="#808080" textLength="56.1" lengthAdjust="spacingAndGlyphs" stroke="#808080" stroke-width="0.05" >GER30,H1</text>
<text x="1146.5" y="755.7" font-size="13.2" fill="#808080" textLength="54" lengthAdjust="spacingAndGlyphs" stroke="#808080" stroke-width="0.05" >FRA40,H1</text>
<text x="1222.7" y="755.7" font-size="13.2" fill="#808080" textLength="49.9" lengthAdjust="spacingAndGlyphs" stroke="#808080" stroke-width="0.05" >USOil,H1</text>
<text x="1294.5" y="755.7" font-size="13.2" fill="#808080" textLength="61.9" lengthAdjust="spacingAndGlyphs" stroke="#808080" stroke-width="0.05" >USDJPY,H1</text>
<text x="1378.5" y="755.7" font-size="13.2" fill="#808080" textLength="58.2" lengthAdjust="spacingAndGlyphs" stroke="#808080" stroke-width="0.05" >DJ30,Daily</text>
</svg>
</body></html>
